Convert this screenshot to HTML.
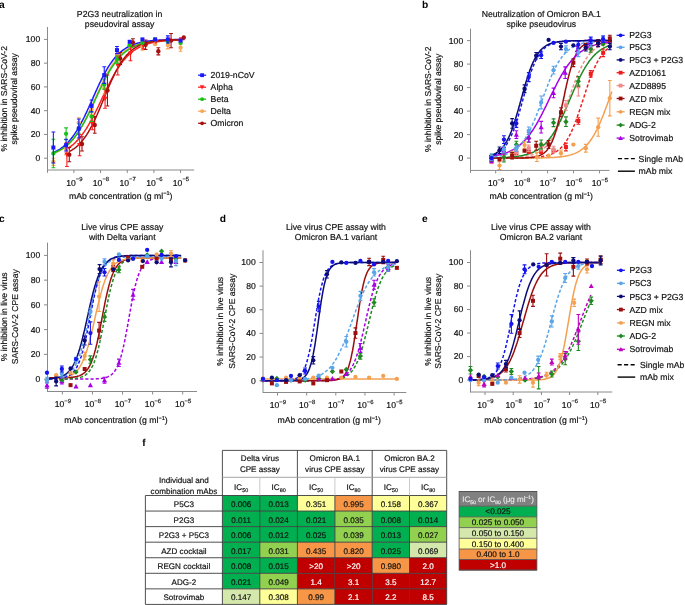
<!DOCTYPE html>
<html><head><meta charset="utf-8"><style>
html,body{margin:0;padding:0;background:#fff;width:685px;height:605px;overflow:hidden}
svg{display:block;font-family:"Liberation Sans", sans-serif;will-change:transform;text-rendering:geometricPrecision}
</style></head><body>
<svg width="685" height="605" viewBox="0 0 685 605" font-family='"Liberation Sans", sans-serif'>
<rect width="685" height="605" fill="#fff"/>
<text x="-0.90" y="7.90" font-size="10.2" text-anchor="start" font-weight="bold" fill="#000">a</text>
<text x="119.60" y="16.70" font-size="8.7" text-anchor="middle" font-weight="normal" fill="#111" stroke="#111" stroke-width="0.18">P2G3 neutralization in</text>
<text x="119.60" y="26.70" font-size="8.7" text-anchor="middle" font-weight="normal" fill="#111" stroke="#111" stroke-width="0.18">pseudoviral assay</text>
<text x="6.70" y="98.80" font-size="8.6" text-anchor="middle" font-weight="normal" fill="#111" transform="rotate(-90 6.70 98.80)" stroke="#111" stroke-width="0.18">% inhibition in SARS-CoV-2</text>
<text x="16.90" y="98.80" font-size="8.6" text-anchor="middle" font-weight="normal" fill="#111" transform="rotate(-90 16.90 98.80)" stroke="#111" stroke-width="0.18">spike pseudoviral assay</text>
<line x1="47.5" y1="27" x2="47.5" y2="172.8" stroke="#8a8a8a" stroke-width="1"/>
<line x1="47.5" y1="170" x2="194.2" y2="170" stroke="#8a8a8a" stroke-width="1"/>
<line x1="44.0" y1="158.20" x2="47.5" y2="158.20" stroke="#8a8a8a" stroke-width="1"/>
<text x="40.20" y="161.10" font-size="8.6" text-anchor="end" font-weight="normal" fill="#111" stroke="#111" stroke-width="0.18">0</text>
<line x1="44.0" y1="134.44" x2="47.5" y2="134.44" stroke="#8a8a8a" stroke-width="1"/>
<text x="40.20" y="137.34" font-size="8.6" text-anchor="end" font-weight="normal" fill="#111" stroke="#111" stroke-width="0.18">20</text>
<line x1="44.0" y1="110.68" x2="47.5" y2="110.68" stroke="#8a8a8a" stroke-width="1"/>
<text x="40.20" y="113.58" font-size="8.6" text-anchor="end" font-weight="normal" fill="#111" stroke="#111" stroke-width="0.18">40</text>
<line x1="44.0" y1="86.92" x2="47.5" y2="86.92" stroke="#8a8a8a" stroke-width="1"/>
<text x="40.20" y="89.82" font-size="8.6" text-anchor="end" font-weight="normal" fill="#111" stroke="#111" stroke-width="0.18">60</text>
<line x1="44.0" y1="63.16" x2="47.5" y2="63.16" stroke="#8a8a8a" stroke-width="1"/>
<text x="40.20" y="66.06" font-size="8.6" text-anchor="end" font-weight="normal" fill="#111" stroke="#111" stroke-width="0.18">80</text>
<line x1="44.0" y1="39.40" x2="47.5" y2="39.40" stroke="#8a8a8a" stroke-width="1"/>
<text x="40.20" y="42.30" font-size="8.6" text-anchor="end" font-weight="normal" fill="#111" stroke="#111" stroke-width="0.18">100</text>
<line x1="73.90" y1="170" x2="73.90" y2="173" stroke="#8a8a8a" stroke-width="1"/>
<text x="74.30" y="185.50" font-size="8.6" text-anchor="middle" font-weight="normal" fill="#111" stroke="#111" stroke-width="0.18">10<tspan dy="-4.4" font-size="5.9">−9</tspan></text>
<line x1="100.57" y1="170" x2="100.57" y2="173" stroke="#8a8a8a" stroke-width="1"/>
<text x="100.97" y="185.50" font-size="8.6" text-anchor="middle" font-weight="normal" fill="#111" stroke="#111" stroke-width="0.18">10<tspan dy="-4.4" font-size="5.9">−8</tspan></text>
<line x1="127.24" y1="170" x2="127.24" y2="173" stroke="#8a8a8a" stroke-width="1"/>
<text x="127.64" y="185.50" font-size="8.6" text-anchor="middle" font-weight="normal" fill="#111" stroke="#111" stroke-width="0.18">10<tspan dy="-4.4" font-size="5.9">−7</tspan></text>
<line x1="153.91" y1="170" x2="153.91" y2="173" stroke="#8a8a8a" stroke-width="1"/>
<text x="154.31" y="185.50" font-size="8.6" text-anchor="middle" font-weight="normal" fill="#111" stroke="#111" stroke-width="0.18">10<tspan dy="-4.4" font-size="5.9">−6</tspan></text>
<line x1="180.58" y1="170" x2="180.58" y2="173" stroke="#8a8a8a" stroke-width="1"/>
<text x="180.98" y="185.50" font-size="8.6" text-anchor="middle" font-weight="normal" fill="#111" stroke="#111" stroke-width="0.18">10<tspan dy="-4.4" font-size="5.9">−5</tspan></text>
<text x="120.80" y="198.80" font-size="8.7" text-anchor="middle" font-weight="normal" fill="#111" stroke="#111" stroke-width="0.18">mAb concentration (g ml<tspan dy="-3.4" font-size="5.6">−1</tspan><tspan dy="3.4">)</tspan></text>
<polyline points="53.4,153.4 54.0,153.2 54.7,152.9 55.4,152.6 56.0,152.4 56.7,152.1 57.4,151.8 58.0,151.5 58.7,151.1 59.4,150.8 60.0,150.4 60.7,150.1 61.4,149.7 62.0,149.3 62.7,148.8 63.4,148.4 64.0,147.9 64.7,147.4 65.4,146.9 66.0,146.4 66.7,145.9 67.4,145.3 68.0,144.7 68.7,144.1 69.3,143.4 70.0,142.8 70.7,142.1 71.3,141.4 72.0,140.6 72.7,139.8 73.3,139.0 74.0,138.2 74.7,137.4 75.3,136.5 76.0,135.6 76.7,134.6 77.3,133.7 78.0,132.7 78.7,131.6 79.3,130.6 80.0,129.5 80.7,128.4 81.3,127.2 82.0,126.1 82.7,124.9 83.3,123.6 84.0,122.4 84.7,121.1 85.3,119.8 86.0,118.5 86.7,117.1 87.3,115.8 88.0,114.4 88.7,113.0 89.3,111.6 90.0,110.1 90.7,108.7 91.3,107.2 92.0,105.7 92.7,104.3 93.3,102.8 94.0,101.3 94.7,99.8 95.3,98.3 96.0,96.8 96.7,95.3 97.3,93.8 98.0,92.3 98.7,90.9 99.3,89.4 100.0,88.0 100.7,86.5 101.3,85.1 102.0,83.7 102.7,82.3 103.3,81.0 104.0,79.6 104.7,78.3 105.3,77.0 106.0,75.7 106.6,74.5 107.3,73.2 108.0,72.1 108.6,70.9 109.3,69.7 110.0,68.6 110.6,67.5 111.3,66.5 112.0,65.5 112.6,64.5 113.3,63.5 114.0,62.6 114.6,61.7 115.3,60.8 116.0,59.9 116.6,59.1 117.3,58.3 118.0,57.5 118.6,56.8 119.3,56.1 120.0,55.4 120.6,54.7 121.3,54.1 122.0,53.5 122.6,52.9 123.3,52.3 124.0,51.8 124.6,51.2 125.3,50.7 126.0,50.2 126.6,49.8 127.3,49.3 128.0,48.9 128.6,48.5 129.3,48.1 130.0,47.7 130.6,47.4 131.3,47.0 132.0,46.7 132.6,46.4 133.3,46.1 134.0,45.8 134.6,45.5 135.3,45.3 136.0,45.0 136.6,44.8 137.3,44.6 138.0,44.3 138.6,44.1 139.3,43.9 140.0,43.7 140.6,43.6 141.3,43.4 141.9,43.2 142.6,43.1 143.3,42.9 143.9,42.8 144.6,42.7 145.3,42.5 145.9,42.4 146.6,42.3 147.3,42.2 147.9,42.1 148.6,42.0 149.3,41.9 149.9,41.8 150.6,41.7 151.3,41.6 151.9,41.5 152.6,41.5 153.3,41.4 153.9,41.3 154.6,41.3 155.3,41.2 155.9,41.1 156.6,41.1 157.3,41.0 157.9,41.0 158.6,40.9 159.3,40.9 159.9,40.8 160.6,40.8 161.3,40.8 161.9,40.7 162.6,40.7 163.3,40.6 163.9,40.6 164.6,40.6 165.3,40.6 165.9,40.5 166.6,40.5 167.3,40.5 167.9,40.5 168.6,40.4 169.3,40.4 169.9,40.4 170.6,40.4 171.3,40.4 171.9,40.3 172.6,40.3 173.3,40.3 173.9,40.3 174.6,40.3 175.3,40.3 175.9,40.2 176.6,40.2 177.3,40.2 177.9,40.2 178.6,40.2 179.2,40.2 179.9,40.2 180.6,40.2 181.2,40.2 181.9,40.2" fill="none" stroke="#f7a65a" stroke-width="1.5" stroke-linejoin="round"/>
<polyline points="53.4,152.4 54.0,152.2 54.7,151.9 55.4,151.6 56.0,151.2 56.7,150.9 57.4,150.5 58.0,150.2 58.7,149.8 59.4,149.4 60.0,149.0 60.7,148.5 61.4,148.1 62.0,147.6 62.7,147.1 63.4,146.6 64.0,146.0 64.7,145.4 65.4,144.9 66.0,144.3 66.7,143.6 67.4,143.0 68.0,142.3 68.7,141.6 69.3,140.8 70.0,140.1 70.7,139.3 71.3,138.4 72.0,137.6 72.7,136.7 73.3,135.8 74.0,134.9 74.7,133.9 75.3,132.9 76.0,131.9 76.7,130.9 77.3,129.8 78.0,128.7 78.7,127.5 79.3,126.4 80.0,125.2 80.7,124.0 81.3,122.7 82.0,121.4 82.7,120.1 83.3,118.8 84.0,117.5 84.7,116.1 85.3,114.7 86.0,113.3 86.7,111.9 87.3,110.5 88.0,109.0 88.7,107.5 89.3,106.1 90.0,104.6 90.7,103.1 91.3,101.6 92.0,100.1 92.7,98.6 93.3,97.1 94.0,95.6 94.7,94.1 95.3,92.6 96.0,91.1 96.7,89.6 97.3,88.2 98.0,86.7 98.7,85.3 99.3,83.9 100.0,82.5 100.7,81.1 101.3,79.7 102.0,78.4 102.7,77.1 103.3,75.8 104.0,74.5 104.7,73.3 105.3,72.1 106.0,70.9 106.6,69.7 107.3,68.6 108.0,67.5 108.6,66.4 109.3,65.4 110.0,64.4 110.6,63.4 111.3,62.5 112.0,61.5 112.6,60.6 113.3,59.8 114.0,58.9 114.6,58.1 115.3,57.3 116.0,56.6 116.6,55.8 117.3,55.1 118.0,54.5 118.6,53.8 119.3,53.2 120.0,52.6 120.6,52.0 121.3,51.4 122.0,50.9 122.6,50.4 123.3,49.9 124.0,49.4 124.6,49.0 125.3,48.5 126.0,48.1 126.6,47.7 127.3,47.3 128.0,47.0 128.6,46.6 129.3,46.3 130.0,46.0 130.6,45.6 131.3,45.4 132.0,45.1 132.6,44.8 133.3,44.6 134.0,44.3 134.6,44.1 135.3,43.9 136.0,43.6 136.6,43.4 137.3,43.2 138.0,43.1 138.6,42.9 139.3,42.7 140.0,42.6 140.6,42.4 141.3,42.3 141.9,42.1 142.6,42.0 143.3,41.9 143.9,41.7 144.6,41.6 145.3,41.5 145.9,41.4 146.6,41.3 147.3,41.2 147.9,41.1 148.6,41.1 149.3,41.0 149.9,40.9 150.6,40.8 151.3,40.8 151.9,40.7 152.6,40.6 153.3,40.6 153.9,40.5 154.6,40.5 155.3,40.4 155.9,40.4 156.6,40.3 157.3,40.3 157.9,40.2 158.6,40.2 159.3,40.1 159.9,40.1 160.6,40.1 161.3,40.0 161.9,40.0 162.6,40.0 163.3,39.9 163.9,39.9 164.6,39.9 165.3,39.9 165.9,39.8 166.6,39.8 167.3,39.8 167.9,39.8 168.6,39.8 169.3,39.7 169.9,39.7 170.6,39.7 171.3,39.7 171.9,39.7 172.6,39.7 173.3,39.7 173.9,39.6 174.6,39.6 175.3,39.6 175.9,39.6 176.6,39.6 177.3,39.6 177.9,39.6 178.6,39.6 179.2,39.6 179.9,39.6 180.6,39.5 181.2,39.5 181.9,39.5" fill="none" stroke="#1a1aff" stroke-width="1.5" stroke-linejoin="round"/>
<polyline points="53.4,153.1 54.0,152.8 54.7,152.6 55.4,152.3 56.0,152.0 56.7,151.7 57.4,151.4 58.0,151.1 58.7,150.8 59.4,150.4 60.0,150.1 60.7,149.7 61.4,149.3 62.0,148.9 62.7,148.4 63.4,148.0 64.0,147.5 64.7,147.0 65.4,146.5 66.0,146.0 66.7,145.5 67.4,144.9 68.0,144.3 68.7,143.7 69.3,143.1 70.0,142.4 70.7,141.7 71.3,141.0 72.0,140.3 72.7,139.5 73.3,138.8 74.0,138.0 74.7,137.1 75.3,136.3 76.0,135.4 76.7,134.5 77.3,133.5 78.0,132.6 78.7,131.6 79.3,130.5 80.0,129.5 80.7,128.4 81.3,127.3 82.0,126.2 82.7,125.0 83.3,123.9 84.0,122.7 84.7,121.4 85.3,120.2 86.0,118.9 86.7,117.6 87.3,116.3 88.0,115.0 88.7,113.6 89.3,112.3 90.0,110.9 90.7,109.5 91.3,108.1 92.0,106.7 92.7,105.2 93.3,103.8 94.0,102.4 94.7,100.9 95.3,99.5 96.0,98.0 96.7,96.6 97.3,95.2 98.0,93.7 98.7,92.3 99.3,90.9 100.0,89.5 100.7,88.1 101.3,86.7 102.0,85.3 102.7,83.9 103.3,82.6 104.0,81.3 104.7,80.0 105.3,78.7 106.0,77.4 106.6,76.2 107.3,75.0 108.0,73.8 108.6,72.6 109.3,71.5 110.0,70.4 110.6,69.3 111.3,68.2 112.0,67.2 112.6,66.2 113.3,65.2 114.0,64.2 114.6,63.3 115.3,62.4 116.0,61.5 116.6,60.7 117.3,59.8 118.0,59.1 118.6,58.3 119.3,57.5 120.0,56.8 120.6,56.1 121.3,55.5 122.0,54.8 122.6,54.2 123.3,53.6 124.0,53.0 124.6,52.5 125.3,51.9 126.0,51.4 126.6,50.9 127.3,50.4 128.0,50.0 128.6,49.5 129.3,49.1 130.0,48.7 130.6,48.3 131.3,48.0 132.0,47.6 132.6,47.3 133.3,46.9 134.0,46.6 134.6,46.3 135.3,46.0 136.0,45.8 136.6,45.5 137.3,45.3 138.0,45.0 138.6,44.8 139.3,44.6 140.0,44.4 140.6,44.2 141.3,44.0 141.9,43.8 142.6,43.6 143.3,43.4 143.9,43.3 144.6,43.1 145.3,43.0 145.9,42.8 146.6,42.7 147.3,42.6 147.9,42.5 148.6,42.3 149.3,42.2 149.9,42.1 150.6,42.0 151.3,41.9 151.9,41.8 152.6,41.8 153.3,41.7 153.9,41.6 154.6,41.5 155.3,41.4 155.9,41.4 156.6,41.3 157.3,41.3 157.9,41.2 158.6,41.1 159.3,41.1 159.9,41.0 160.6,41.0 161.3,40.9 161.9,40.9 162.6,40.8 163.3,40.8 163.9,40.8 164.6,40.7 165.3,40.7 165.9,40.7 166.6,40.6 167.3,40.6 167.9,40.6 168.6,40.5 169.3,40.5 169.9,40.5 170.6,40.5 171.3,40.4 171.9,40.4 172.6,40.4 173.3,40.4 173.9,40.4 174.6,40.3 175.3,40.3 175.9,40.3 176.6,40.3 177.3,40.3 177.9,40.3 178.6,40.3 179.2,40.2 179.9,40.2 180.6,40.2 181.2,40.2 181.9,40.2" fill="none" stroke="#17c217" stroke-width="1.5" stroke-linejoin="round"/>
<polyline points="68.0,148.3 68.7,147.9 69.4,147.4 70.0,146.9 70.7,146.4 71.4,145.9 72.0,145.4 72.7,144.9 73.4,144.3 74.0,143.7 74.7,143.1 75.4,142.5 76.0,141.8 76.7,141.1 77.4,140.4 78.0,139.7 78.7,139.0 79.4,138.2 80.0,137.4 80.7,136.6 81.4,135.7 82.0,134.8 82.7,133.9 83.3,133.0 84.0,132.1 84.7,131.1 85.3,130.1 86.0,129.1 86.7,128.0 87.3,127.0 88.0,125.9 88.7,124.7 89.3,123.6 90.0,122.4 90.7,121.2 91.3,120.0 92.0,118.8 92.7,117.5 93.3,116.3 94.0,115.0 94.7,113.7 95.3,112.4 96.0,111.0 96.7,109.7 97.3,108.3 98.0,107.0 98.7,105.6 99.3,104.2 100.0,102.8 100.7,101.4 101.3,100.0 102.0,98.6 102.7,97.2 103.3,95.8 104.0,94.4 104.7,93.0 105.3,91.6 106.0,90.3 106.7,88.9 107.3,87.5 108.0,86.2 108.7,84.9 109.3,83.5 110.0,82.2 110.7,81.0 111.3,79.7 112.0,78.5 112.7,77.2 113.3,76.0 114.0,74.8 114.7,73.7 115.3,72.5 116.0,71.4 116.6,70.3 117.3,69.3 118.0,68.2 118.6,67.2 119.3,66.2 120.0,65.3 120.6,64.3 121.3,63.4 122.0,62.5 122.6,61.6 123.3,60.8 124.0,60.0 124.6,59.2 125.3,58.4 126.0,57.7 126.6,57.0 127.3,56.3 128.0,55.6 128.6,55.0 129.3,54.3 130.0,53.7 130.6,53.1 131.3,52.6 132.0,52.0 132.6,51.5 133.3,51.0 134.0,50.5 134.6,50.1 135.3,49.6 136.0,49.2 136.6,48.8 137.3,48.4 138.0,48.0 138.6,47.6 139.3,47.3 140.0,46.9 140.6,46.6 141.3,46.3 142.0,46.0 142.6,45.7 143.3,45.4 144.0,45.2 144.6,44.9 145.3,44.7 146.0,44.4 146.6,44.2 147.3,44.0 147.9,43.8 148.6,43.6 149.3,43.4 149.9,43.2 150.6,43.1 151.3,42.9 151.9,42.7 152.6,42.6 153.3,42.4 153.9,42.3 154.6,42.2 155.3,42.1 155.9,41.9 156.6,41.8 157.3,41.7 157.9,41.6 158.6,41.5 159.3,41.4 159.9,41.3 160.6,41.2 161.3,41.2 161.9,41.1 162.6,41.0 163.3,40.9 163.9,40.9 164.6,40.8 165.3,40.7 165.9,40.7 166.6,40.6 167.3,40.6 167.9,40.5 168.6,40.4 169.3,40.4 169.9,40.4 170.6,40.3 171.3,40.3 171.9,40.2 172.6,40.2 173.3,40.2 173.9,40.1 174.6,40.1 175.3,40.1 175.9,40.0 176.6,40.0 177.3,40.0 177.9,39.9 178.6,39.9 179.2,39.9 179.9,39.9 180.6,39.9 181.2,39.8 181.9,39.8" fill="none" stroke="#ff1f1f" stroke-width="1.5" stroke-linejoin="round"/>
<polyline points="69.9,151.2 70.6,150.9 71.2,150.5 71.9,150.1 72.6,149.7 73.2,149.2 73.9,148.8 74.5,148.3 75.2,147.8 75.9,147.3 76.5,146.7 77.2,146.1 77.9,145.5 78.5,144.9 79.2,144.2 79.8,143.6 80.5,142.9 81.2,142.1 81.8,141.3 82.5,140.5 83.2,139.7 83.8,138.8 84.5,137.9 85.1,137.0 85.8,136.0 86.5,135.1 87.1,134.0 87.8,133.0 88.5,131.9 89.1,130.7 89.8,129.6 90.4,128.4 91.1,127.1 91.8,125.9 92.4,124.6 93.1,123.2 93.8,121.9 94.4,120.5 95.1,119.1 95.8,117.7 96.4,116.2 97.1,114.7 97.7,113.2 98.4,111.7 99.1,110.1 99.7,108.6 100.4,107.0 101.1,105.4 101.7,103.8 102.4,102.2 103.0,100.6 103.7,99.0 104.4,97.3 105.0,95.7 105.7,94.1 106.4,92.5 107.0,90.9 107.7,89.3 108.3,87.8 109.0,86.2 109.7,84.7 110.3,83.2 111.0,81.7 111.7,80.2 112.3,78.8 113.0,77.4 113.7,76.0 114.3,74.6 115.0,73.3 115.6,72.0 116.3,70.7 117.0,69.5 117.6,68.3 118.3,67.1 119.0,66.0 119.6,64.8 120.3,63.8 120.9,62.7 121.6,61.7 122.3,60.8 122.9,59.8 123.6,58.9 124.3,58.1 124.9,57.2 125.6,56.4 126.2,55.6 126.9,54.9 127.6,54.2 128.2,53.5 128.9,52.8 129.6,52.2 130.2,51.6 130.9,51.0 131.5,50.4 132.2,49.9 132.9,49.4 133.5,48.9 134.2,48.4 134.9,48.0 135.5,47.6 136.2,47.2 136.9,46.8 137.5,46.4 138.2,46.1 138.8,45.7 139.5,45.4 140.2,45.1 140.8,44.8 141.5,44.6 142.2,44.3 142.8,44.0 143.5,43.8 144.1,43.6 144.8,43.4 145.5,43.2 146.1,43.0 146.8,42.8 147.5,42.6 148.1,42.4 148.8,42.3 149.4,42.1 150.1,42.0 150.8,41.9 151.4,41.7 152.1,41.6 152.8,41.5 153.4,41.4 154.1,41.3 154.8,41.2 155.4,41.1 156.1,41.0 156.7,40.9 157.4,40.8 158.1,40.8 158.7,40.7 159.4,40.6 160.1,40.6 160.7,40.5 161.4,40.4 162.0,40.4 162.7,40.3 163.4,40.3 164.0,40.2 164.7,40.2 165.4,40.2 166.0,40.1 166.7,40.1 167.3,40.0 168.0,40.0 168.7,40.0 169.3,39.9 170.0,39.9 170.7,39.9 171.3,39.9 172.0,39.8 172.6,39.8 173.3,39.8 174.0,39.8 174.6,39.8 175.3,39.7 176.0,39.7 176.6,39.7 177.3,39.7 178.0,39.7 178.6,39.7 179.3,39.6 179.9,39.6 180.6,39.6 181.3,39.6 181.9,39.6 182.6,39.6 183.3,39.6 183.9,39.6 184.6,39.6" fill="none" stroke="#a81010" stroke-width="1.5" stroke-linejoin="round"/>
<path d="M53.36,158.20V165.33M51.46,158.20h3.80M51.46,165.33h3.80" stroke="#f7a65a" stroke-width="1.1" fill="none"/>
<path d="M66.09,142.76V154.64M64.19,142.76h3.80M64.19,154.64h3.80" stroke="#f7a65a" stroke-width="1.1" fill="none"/>
<path d="M78.81,117.81V127.31M76.91,117.81h3.80M76.91,127.31h3.80" stroke="#f7a65a" stroke-width="1.1" fill="none"/>
<path d="M91.53,104.74V114.24M89.63,104.74h3.80M89.63,114.24h3.80" stroke="#f7a65a" stroke-width="1.1" fill="none"/>
<path d="M104.25,82.17V94.05M102.35,82.17h3.80M102.35,94.05h3.80" stroke="#f7a65a" stroke-width="1.1" fill="none"/>
<path d="M116.97,51.28V58.41M115.07,51.28h3.80M115.07,58.41h3.80" stroke="#f7a65a" stroke-width="1.1" fill="none"/>
<path d="M142.42,42.96V50.09M140.52,42.96h3.80M140.52,50.09h3.80" stroke="#f7a65a" stroke-width="1.1" fill="none"/>
<path d="M167.86,41.78V48.90M165.96,41.78h3.80M165.96,48.90h3.80" stroke="#f7a65a" stroke-width="1.1" fill="none"/>
<path d="M180.58,44.15V51.28M178.68,44.15h3.80M178.68,51.28h3.80" stroke="#f7a65a" stroke-width="1.1" fill="none"/>
<circle cx="53.36" cy="161.76" r="2.15" fill="#f7a65a"/>
<circle cx="66.09" cy="148.70" r="2.15" fill="#f7a65a"/>
<circle cx="78.81" cy="122.56" r="2.15" fill="#f7a65a"/>
<circle cx="91.53" cy="109.49" r="2.15" fill="#f7a65a"/>
<circle cx="104.25" cy="88.11" r="2.15" fill="#f7a65a"/>
<circle cx="116.97" cy="54.84" r="2.15" fill="#f7a65a"/>
<circle cx="129.69" cy="44.15" r="2.15" fill="#f7a65a"/>
<circle cx="142.42" cy="46.53" r="2.15" fill="#f7a65a"/>
<circle cx="155.14" cy="44.15" r="2.15" fill="#f7a65a"/>
<circle cx="167.86" cy="45.34" r="2.15" fill="#f7a65a"/>
<circle cx="180.58" cy="47.72" r="2.15" fill="#f7a65a"/>
<path d="M66.89,142.76V166.52M64.99,142.76h3.80M64.99,166.52h3.80" stroke="#ff1f1f" stroke-width="1.1" fill="none"/>
<path d="M79.61,134.44V155.82M77.71,134.44h3.80M77.71,155.82h3.80" stroke="#ff1f1f" stroke-width="1.1" fill="none"/>
<path d="M92.33,117.81V129.69M90.43,117.81h3.80M90.43,129.69h3.80" stroke="#ff1f1f" stroke-width="1.1" fill="none"/>
<path d="M105.05,89.30V108.30M103.15,89.30h3.80M103.15,108.30h3.80" stroke="#ff1f1f" stroke-width="1.1" fill="none"/>
<path d="M117.77,56.03V75.04M115.87,56.03h3.80M115.87,75.04h3.80" stroke="#ff1f1f" stroke-width="1.1" fill="none"/>
<path d="M130.49,46.53V60.78M128.59,46.53h3.80M128.59,60.78h3.80" stroke="#ff1f1f" stroke-width="1.1" fill="none"/>
<path d="M143.22,41.78V48.90M141.32,41.78h3.80M141.32,48.90h3.80" stroke="#ff1f1f" stroke-width="1.1" fill="none"/>
<path d="M66.89,157.19L69.44,152.60L64.34,152.60Z" fill="#ff1f1f"/>
<path d="M79.61,147.68L82.16,143.09L77.06,143.09Z" fill="#ff1f1f"/>
<path d="M92.33,126.30L94.88,121.71L89.78,121.71Z" fill="#ff1f1f"/>
<path d="M105.05,101.35L107.60,96.76L102.50,96.76Z" fill="#ff1f1f"/>
<path d="M117.77,68.09L120.32,63.50L115.22,63.50Z" fill="#ff1f1f"/>
<path d="M130.49,56.21L133.04,51.62L127.94,51.62Z" fill="#ff1f1f"/>
<path d="M143.22,47.89L145.77,43.30L140.67,43.30Z" fill="#ff1f1f"/>
<path d="M155.94,44.33L158.49,39.74L153.39,39.74Z" fill="#ff1f1f"/>
<path d="M168.66,43.14L171.21,38.55L166.11,38.55Z" fill="#ff1f1f"/>
<path d="M181.38,41.95L183.93,37.36L178.83,37.36Z" fill="#ff1f1f"/>
<path d="M69.29,147.51V161.76M67.39,147.51h3.80M67.39,161.76h3.80" stroke="#a81010" stroke-width="1.1" fill="none"/>
<path d="M82.01,136.82V151.07M80.11,136.82h3.80M80.11,151.07h3.80" stroke="#a81010" stroke-width="1.1" fill="none"/>
<path d="M94.73,116.62V133.25M92.83,116.62h3.80M92.83,133.25h3.80" stroke="#a81010" stroke-width="1.1" fill="none"/>
<path d="M107.45,75.04V105.93M105.55,75.04h3.80M105.55,105.93h3.80" stroke="#a81010" stroke-width="1.1" fill="none"/>
<path d="M120.17,52.47V64.35M118.27,52.47h3.80M118.27,64.35h3.80" stroke="#a81010" stroke-width="1.1" fill="none"/>
<path d="M132.89,38.81V45.93M130.99,38.81h3.80M130.99,45.93h3.80" stroke="#a81010" stroke-width="1.1" fill="none"/>
<path d="M145.62,39.99V49.50M143.72,39.99h3.80M143.72,49.50h3.80" stroke="#a81010" stroke-width="1.1" fill="none"/>
<path d="M158.34,47.72V54.84M156.44,47.72h3.80M156.44,54.84h3.80" stroke="#a81010" stroke-width="1.1" fill="none"/>
<path d="M171.06,33.46V47.72M169.16,33.46h3.80M169.16,47.72h3.80" stroke="#a81010" stroke-width="1.1" fill="none"/>
<circle cx="69.29" cy="154.64" r="2.20" fill="#a81010"/>
<circle cx="82.01" cy="143.94" r="2.20" fill="#a81010"/>
<circle cx="94.73" cy="124.94" r="2.20" fill="#a81010"/>
<circle cx="107.45" cy="90.48" r="2.20" fill="#a81010"/>
<circle cx="120.17" cy="58.41" r="2.20" fill="#a81010"/>
<circle cx="132.89" cy="42.37" r="2.20" fill="#a81010"/>
<circle cx="145.62" cy="44.75" r="2.20" fill="#a81010"/>
<circle cx="158.34" cy="51.28" r="2.20" fill="#a81010"/>
<circle cx="171.06" cy="40.59" r="2.20" fill="#a81010"/>
<circle cx="183.78" cy="37.38" r="2.20" fill="#a81010"/>
<path d="M53.36,139.19V167.70M51.46,139.19h3.80M51.46,167.70h3.80" stroke="#17c217" stroke-width="1.1" fill="none"/>
<path d="M66.09,127.91V139.79M64.19,127.91h3.80M64.19,139.79h3.80" stroke="#17c217" stroke-width="1.1" fill="none"/>
<path d="M78.81,123.75V133.25M76.91,123.75h3.80M76.91,133.25h3.80" stroke="#17c217" stroke-width="1.1" fill="none"/>
<path d="M91.53,111.87V121.37M89.63,111.87h3.80M89.63,121.37h3.80" stroke="#17c217" stroke-width="1.1" fill="none"/>
<path d="M104.25,79.79V89.30M102.35,79.79h3.80M102.35,89.30h3.80" stroke="#17c217" stroke-width="1.1" fill="none"/>
<path d="M116.97,56.03V63.16M115.07,56.03h3.80M115.07,63.16h3.80" stroke="#17c217" stroke-width="1.1" fill="none"/>
<circle cx="53.36" cy="153.45" r="2.15" fill="#17c217"/>
<circle cx="66.09" cy="133.85" r="2.15" fill="#17c217"/>
<circle cx="78.81" cy="128.50" r="2.15" fill="#17c217"/>
<circle cx="91.53" cy="116.62" r="2.15" fill="#17c217"/>
<circle cx="104.25" cy="84.54" r="2.15" fill="#17c217"/>
<circle cx="116.97" cy="59.60" r="2.15" fill="#17c217"/>
<circle cx="129.69" cy="45.34" r="2.15" fill="#17c217"/>
<circle cx="142.42" cy="42.96" r="2.15" fill="#17c217"/>
<circle cx="155.14" cy="39.40" r="2.15" fill="#17c217"/>
<circle cx="167.86" cy="41.78" r="2.15" fill="#17c217"/>
<circle cx="180.58" cy="42.96" r="2.15" fill="#17c217"/>
<path d="M53.36,132.06V162.95M51.46,132.06h3.80M51.46,162.95h3.80" stroke="#1a1aff" stroke-width="1.1" fill="none"/>
<path d="M66.09,139.19V151.07M64.19,139.19h3.80M64.19,151.07h3.80" stroke="#1a1aff" stroke-width="1.1" fill="none"/>
<path d="M78.81,119.00V138.00M76.91,119.00h3.80M76.91,138.00h3.80" stroke="#1a1aff" stroke-width="1.1" fill="none"/>
<path d="M91.53,99.99V111.87M89.63,99.99h3.80M89.63,111.87h3.80" stroke="#1a1aff" stroke-width="1.1" fill="none"/>
<path d="M104.25,66.72V83.36M102.35,66.72h3.80M102.35,83.36h3.80" stroke="#1a1aff" stroke-width="1.1" fill="none"/>
<path d="M116.97,46.53V53.66M115.07,46.53h3.80M115.07,53.66h3.80" stroke="#1a1aff" stroke-width="1.1" fill="none"/>
<path d="M167.86,35.84V42.96M165.96,35.84h3.80M165.96,42.96h3.80" stroke="#1a1aff" stroke-width="1.1" fill="none"/>
<rect x="51.36" y="145.51" width="4.00" height="4.00" fill="#1a1aff"/>
<rect x="64.09" y="143.13" width="4.00" height="4.00" fill="#1a1aff"/>
<rect x="76.81" y="126.50" width="4.00" height="4.00" fill="#1a1aff"/>
<rect x="89.53" y="103.93" width="4.00" height="4.00" fill="#1a1aff"/>
<rect x="102.25" y="73.04" width="4.00" height="4.00" fill="#1a1aff"/>
<rect x="114.97" y="48.09" width="4.00" height="4.00" fill="#1a1aff"/>
<rect x="127.69" y="39.78" width="4.00" height="4.00" fill="#1a1aff"/>
<rect x="140.42" y="37.40" width="4.00" height="4.00" fill="#1a1aff"/>
<rect x="153.14" y="37.40" width="4.00" height="4.00" fill="#1a1aff"/>
<rect x="165.86" y="37.40" width="4.00" height="4.00" fill="#1a1aff"/>
<rect x="178.58" y="38.59" width="4.00" height="4.00" fill="#1a1aff"/>
<line x1="198.10" y1="75.20" x2="206.10" y2="75.20" stroke="#1a1aff" stroke-width="1.3"/>
<rect x="200.20" y="73.30" width="3.80" height="3.80" fill="#1a1aff"/>
<text x="210.60" y="78.30" font-size="8.7" text-anchor="start" font-weight="normal" fill="#111" stroke="#111" stroke-width="0.18">2019-nCoV</text>
<line x1="198.10" y1="87.20" x2="206.10" y2="87.20" stroke="#ff1f1f" stroke-width="1.3"/>
<path d="M202.10,89.50L204.40,85.36L199.80,85.36Z" fill="#ff1f1f"/>
<text x="210.60" y="90.30" font-size="8.7" text-anchor="start" font-weight="normal" fill="#111" stroke="#111" stroke-width="0.18">Alpha</text>
<line x1="198.10" y1="99.20" x2="206.10" y2="99.20" stroke="#17c217" stroke-width="1.3"/>
<circle cx="202.10" cy="99.20" r="1.90" fill="#17c217"/>
<text x="210.60" y="102.30" font-size="8.7" text-anchor="start" font-weight="normal" fill="#111" stroke="#111" stroke-width="0.18">Beta</text>
<line x1="198.10" y1="111.20" x2="206.10" y2="111.20" stroke="#f7a65a" stroke-width="1.3"/>
<circle cx="202.10" cy="111.20" r="1.90" fill="#f7a65a"/>
<text x="210.60" y="114.30" font-size="8.7" text-anchor="start" font-weight="normal" fill="#111" stroke="#111" stroke-width="0.18">Delta</text>
<line x1="198.10" y1="123.30" x2="206.10" y2="123.30" stroke="#a81010" stroke-width="1.3"/>
<circle cx="202.10" cy="123.30" r="1.90" fill="#a81010"/>
<text x="210.60" y="126.40" font-size="8.7" text-anchor="start" font-weight="normal" fill="#111" stroke="#111" stroke-width="0.18">Omicron</text>
<text x="422.00" y="7.80" font-size="10.2" text-anchor="start" font-weight="bold" fill="#000">b</text>
<text x="541.30" y="17.00" font-size="8.7" text-anchor="middle" font-weight="normal" fill="#111" stroke="#111" stroke-width="0.18">Neutralization of Omicron BA.1</text>
<text x="541.30" y="26.90" font-size="8.7" text-anchor="middle" font-weight="normal" fill="#111" stroke="#111" stroke-width="0.18">spike pseudovirus</text>
<text x="430.60" y="99.20" font-size="8.6" text-anchor="middle" font-weight="normal" fill="#111" transform="rotate(-90 430.60 99.20)" stroke="#111" stroke-width="0.18">% inhibition in SARS-CoV-2</text>
<text x="441.10" y="99.20" font-size="8.6" text-anchor="middle" font-weight="normal" fill="#111" transform="rotate(-90 441.10 99.20)" stroke="#111" stroke-width="0.18">spike pseudoviral assay</text>
<line x1="470.5" y1="28.7" x2="470.5" y2="172.9" stroke="#8a8a8a" stroke-width="1"/>
<line x1="470.5" y1="170.4" x2="609.5" y2="170.4" stroke="#8a8a8a" stroke-width="1"/>
<line x1="467.0" y1="158.10" x2="470.5" y2="158.10" stroke="#8a8a8a" stroke-width="1"/>
<text x="463.20" y="161.00" font-size="8.6" text-anchor="end" font-weight="normal" fill="#111" stroke="#111" stroke-width="0.18">0</text>
<line x1="467.0" y1="134.60" x2="470.5" y2="134.60" stroke="#8a8a8a" stroke-width="1"/>
<text x="463.20" y="137.50" font-size="8.6" text-anchor="end" font-weight="normal" fill="#111" stroke="#111" stroke-width="0.18">20</text>
<line x1="467.0" y1="111.10" x2="470.5" y2="111.10" stroke="#8a8a8a" stroke-width="1"/>
<text x="463.20" y="114.00" font-size="8.6" text-anchor="end" font-weight="normal" fill="#111" stroke="#111" stroke-width="0.18">40</text>
<line x1="467.0" y1="87.60" x2="470.5" y2="87.60" stroke="#8a8a8a" stroke-width="1"/>
<text x="463.20" y="90.50" font-size="8.6" text-anchor="end" font-weight="normal" fill="#111" stroke="#111" stroke-width="0.18">60</text>
<line x1="467.0" y1="64.10" x2="470.5" y2="64.10" stroke="#8a8a8a" stroke-width="1"/>
<text x="463.20" y="67.00" font-size="8.6" text-anchor="end" font-weight="normal" fill="#111" stroke="#111" stroke-width="0.18">80</text>
<line x1="467.0" y1="40.60" x2="470.5" y2="40.60" stroke="#8a8a8a" stroke-width="1"/>
<text x="463.20" y="43.50" font-size="8.6" text-anchor="end" font-weight="normal" fill="#111" stroke="#111" stroke-width="0.18">100</text>
<line x1="495.70" y1="170.4" x2="495.70" y2="173.4" stroke="#8a8a8a" stroke-width="1"/>
<text x="496.10" y="185.90" font-size="8.6" text-anchor="middle" font-weight="normal" fill="#111" stroke="#111" stroke-width="0.18">10<tspan dy="-4.4" font-size="5.9">−9</tspan></text>
<line x1="521.65" y1="170.4" x2="521.65" y2="173.4" stroke="#8a8a8a" stroke-width="1"/>
<text x="522.05" y="185.90" font-size="8.6" text-anchor="middle" font-weight="normal" fill="#111" stroke="#111" stroke-width="0.18">10<tspan dy="-4.4" font-size="5.9">−8</tspan></text>
<line x1="547.60" y1="170.4" x2="547.60" y2="173.4" stroke="#8a8a8a" stroke-width="1"/>
<text x="548.00" y="185.90" font-size="8.6" text-anchor="middle" font-weight="normal" fill="#111" stroke="#111" stroke-width="0.18">10<tspan dy="-4.4" font-size="5.9">−7</tspan></text>
<line x1="573.55" y1="170.4" x2="573.55" y2="173.4" stroke="#8a8a8a" stroke-width="1"/>
<text x="573.95" y="185.90" font-size="8.6" text-anchor="middle" font-weight="normal" fill="#111" stroke="#111" stroke-width="0.18">10<tspan dy="-4.4" font-size="5.9">−6</tspan></text>
<line x1="599.50" y1="170.4" x2="599.50" y2="173.4" stroke="#8a8a8a" stroke-width="1"/>
<text x="599.90" y="185.90" font-size="8.6" text-anchor="middle" font-weight="normal" fill="#111" stroke="#111" stroke-width="0.18">10<tspan dy="-4.4" font-size="5.9">−5</tspan></text>
<text x="541.20" y="199.00" font-size="8.7" text-anchor="middle" font-weight="normal" fill="#111" stroke="#111" stroke-width="0.18">mAb concentration (g ml<tspan dy="-3.4" font-size="5.6">−1</tspan><tspan dy="3.4">)</tspan></text>
<polyline points="489.2,158.1 489.9,158.1 490.5,158.1 491.2,158.1 491.8,158.1 492.4,158.1 493.1,158.1 493.7,158.1 494.4,158.1 495.0,158.1 495.7,158.1 496.3,158.1 497.0,158.1 497.6,158.1 498.3,158.1 498.9,158.1 499.5,158.1 500.2,158.1 500.8,158.1 501.5,158.1 502.1,158.1 502.8,158.1 503.4,158.1 504.1,158.1 504.7,158.1 505.4,158.1 506.0,158.1 506.7,158.1 507.3,158.1 507.9,158.1 508.6,158.1 509.2,158.1 509.9,158.1 510.5,158.1 511.2,158.1 511.8,158.1 512.5,158.1 513.1,158.1 513.8,158.1 514.4,158.1 515.1,158.1 515.7,158.1 516.3,158.1 517.0,158.1 517.6,158.1 518.3,158.1 518.9,158.1 519.6,158.1 520.2,158.1 520.9,158.1 521.5,158.1 522.2,158.1 522.8,158.1 523.5,158.1 524.1,158.1 524.7,158.1 525.4,158.1 526.0,158.0 526.7,158.0 527.3,158.0 528.0,158.0 528.6,158.0 529.3,158.0 529.9,158.0 530.6,158.0 531.2,158.0 531.8,158.0 532.5,158.0 533.1,158.0 533.8,158.0 534.4,158.0 535.1,158.0 535.7,158.0 536.4,158.0 537.0,158.0 537.7,157.9 538.3,157.9 539.0,157.9 539.6,157.9 540.2,157.9 540.9,157.9 541.5,157.9 542.2,157.9 542.8,157.9 543.5,157.8 544.1,157.8 544.8,157.8 545.4,157.8 546.1,157.8 546.7,157.7 547.4,157.7 548.0,157.7 548.6,157.7 549.3,157.7 549.9,157.6 550.6,157.6 551.2,157.6 551.9,157.5 552.5,157.5 553.2,157.5 553.8,157.4 554.5,157.4 555.1,157.3 555.8,157.3 556.4,157.2 557.0,157.2 557.7,157.1 558.3,157.1 559.0,157.0 559.6,156.9 560.3,156.9 560.9,156.8 561.6,156.7 562.2,156.6 562.9,156.5 563.5,156.4 564.2,156.3 564.8,156.2 565.4,156.1 566.1,156.0 566.7,155.9 567.4,155.7 568.0,155.6 568.7,155.4 569.3,155.3 570.0,155.1 570.6,154.9 571.3,154.7 571.9,154.5 572.5,154.3 573.2,154.1 573.8,153.9 574.5,153.6 575.1,153.3 575.8,153.1 576.4,152.8 577.1,152.4 577.7,152.1 578.4,151.8 579.0,151.4 579.7,151.0 580.3,150.6 580.9,150.1 581.6,149.7 582.2,149.2 582.9,148.7 583.5,148.2 584.2,147.6 584.8,147.0 585.5,146.4 586.1,145.7 586.8,145.1 587.4,144.4 588.1,143.6 588.7,142.8 589.3,142.0 590.0,141.2 590.6,140.3 591.3,139.3 591.9,138.4 592.6,137.4 593.2,136.3 593.9,135.2 594.5,134.1 595.2,132.9 595.8,131.7 596.5,130.5 597.1,129.2 597.7,127.8 598.4,126.5 599.0,125.0 599.7,123.6 600.3,122.1 601.0,120.6 601.6,119.0 602.3,117.5 602.9,115.8 603.6,114.2 604.2,112.5 604.8,110.8 605.5,109.1 606.1,107.4 606.8,105.7 607.4,103.9 608.1,102.1 608.7,100.4 609.4,98.6 610.0,96.8 610.7,95.1 611.3,93.3 612.0,91.6" fill="none" stroke="#f5a050" stroke-width="1.5" stroke-linejoin="round"/>
<polyline points="489.2,158.1 489.9,158.1 490.5,158.1 491.2,158.1 491.8,158.1 492.4,158.1 493.1,158.1 493.7,158.1 494.4,158.1 495.0,158.1 495.7,158.1 496.3,158.1 497.0,158.1 497.6,158.1 498.3,158.1 498.9,158.1 499.5,158.1 500.2,158.1 500.8,158.1 501.5,158.1 502.1,158.1 502.8,158.1 503.4,158.1 504.1,158.1 504.7,158.1 505.4,158.1 506.0,158.1 506.7,158.1 507.3,158.1 507.9,158.1 508.6,158.1 509.2,158.1 509.9,158.0 510.5,158.0 511.2,158.0 511.8,158.0 512.5,158.0 513.1,158.0 513.8,158.0 514.4,158.0 515.1,158.0 515.7,158.0 516.3,158.0 517.0,158.0 517.6,158.0 518.3,158.0 518.9,158.0 519.6,158.0 520.2,157.9 520.9,157.9 521.5,157.9 522.2,157.9 522.8,157.9 523.5,157.9 524.1,157.9 524.7,157.9 525.4,157.8 526.0,157.8 526.7,157.8 527.3,157.8 528.0,157.8 528.6,157.7 529.3,157.7 529.9,157.7 530.6,157.6 531.2,157.6 531.8,157.6 532.5,157.5 533.1,157.5 533.8,157.5 534.4,157.4 535.1,157.4 535.7,157.3 536.4,157.3 537.0,157.2 537.7,157.1 538.3,157.1 539.0,157.0 539.6,156.9 540.2,156.8 540.9,156.8 541.5,156.7 542.2,156.6 542.8,156.5 543.5,156.3 544.1,156.2 544.8,156.1 545.4,156.0 546.1,155.8 546.7,155.6 547.4,155.5 548.0,155.3 548.6,155.1 549.3,154.9 549.9,154.7 550.6,154.4 551.2,154.2 551.9,153.9 552.5,153.6 553.2,153.3 553.8,153.0 554.5,152.7 555.1,152.3 555.8,151.9 556.4,151.5 557.0,151.1 557.7,150.6 558.3,150.1 559.0,149.6 559.6,149.1 560.3,148.5 560.9,147.8 561.6,147.2 562.2,146.5 562.9,145.8 563.5,145.0 564.2,144.2 564.8,143.3 565.4,142.4 566.1,141.5 566.7,140.5 567.4,139.4 568.0,138.3 568.7,137.2 569.3,136.0 570.0,134.7 570.6,133.4 571.3,132.1 571.9,130.6 572.5,129.2 573.2,127.7 573.8,126.1 574.5,124.5 575.1,122.8 575.8,121.1 576.4,119.4 577.1,117.6 577.7,115.8 578.4,113.9 579.0,112.0 579.7,110.1 580.3,108.1 580.9,106.2 581.6,104.2 582.2,102.2 582.9,100.2 583.5,98.2 584.2,96.2 584.8,94.2 585.5,92.2 586.1,90.2 586.8,88.3 587.4,86.4 588.1,84.5 588.7,82.6 589.3,80.8 590.0,79.0 590.6,77.3 591.3,75.6 591.9,73.9 592.6,72.3 593.2,70.8 593.9,69.3 594.5,67.8 595.2,66.4 595.8,65.1 596.5,63.8 597.1,62.5 597.7,61.3 598.4,60.2 599.0,59.1 599.7,58.1 600.3,57.1 601.0,56.1 601.6,55.2 602.3,54.4 602.9,53.6 603.6,52.8 604.2,52.1 604.8,51.4 605.5,50.7 606.1,50.1 606.8,49.5 607.4,49.0 608.1,48.5 608.7,48.0 609.4,47.5 610.0,47.1 610.7,46.7 611.3,46.3 612.0,46.0" fill="none" stroke="#ee1d1d" stroke-width="1.5" stroke-dasharray="3.2,2" stroke-linejoin="round"/>
<polyline points="489.2,158.0 489.9,158.0 490.5,158.0 491.2,158.0 491.8,158.0 492.4,158.0 493.1,158.0 493.7,158.0 494.4,158.0 495.0,158.0 495.7,158.0 496.3,158.0 497.0,158.0 497.6,158.0 498.3,158.0 498.9,158.0 499.5,158.0 500.2,158.0 500.8,157.9 501.5,157.9 502.1,157.9 502.8,157.9 503.4,157.9 504.1,157.9 504.7,157.9 505.4,157.9 506.0,157.8 506.7,157.8 507.3,157.8 507.9,157.8 508.6,157.8 509.2,157.7 509.9,157.7 510.5,157.7 511.2,157.7 511.8,157.6 512.5,157.6 513.1,157.6 513.8,157.5 514.4,157.5 515.1,157.5 515.7,157.4 516.3,157.4 517.0,157.3 517.6,157.3 518.3,157.2 518.9,157.2 519.6,157.1 520.2,157.1 520.9,157.0 521.5,156.9 522.2,156.9 522.8,156.8 523.5,156.7 524.1,156.6 524.7,156.5 525.4,156.4 526.0,156.3 526.7,156.2 527.3,156.0 528.0,155.9 528.6,155.8 529.3,155.6 529.9,155.5 530.6,155.3 531.2,155.1 531.8,154.9 532.5,154.7 533.1,154.5 533.8,154.3 534.4,154.1 535.1,153.8 535.7,153.5 536.4,153.3 537.0,153.0 537.7,152.6 538.3,152.3 539.0,151.9 539.6,151.6 540.2,151.2 540.9,150.7 541.5,150.3 542.2,149.8 542.8,149.3 543.5,148.8 544.1,148.2 544.8,147.7 545.4,147.0 546.1,146.4 546.7,145.7 547.4,145.0 548.0,144.2 548.6,143.5 549.3,142.6 549.9,141.8 550.6,140.9 551.2,139.9 551.9,138.9 552.5,137.9 553.2,136.8 553.8,135.7 554.5,134.5 555.1,133.3 555.8,132.1 556.4,130.8 557.0,129.4 557.7,128.0 558.3,126.6 559.0,125.1 559.6,123.6 560.3,122.0 560.9,120.4 561.6,118.8 562.2,117.1 562.9,115.4 563.5,113.7 564.2,112.0 564.8,110.2 565.4,108.4 566.1,106.6 566.7,104.7 567.4,102.9 568.0,101.0 568.7,99.2 569.3,97.3 570.0,95.5 570.6,93.7 571.3,91.8 571.9,90.0 572.5,88.2 573.2,86.4 573.8,84.7 574.5,83.0 575.1,81.3 575.8,79.6 576.4,78.0 577.1,76.4 577.7,74.9 578.4,73.3 579.0,71.9 579.7,70.5 580.3,69.1 580.9,67.7 581.6,66.4 582.2,65.2 582.9,64.0 583.5,62.8 584.2,61.7 584.8,60.6 585.5,59.6 586.1,58.6 586.8,57.7 587.4,56.8 588.1,55.9 588.7,55.1 589.3,54.3 590.0,53.6 590.6,52.9 591.3,52.2 591.9,51.6 592.6,50.9 593.2,50.4 593.9,49.8 594.5,49.3 595.2,48.8 595.8,48.3 596.5,47.9 597.1,47.5 597.7,47.1 598.4,46.7 599.0,46.3 599.7,46.0 600.3,45.7 601.0,45.4 601.6,45.1 602.3,44.8 602.9,44.6 603.6,44.4 604.2,44.1 604.8,43.9 605.5,43.7 606.1,43.5 606.8,43.4 607.4,43.2 608.1,43.0 608.7,42.9 609.4,42.8 610.0,42.6 610.7,42.5 611.3,42.4 612.0,42.3" fill="none" stroke="#f08a8a" stroke-width="1.5" stroke-dasharray="3.2,2" stroke-linejoin="round"/>
<polyline points="489.2,157.9 489.9,157.9 490.5,157.9 491.2,157.9 491.8,157.9 492.4,157.9 493.1,157.8 493.7,157.8 494.4,157.8 495.0,157.8 495.7,157.8 496.3,157.8 497.0,157.8 497.6,157.7 498.3,157.7 498.9,157.7 499.5,157.7 500.2,157.7 500.8,157.6 501.5,157.6 502.1,157.6 502.8,157.6 503.4,157.5 504.1,157.5 504.7,157.5 505.4,157.4 506.0,157.4 506.7,157.4 507.3,157.3 507.9,157.3 508.6,157.2 509.2,157.2 509.9,157.1 510.5,157.1 511.2,157.0 511.8,157.0 512.5,156.9 513.1,156.9 513.8,156.8 514.4,156.7 515.1,156.6 515.7,156.6 516.3,156.5 517.0,156.4 517.6,156.3 518.3,156.2 518.9,156.1 519.6,156.0 520.2,155.9 520.9,155.8 521.5,155.7 522.2,155.6 522.8,155.4 523.5,155.3 524.1,155.1 524.7,155.0 525.4,154.8 526.0,154.7 526.7,154.5 527.3,154.3 528.0,154.1 528.6,153.9 529.3,153.7 529.9,153.5 530.6,153.2 531.2,153.0 531.8,152.7 532.5,152.5 533.1,152.2 533.8,151.9 534.4,151.6 535.1,151.2 535.7,150.9 536.4,150.6 537.0,150.2 537.7,149.8 538.3,149.4 539.0,149.0 539.6,148.5 540.2,148.0 540.9,147.6 541.5,147.1 542.2,146.5 542.8,146.0 543.5,145.4 544.1,144.8 544.8,144.2 545.4,143.5 546.1,142.9 546.7,142.2 547.4,141.5 548.0,140.7 548.6,139.9 549.3,139.1 549.9,138.3 550.6,137.4 551.2,136.5 551.9,135.6 552.5,134.7 553.2,133.7 553.8,132.7 554.5,131.6 555.1,130.5 555.8,129.4 556.4,128.3 557.0,127.1 557.7,126.0 558.3,124.7 559.0,123.5 559.6,122.2 560.3,120.9 560.9,119.6 561.6,118.2 562.2,116.9 562.9,115.5 563.5,114.1 564.2,112.6 564.8,111.2 565.4,109.7 566.1,108.3 566.7,106.8 567.4,105.3 568.0,103.8 568.7,102.3 569.3,100.8 570.0,99.2 570.6,97.7 571.3,96.2 571.9,94.7 572.5,93.2 573.2,91.7 573.8,90.2 574.5,88.7 575.1,87.3 575.8,85.8 576.4,84.4 577.1,83.0 577.7,81.6 578.4,80.3 579.0,78.9 579.7,77.6 580.3,76.3 580.9,75.0 581.6,73.8 582.2,72.6 582.9,71.4 583.5,70.2 584.2,69.1 584.8,68.0 585.5,66.9 586.1,65.9 586.8,64.9 587.4,63.9 588.1,63.0 588.7,62.0 589.3,61.1 590.0,60.3 590.6,59.5 591.3,58.7 591.9,57.9 592.6,57.1 593.2,56.4 593.9,55.7 594.5,55.1 595.2,54.4 595.8,53.8 596.5,53.2 597.1,52.6 597.7,52.1 598.4,51.6 599.0,51.1 599.7,50.6 600.3,50.1 601.0,49.7 601.6,49.3 602.3,48.9 602.9,48.5 603.6,48.1 604.2,47.7 604.8,47.4 605.5,47.1 606.1,46.8 606.8,46.5 607.4,46.2 608.1,45.9 608.7,45.7 609.4,45.4 610.0,45.2 610.7,45.0 611.3,44.8 612.0,44.6" fill="none" stroke="#1f8a22" stroke-width="1.5" stroke-linejoin="round"/>
<polyline points="489.2,158.1 489.9,158.1 490.5,158.1 491.2,158.1 491.8,158.1 492.4,158.1 493.1,158.1 493.7,158.1 494.4,158.1 495.0,158.1 495.7,158.1 496.3,158.1 497.0,158.1 497.6,158.1 498.3,158.1 498.9,158.1 499.5,158.1 500.2,158.1 500.8,158.1 501.5,158.1 502.1,158.1 502.8,158.1 503.4,158.1 504.1,158.1 504.7,158.1 505.4,158.1 506.0,158.1 506.7,158.1 507.3,158.1 507.9,158.1 508.6,158.1 509.2,158.1 509.9,158.1 510.5,158.1 511.2,158.1 511.8,158.1 512.5,158.1 513.1,158.1 513.8,158.1 514.4,158.1 515.1,158.0 515.7,158.0 516.3,158.0 517.0,158.0 517.6,158.0 518.3,158.0 518.9,158.0 519.6,158.0 520.2,158.0 520.9,158.0 521.5,158.0 522.2,157.9 522.8,157.9 523.5,157.9 524.1,157.9 524.7,157.9 525.4,157.8 526.0,157.8 526.7,157.8 527.3,157.7 528.0,157.7 528.6,157.6 529.3,157.6 529.9,157.5 530.6,157.5 531.2,157.4 531.8,157.3 532.5,157.3 533.1,157.2 533.8,157.1 534.4,157.0 535.1,156.8 535.7,156.7 536.4,156.6 537.0,156.4 537.7,156.2 538.3,156.0 539.0,155.8 539.6,155.5 540.2,155.3 540.9,155.0 541.5,154.6 542.2,154.3 542.8,153.9 543.5,153.4 544.1,153.0 544.8,152.4 545.4,151.8 546.1,151.2 546.7,150.5 547.4,149.7 548.0,148.9 548.6,148.0 549.3,147.0 549.9,145.9 550.6,144.7 551.2,143.4 551.9,142.1 552.5,140.6 553.2,139.0 553.8,137.3 554.5,135.5 555.1,133.5 555.8,131.4 556.4,129.3 557.0,127.0 557.7,124.5 558.3,122.0 559.0,119.4 559.6,116.7 560.3,113.8 560.9,111.0 561.6,108.0 562.2,105.0 562.9,102.0 563.5,99.0 564.2,96.0 564.8,93.0 565.4,90.0 566.1,87.1 566.7,84.2 567.4,81.4 568.0,78.7 568.7,76.1 569.3,73.6 570.0,71.2 570.6,68.9 571.3,66.8 571.9,64.7 572.5,62.8 573.2,61.0 573.8,59.3 574.5,57.8 575.1,56.3 575.8,55.0 576.4,53.7 577.1,52.5 577.7,51.5 578.4,50.5 579.0,49.6 579.7,48.8 580.3,48.0 580.9,47.3 581.6,46.7 582.2,46.2 582.9,45.6 583.5,45.2 584.2,44.7 584.8,44.3 585.5,44.0 586.1,43.7 586.8,43.4 587.4,43.1 588.1,42.9 588.7,42.6 589.3,42.4 590.0,42.3 590.6,42.1 591.3,42.0 591.9,41.8 592.6,41.7 593.2,41.6 593.9,41.5 594.5,41.4 595.2,41.3 595.8,41.3 596.5,41.2 597.1,41.1 597.7,41.1 598.4,41.0 599.0,41.0 599.7,41.0 600.3,40.9 601.0,40.9 601.6,40.9 602.3,40.8 602.9,40.8 603.6,40.8 604.2,40.8 604.8,40.8 605.5,40.7 606.1,40.7 606.8,40.7 607.4,40.7 608.1,40.7 608.7,40.7 609.4,40.7 610.0,40.7 610.7,40.7 611.3,40.7 612.0,40.7" fill="none" stroke="#9a0e0e" stroke-width="1.5" stroke-linejoin="round"/>
<polyline points="489.2,156.5 489.9,156.4 490.5,156.3 491.2,156.2 491.8,156.1 492.4,156.0 493.1,155.9 493.7,155.8 494.4,155.7 495.0,155.6 495.7,155.5 496.3,155.4 497.0,155.3 497.6,155.1 498.3,155.0 498.9,154.9 499.5,154.7 500.2,154.6 500.8,154.4 501.5,154.2 502.1,154.1 502.8,153.9 503.4,153.7 504.1,153.5 504.7,153.3 505.4,153.1 506.0,152.9 506.7,152.6 507.3,152.4 507.9,152.1 508.6,151.9 509.2,151.6 509.9,151.3 510.5,151.0 511.2,150.7 511.8,150.3 512.5,150.0 513.1,149.7 513.8,149.3 514.4,148.9 515.1,148.5 515.7,148.1 516.3,147.7 517.0,147.2 517.6,146.8 518.3,146.3 518.9,145.8 519.6,145.3 520.2,144.7 520.9,144.2 521.5,143.6 522.2,143.0 522.8,142.4 523.5,141.8 524.1,141.1 524.7,140.5 525.4,139.8 526.0,139.0 526.7,138.3 527.3,137.5 528.0,136.7 528.6,135.9 529.3,135.1 529.9,134.2 530.6,133.3 531.2,132.4 531.8,131.5 532.5,130.5 533.1,129.6 533.8,128.6 534.4,127.5 535.1,126.5 535.7,125.4 536.4,124.3 537.0,123.2 537.7,122.1 538.3,120.9 539.0,119.7 539.6,118.5 540.2,117.3 540.9,116.1 541.5,114.9 542.2,113.6 542.8,112.3 543.5,111.0 544.1,109.7 544.8,108.4 545.4,107.1 546.1,105.8 546.7,104.4 547.4,103.1 548.0,101.8 548.6,100.4 549.3,99.1 549.9,97.7 550.6,96.4 551.2,95.0 551.9,93.7 552.5,92.4 553.2,91.0 553.8,89.7 554.5,88.4 555.1,87.1 555.8,85.8 556.4,84.6 557.0,83.3 557.7,82.1 558.3,80.9 559.0,79.7 559.6,78.5 560.3,77.3 560.9,76.2 561.6,75.0 562.2,73.9 562.9,72.8 563.5,71.8 564.2,70.7 564.8,69.7 565.4,68.7 566.1,67.8 566.7,66.8 567.4,65.9 568.0,65.0 568.7,64.1 569.3,63.3 570.0,62.4 570.6,61.6 571.3,60.9 571.9,60.1 572.5,59.4 573.2,58.7 573.8,58.0 574.5,57.3 575.1,56.6 575.8,56.0 576.4,55.4 577.1,54.8 577.7,54.3 578.4,53.7 579.0,53.2 579.7,52.7 580.3,52.2 580.9,51.7 581.6,51.3 582.2,50.8 582.9,50.4 583.5,50.0 584.2,49.6 584.8,49.3 585.5,48.9 586.1,48.5 586.8,48.2 587.4,47.9 588.1,47.6 588.7,47.3 589.3,47.0 590.0,46.7 590.6,46.5 591.3,46.2 591.9,46.0 592.6,45.8 593.2,45.5 593.9,45.3 594.5,45.1 595.2,44.9 595.8,44.7 596.5,44.6 597.1,44.4 597.7,44.2 598.4,44.1 599.0,43.9 599.7,43.8 600.3,43.6 601.0,43.5 601.6,43.4 602.3,43.2 602.9,43.1 603.6,43.0 604.2,42.9 604.8,42.8 605.5,42.7 606.1,42.6 606.8,42.5 607.4,42.4 608.1,42.4 608.7,42.3 609.4,42.2 610.0,42.1 610.7,42.1 611.3,42.0 612.0,41.9" fill="none" stroke="#a800e6" stroke-width="1.5" stroke-linejoin="round"/>
<polyline points="489.2,157.3 489.9,157.2 490.5,157.2 491.2,157.1 491.8,157.1 492.4,157.0 493.1,156.9 493.7,156.9 494.4,156.8 495.0,156.7 495.7,156.6 496.3,156.5 497.0,156.4 497.6,156.3 498.3,156.2 498.9,156.1 499.5,156.0 500.2,155.8 500.8,155.7 501.5,155.6 502.1,155.4 502.8,155.2 503.4,155.1 504.1,154.9 504.7,154.7 505.4,154.5 506.0,154.3 506.7,154.0 507.3,153.8 507.9,153.5 508.6,153.3 509.2,153.0 509.9,152.7 510.5,152.4 511.2,152.0 511.8,151.7 512.5,151.3 513.1,150.9 513.8,150.5 514.4,150.0 515.1,149.6 515.7,149.1 516.3,148.6 517.0,148.0 517.6,147.5 518.3,146.9 518.9,146.2 519.6,145.6 520.2,144.9 520.9,144.2 521.5,143.4 522.2,142.6 522.8,141.8 523.5,140.9 524.1,140.0 524.7,139.1 525.4,138.1 526.0,137.1 526.7,136.1 527.3,135.0 528.0,133.8 528.6,132.6 529.3,131.4 529.9,130.2 530.6,128.8 531.2,127.5 531.8,126.1 532.5,124.7 533.1,123.2 533.8,121.8 534.4,120.2 535.1,118.7 535.7,117.1 536.4,115.5 537.0,113.8 537.7,112.1 538.3,110.4 539.0,108.7 539.6,107.0 540.2,105.2 540.9,103.5 541.5,101.7 542.2,100.0 542.8,98.2 543.5,96.4 544.1,94.7 544.8,92.9 545.4,91.2 546.1,89.5 546.7,87.7 547.4,86.1 548.0,84.4 548.6,82.7 549.3,81.1 549.9,79.6 550.6,78.0 551.2,76.5 551.9,75.0 552.5,73.6 553.2,72.1 553.8,70.8 554.5,69.4 555.1,68.2 555.8,66.9 556.4,65.7 557.0,64.5 557.7,63.4 558.3,62.3 559.0,61.3 559.6,60.3 560.3,59.3 560.9,58.4 561.6,57.5 562.2,56.6 562.9,55.8 563.5,55.0 564.2,54.3 564.8,53.6 565.4,52.9 566.1,52.3 566.7,51.6 567.4,51.1 568.0,50.5 568.7,50.0 569.3,49.5 570.0,49.0 570.6,48.5 571.3,48.1 571.9,47.7 572.5,47.3 573.2,46.9 573.8,46.6 574.5,46.2 575.1,45.9 575.8,45.6 576.4,45.3 577.1,45.1 577.7,44.8 578.4,44.6 579.0,44.4 579.7,44.1 580.3,43.9 580.9,43.8 581.6,43.6 582.2,43.4 582.9,43.2 583.5,43.1 584.2,43.0 584.8,42.8 585.5,42.7 586.1,42.6 586.8,42.5 587.4,42.3 588.1,42.2 588.7,42.2 589.3,42.1 590.0,42.0 590.6,41.9 591.3,41.8 591.9,41.8 592.6,41.7 593.2,41.6 593.9,41.6 594.5,41.5 595.2,41.5 595.8,41.4 596.5,41.4 597.1,41.3 597.7,41.3 598.4,41.2 599.0,41.2 599.7,41.2 600.3,41.1 601.0,41.1 601.6,41.1 602.3,41.0 602.9,41.0 603.6,41.0 604.2,41.0 604.8,40.9 605.5,40.9 606.1,40.9 606.8,40.9 607.4,40.9 608.1,40.9 608.7,40.8 609.4,40.8 610.0,40.8 610.7,40.8 611.3,40.8 612.0,40.8" fill="none" stroke="#5aa5ea" stroke-width="1.5" stroke-dasharray="3.2,2" stroke-linejoin="round"/>
<polyline points="489.2,156.3 489.9,156.2 490.5,156.0 491.2,155.9 491.8,155.7 492.4,155.5 493.1,155.3 493.7,155.1 494.4,154.8 495.0,154.5 495.7,154.3 496.3,154.0 497.0,153.6 497.6,153.3 498.3,152.9 498.9,152.5 499.5,152.0 500.2,151.5 500.8,151.0 501.5,150.5 502.1,149.9 502.8,149.2 503.4,148.6 504.1,147.8 504.7,147.0 505.4,146.2 506.0,145.3 506.7,144.4 507.3,143.4 507.9,142.3 508.6,141.2 509.2,140.0 509.9,138.7 510.5,137.4 511.2,136.0 511.8,134.5 512.5,133.0 513.1,131.3 513.8,129.7 514.4,127.9 515.1,126.1 515.7,124.1 516.3,122.2 517.0,120.1 517.6,118.1 518.3,115.9 518.9,113.7 519.6,111.5 520.2,109.2 520.9,106.9 521.5,104.6 522.2,102.2 522.8,99.9 523.5,97.5 524.1,95.2 524.7,92.8 525.4,90.5 526.0,88.2 526.7,86.0 527.3,83.7 528.0,81.6 528.6,79.5 529.3,77.4 529.9,75.4 530.6,73.5 531.2,71.6 531.8,69.8 532.5,68.1 533.1,66.4 533.8,64.9 534.4,63.3 535.1,61.9 535.7,60.5 536.4,59.3 537.0,58.0 537.7,56.9 538.3,55.8 539.0,54.7 539.6,53.8 540.2,52.9 540.9,52.0 541.5,51.2 542.2,50.5 542.8,49.8 543.5,49.1 544.1,48.5 544.8,47.9 545.4,47.4 546.1,46.9 546.7,46.4 547.4,46.0 548.0,45.6 548.6,45.2 549.3,44.9 549.9,44.6 550.6,44.3 551.2,44.0 551.9,43.7 552.5,43.5 553.2,43.3 553.8,43.1 554.5,42.9 555.1,42.7 555.8,42.6 556.4,42.4 557.0,42.3 557.7,42.1 558.3,42.0 559.0,41.9 559.6,41.8 560.3,41.7 560.9,41.6 561.6,41.6 562.2,41.5 562.9,41.4 563.5,41.4 564.2,41.3 564.8,41.2 565.4,41.2 566.1,41.2 566.7,41.1 567.4,41.1 568.0,41.0 568.7,41.0 569.3,41.0 570.0,40.9 570.6,40.9 571.3,40.9 571.9,40.9 572.5,40.8 573.2,40.8 573.8,40.8 574.5,40.8 575.1,40.8 575.8,40.8 576.4,40.8 577.1,40.7 577.7,40.7 578.4,40.7 579.0,40.7 579.7,40.7 580.3,40.7 580.9,40.7 581.6,40.7 582.2,40.7 582.9,40.7 583.5,40.7 584.2,40.7 584.8,40.7 585.5,40.6 586.1,40.6 586.8,40.6 587.4,40.6 588.1,40.6 588.7,40.6 589.3,40.6 590.0,40.6 590.6,40.6 591.3,40.6 591.9,40.6 592.6,40.6 593.2,40.6 593.9,40.6 594.5,40.6 595.2,40.6 595.8,40.6 596.5,40.6 597.1,40.6 597.7,40.6 598.4,40.6 599.0,40.6 599.7,40.6 600.3,40.6 601.0,40.6 601.6,40.6 602.3,40.6 602.9,40.6 603.6,40.6 604.2,40.6 604.8,40.6 605.5,40.6 606.1,40.6 606.8,40.6 607.4,40.6 608.1,40.6 608.7,40.6 609.4,40.6 610.0,40.6 610.7,40.6 611.3,40.6 612.0,40.6" fill="none" stroke="#1414f0" stroke-width="1.5" stroke-dasharray="3.2,2" stroke-linejoin="round"/>
<polyline points="489.2,155.9 489.9,155.7 490.5,155.5 491.2,155.3 491.8,155.1 492.4,154.9 493.1,154.6 493.7,154.3 494.4,154.0 495.0,153.7 495.7,153.3 496.3,152.9 497.0,152.5 497.6,152.1 498.3,151.6 498.9,151.1 499.5,150.6 500.2,150.0 500.8,149.4 501.5,148.7 502.1,148.0 502.8,147.2 503.4,146.4 504.1,145.5 504.7,144.6 505.4,143.6 506.0,142.5 506.7,141.4 507.3,140.2 507.9,139.0 508.6,137.7 509.2,136.3 509.9,134.8 510.5,133.3 511.2,131.7 511.8,130.0 512.5,128.2 513.1,126.4 513.8,124.5 514.4,122.6 515.1,120.5 515.7,118.5 516.3,116.3 517.0,114.1 517.6,111.9 518.3,109.6 518.9,107.3 519.6,105.0 520.2,102.7 520.9,100.3 521.5,98.0 522.2,95.6 522.8,93.3 523.5,90.9 524.1,88.6 524.7,86.4 525.4,84.2 526.0,82.0 526.7,79.9 527.3,77.8 528.0,75.8 528.6,73.8 529.3,72.0 529.9,70.1 530.6,68.4 531.2,66.7 531.8,65.1 532.5,63.6 533.1,62.2 533.8,60.8 534.4,59.5 535.1,58.3 535.7,57.1 536.4,56.0 537.0,54.9 537.7,54.0 538.3,53.0 539.0,52.2 539.6,51.4 540.2,50.6 540.9,49.9 541.5,49.2 542.2,48.6 542.8,48.0 543.5,47.5 544.1,47.0 544.8,46.5 545.4,46.1 546.1,45.7 546.7,45.3 547.4,45.0 548.0,44.6 548.6,44.3 549.3,44.0 549.9,43.8 550.6,43.6 551.2,43.3 551.9,43.1 552.5,42.9 553.2,42.8 553.8,42.6 554.5,42.4 555.1,42.3 555.8,42.2 556.4,42.1 557.0,41.9 557.7,41.8 558.3,41.7 559.0,41.7 559.6,41.6 560.3,41.5 560.9,41.4 561.6,41.4 562.2,41.3 562.9,41.3 563.5,41.2 564.2,41.2 564.8,41.1 565.4,41.1 566.1,41.0 566.7,41.0 567.4,41.0 568.0,40.9 568.7,40.9 569.3,40.9 570.0,40.9 570.6,40.9 571.3,40.8 571.9,40.8 572.5,40.8 573.2,40.8 573.8,40.8 574.5,40.8 575.1,40.7 575.8,40.7 576.4,40.7 577.1,40.7 577.7,40.7 578.4,40.7 579.0,40.7 579.7,40.7 580.3,40.7 580.9,40.7 581.6,40.7 582.2,40.7 582.9,40.7 583.5,40.7 584.2,40.6 584.8,40.6 585.5,40.6 586.1,40.6 586.8,40.6 587.4,40.6 588.1,40.6 588.7,40.6 589.3,40.6 590.0,40.6 590.6,40.6 591.3,40.6 591.9,40.6 592.6,40.6 593.2,40.6 593.9,40.6 594.5,40.6 595.2,40.6 595.8,40.6 596.5,40.6 597.1,40.6 597.7,40.6 598.4,40.6 599.0,40.6 599.7,40.6 600.3,40.6 601.0,40.6 601.6,40.6 602.3,40.6 602.9,40.6 603.6,40.6 604.2,40.6 604.8,40.6 605.5,40.6 606.1,40.6 606.8,40.6 607.4,40.6 608.1,40.6 608.7,40.6 609.4,40.6 610.0,40.6 610.7,40.6 611.3,40.6 612.0,40.6" fill="none" stroke="#0b0b7a" stroke-width="1.5" stroke-linejoin="round"/>
<path d="M499.49,161.75V169.48M497.59,161.75h3.80M497.59,169.48h3.80" stroke="#f5a050" stroke-width="1.1" fill="none"/>
<path d="M512.14,151.23V157.68M510.24,151.23h3.80M510.24,157.68h3.80" stroke="#f5a050" stroke-width="1.1" fill="none"/>
<path d="M524.53,141.81V148.26M522.63,141.81h3.80M522.63,148.26h3.80" stroke="#f5a050" stroke-width="1.1" fill="none"/>
<path d="M536.93,152.42V161.45M535.03,152.42h3.80M535.03,161.45h3.80" stroke="#f5a050" stroke-width="1.1" fill="none"/>
<path d="M560.98,149.99V156.44M559.08,149.99h3.80M559.08,156.44h3.80" stroke="#f5a050" stroke-width="1.1" fill="none"/>
<path d="M585.78,144.39V152.13M583.88,144.39h3.80M583.88,152.13h3.80" stroke="#f5a050" stroke-width="1.1" fill="none"/>
<path d="M598.18,118.16V136.21M596.28,118.16h3.80M596.28,136.21h3.80" stroke="#f5a050" stroke-width="1.1" fill="none"/>
<path d="M609.83,80.44V115.90M607.93,80.44h3.80M607.93,115.90h3.80" stroke="#f5a050" stroke-width="1.1" fill="none"/>
<circle cx="499.49" cy="165.61" r="2.15" fill="#f5a050"/>
<circle cx="512.14" cy="154.46" r="2.15" fill="#f5a050"/>
<circle cx="524.53" cy="145.03" r="2.15" fill="#f5a050"/>
<circle cx="536.93" cy="156.94" r="2.15" fill="#f5a050"/>
<circle cx="548.59" cy="155.70" r="2.15" fill="#f5a050"/>
<circle cx="560.98" cy="153.22" r="2.15" fill="#f5a050"/>
<circle cx="573.38" cy="144.54" r="2.15" fill="#f5a050"/>
<circle cx="585.78" cy="148.26" r="2.15" fill="#f5a050"/>
<circle cx="598.18" cy="127.18" r="2.15" fill="#f5a050"/>
<circle cx="609.83" cy="98.17" r="2.15" fill="#f5a050"/>
<path d="M491.56,156.19V162.64M489.66,156.19h3.80M489.66,162.64h3.80" stroke="#ee1d1d" stroke-width="1.1" fill="none"/>
<path d="M565.94,143.15V150.89M564.04,143.15h3.80M564.04,150.89h3.80" stroke="#ee1d1d" stroke-width="1.1" fill="none"/>
<path d="M578.34,117.76V124.21M576.44,117.76h3.80M576.44,124.21h3.80" stroke="#ee1d1d" stroke-width="1.1" fill="none"/>
<path d="M590.74,70.65V77.09M588.84,70.65h3.80M588.84,77.09h3.80" stroke="#ee1d1d" stroke-width="1.1" fill="none"/>
<path d="M603.14,48.93V56.66M601.24,48.93h3.80M601.24,56.66h3.80" stroke="#ee1d1d" stroke-width="1.1" fill="none"/>
<rect x="489.56" y="157.42" width="4.00" height="4.00" fill="#ee1d1d"/>
<rect x="501.95" y="154.94" width="4.00" height="4.00" fill="#ee1d1d"/>
<rect x="514.35" y="151.22" width="4.00" height="4.00" fill="#ee1d1d"/>
<rect x="526.75" y="149.98" width="4.00" height="4.00" fill="#ee1d1d"/>
<rect x="539.15" y="149.98" width="4.00" height="4.00" fill="#ee1d1d"/>
<rect x="551.54" y="148.74" width="4.00" height="4.00" fill="#ee1d1d"/>
<rect x="563.94" y="145.02" width="4.00" height="4.00" fill="#ee1d1d"/>
<rect x="576.34" y="118.98" width="4.00" height="4.00" fill="#ee1d1d"/>
<rect x="588.74" y="71.87" width="4.00" height="4.00" fill="#ee1d1d"/>
<rect x="601.14" y="50.80" width="4.00" height="4.00" fill="#ee1d1d"/>
<path d="M503.95,153.71V160.16M502.05,153.71h3.80M502.05,160.16h3.80" stroke="#f08a8a" stroke-width="1.1" fill="none"/>
<path d="M516.35,148.75V155.20M514.45,148.75h3.80M514.45,155.20h3.80" stroke="#f08a8a" stroke-width="1.1" fill="none"/>
<path d="M528.75,145.03V151.48M526.85,145.03h3.80M526.85,151.48h3.80" stroke="#f08a8a" stroke-width="1.1" fill="none"/>
<path d="M541.15,143.15V150.89M539.25,143.15h3.80M539.25,150.89h3.80" stroke="#f08a8a" stroke-width="1.1" fill="none"/>
<path d="M553.54,146.27V152.72M551.64,146.27h3.80M551.64,152.72h3.80" stroke="#f08a8a" stroke-width="1.1" fill="none"/>
<path d="M565.94,100.53V110.20M564.04,100.53h3.80M564.04,110.20h3.80" stroke="#f08a8a" stroke-width="1.1" fill="none"/>
<path d="M578.34,76.60V95.94M576.44,76.60h3.80M576.44,95.94h3.80" stroke="#f08a8a" stroke-width="1.1" fill="none"/>
<path d="M590.74,43.97V51.70M588.84,43.97h3.80M588.84,51.70h3.80" stroke="#f08a8a" stroke-width="1.1" fill="none"/>
<path d="M603.14,38.41V44.86M601.24,38.41h3.80M601.24,44.86h3.80" stroke="#f08a8a" stroke-width="1.1" fill="none"/>
<rect x="489.56" y="159.90" width="4.00" height="4.00" fill="#f08a8a"/>
<rect x="501.95" y="154.94" width="4.00" height="4.00" fill="#f08a8a"/>
<rect x="514.35" y="149.98" width="4.00" height="4.00" fill="#f08a8a"/>
<rect x="526.75" y="146.26" width="4.00" height="4.00" fill="#f08a8a"/>
<rect x="539.15" y="145.02" width="4.00" height="4.00" fill="#f08a8a"/>
<rect x="551.54" y="147.50" width="4.00" height="4.00" fill="#f08a8a"/>
<rect x="563.94" y="103.36" width="4.00" height="4.00" fill="#f08a8a"/>
<rect x="576.34" y="84.27" width="4.00" height="4.00" fill="#f08a8a"/>
<rect x="588.74" y="45.84" width="4.00" height="4.00" fill="#f08a8a"/>
<rect x="601.14" y="39.64" width="4.00" height="4.00" fill="#f08a8a"/>
<path d="M491.56,154.95V161.40M489.66,154.95h3.80M489.66,161.40h3.80" stroke="#1f8a22" stroke-width="1.1" fill="none"/>
<path d="M503.95,152.92V161.94M502.05,152.92h3.80M502.05,161.94h3.80" stroke="#1f8a22" stroke-width="1.1" fill="none"/>
<path d="M516.35,141.32V147.76M514.45,141.32h3.80M514.45,147.76h3.80" stroke="#1f8a22" stroke-width="1.1" fill="none"/>
<path d="M528.75,134.47V142.21M526.85,134.47h3.80M526.85,142.21h3.80" stroke="#1f8a22" stroke-width="1.1" fill="none"/>
<path d="M541.15,140.03V149.05M539.25,140.03h3.80M539.25,149.05h3.80" stroke="#1f8a22" stroke-width="1.1" fill="none"/>
<path d="M553.54,118.85V126.59M551.64,118.85h3.80M551.64,126.59h3.80" stroke="#1f8a22" stroke-width="1.1" fill="none"/>
<path d="M565.94,116.89V126.56M564.04,116.89h3.80M564.04,126.56h3.80" stroke="#1f8a22" stroke-width="1.1" fill="none"/>
<path d="M578.34,76.48V86.15M576.44,76.48h3.80M576.44,86.15h3.80" stroke="#1f8a22" stroke-width="1.1" fill="none"/>
<path d="M590.74,45.85V52.30M588.84,45.85h3.80M588.84,52.30h3.80" stroke="#1f8a22" stroke-width="1.1" fill="none"/>
<path d="M491.56,155.53L494.21,158.18L491.56,160.83L488.91,158.18Z" fill="#1f8a22"/>
<path d="M503.95,154.78L506.60,157.43L503.95,160.08L501.30,157.43Z" fill="#1f8a22"/>
<path d="M516.35,141.89L519.00,144.54L516.35,147.19L513.70,144.54Z" fill="#1f8a22"/>
<path d="M528.75,135.69L531.40,138.34L528.75,140.99L526.10,138.34Z" fill="#1f8a22"/>
<path d="M541.15,141.89L543.80,144.54L541.15,147.19L538.50,144.54Z" fill="#1f8a22"/>
<path d="M553.54,120.07L556.19,122.72L553.54,125.37L550.89,122.72Z" fill="#1f8a22"/>
<path d="M565.94,119.08L568.59,121.73L565.94,124.38L563.29,121.73Z" fill="#1f8a22"/>
<path d="M578.34,78.66L580.99,81.31L578.34,83.96L575.69,81.31Z" fill="#1f8a22"/>
<path d="M590.74,46.43L593.39,49.08L590.74,51.73L588.09,49.08Z" fill="#1f8a22"/>
<path d="M603.14,41.47L605.79,44.12L603.14,46.77L600.49,44.12Z" fill="#1f8a22"/>
<path d="M512.14,152.47V158.92M510.24,152.47h3.80M510.24,158.92h3.80" stroke="#9a0e0e" stroke-width="1.1" fill="none"/>
<path d="M536.19,141.27V150.29M534.29,141.27h3.80M534.29,150.29h3.80" stroke="#9a0e0e" stroke-width="1.1" fill="none"/>
<path d="M548.59,140.67V148.41M546.69,140.67h3.80M546.69,148.41h3.80" stroke="#9a0e0e" stroke-width="1.1" fill="none"/>
<path d="M560.98,107.79V116.82M559.08,107.79h3.80M559.08,116.82h3.80" stroke="#9a0e0e" stroke-width="1.1" fill="none"/>
<path d="M573.38,58.85V66.58M571.48,58.85h3.80M571.48,66.58h3.80" stroke="#9a0e0e" stroke-width="1.1" fill="none"/>
<path d="M585.78,43.37V49.82M583.88,43.37h3.80M583.88,49.82h3.80" stroke="#9a0e0e" stroke-width="1.1" fill="none"/>
<path d="M598.18,39.65V46.10M596.28,39.65h3.80M596.28,46.10h3.80" stroke="#9a0e0e" stroke-width="1.1" fill="none"/>
<path d="M609.83,35.19V41.64M607.93,35.19h3.80M607.93,41.64h3.80" stroke="#9a0e0e" stroke-width="1.1" fill="none"/>
<rect x="497.49" y="157.42" width="4.00" height="4.00" fill="#9a0e0e"/>
<rect x="510.14" y="153.70" width="4.00" height="4.00" fill="#9a0e0e"/>
<rect x="522.53" y="148.74" width="4.00" height="4.00" fill="#9a0e0e"/>
<rect x="534.19" y="143.78" width="4.00" height="4.00" fill="#9a0e0e"/>
<rect x="546.59" y="142.54" width="4.00" height="4.00" fill="#9a0e0e"/>
<rect x="558.98" y="110.30" width="4.00" height="4.00" fill="#9a0e0e"/>
<rect x="571.38" y="60.71" width="4.00" height="4.00" fill="#9a0e0e"/>
<rect x="583.78" y="44.60" width="4.00" height="4.00" fill="#9a0e0e"/>
<rect x="596.18" y="40.88" width="4.00" height="4.00" fill="#9a0e0e"/>
<rect x="607.83" y="36.41" width="4.00" height="4.00" fill="#9a0e0e"/>
<path d="M491.56,156.19V162.64M489.66,156.19h3.80M489.66,162.64h3.80" stroke="#a800e6" stroke-width="1.1" fill="none"/>
<path d="M503.95,147.51V153.96M502.05,147.51h3.80M502.05,153.96h3.80" stroke="#a800e6" stroke-width="1.1" fill="none"/>
<path d="M516.35,130.75V138.49M514.45,130.75h3.80M514.45,138.49h3.80" stroke="#a800e6" stroke-width="1.1" fill="none"/>
<path d="M528.75,132.26V141.94M526.85,132.26h3.80M526.85,141.94h3.80" stroke="#a800e6" stroke-width="1.1" fill="none"/>
<path d="M541.15,121.38V132.98M539.25,121.38h3.80M539.25,132.98h3.80" stroke="#a800e6" stroke-width="1.1" fill="none"/>
<path d="M553.54,88.13V97.80M551.64,88.13h3.80M551.64,97.80h3.80" stroke="#a800e6" stroke-width="1.1" fill="none"/>
<path d="M565.20,66.83V78.43M563.30,66.83h3.80M563.30,78.43h3.80" stroke="#a800e6" stroke-width="1.1" fill="none"/>
<path d="M577.10,46.45V54.18M575.20,46.45h3.80M575.20,54.18h3.80" stroke="#a800e6" stroke-width="1.1" fill="none"/>
<path d="M589.50,39.65V46.10M587.60,39.65h3.80M587.60,46.10h3.80" stroke="#a800e6" stroke-width="1.1" fill="none"/>
<path d="M491.56,156.87L494.11,161.46L489.01,161.46Z" fill="#a800e6"/>
<path d="M503.95,148.19L506.50,152.78L501.40,152.78Z" fill="#a800e6"/>
<path d="M516.35,132.07L518.90,136.66L513.80,136.66Z" fill="#a800e6"/>
<path d="M528.75,134.55L531.30,139.14L526.20,139.14Z" fill="#a800e6"/>
<path d="M541.15,124.63L543.70,129.22L538.60,129.22Z" fill="#a800e6"/>
<path d="M553.54,90.41L556.09,95.00L550.99,95.00Z" fill="#a800e6"/>
<path d="M565.20,70.08L567.75,74.67L562.65,74.67Z" fill="#a800e6"/>
<path d="M577.10,47.77L579.65,52.36L574.55,52.36Z" fill="#a800e6"/>
<path d="M589.50,40.33L592.05,44.92L586.95,44.92Z" fill="#a800e6"/>
<path d="M603.14,37.35L605.69,41.94L600.59,41.94Z" fill="#a800e6"/>
<path d="M491.56,153.71V160.16M489.66,153.71h3.80M489.66,160.16h3.80" stroke="#5aa5ea" stroke-width="1.1" fill="none"/>
<path d="M503.95,146.27V152.72M502.05,146.27h3.80M502.05,152.72h3.80" stroke="#5aa5ea" stroke-width="1.1" fill="none"/>
<path d="M516.35,145.03V151.48M514.45,145.03h3.80M514.45,151.48h3.80" stroke="#5aa5ea" stroke-width="1.1" fill="none"/>
<path d="M528.75,127.03V134.77M526.85,127.03h3.80M526.85,134.77h3.80" stroke="#5aa5ea" stroke-width="1.1" fill="none"/>
<path d="M541.15,95.94V108.83M539.25,95.94h3.80M539.25,108.83h3.80" stroke="#5aa5ea" stroke-width="1.1" fill="none"/>
<path d="M553.54,66.28V74.02M551.64,66.28h3.80M551.64,74.02h3.80" stroke="#5aa5ea" stroke-width="1.1" fill="none"/>
<path d="M565.94,45.85V52.30M564.04,45.85h3.80M564.04,52.30h3.80" stroke="#5aa5ea" stroke-width="1.1" fill="none"/>
<path d="M578.34,48.93V56.66M576.44,48.93h3.80M576.44,56.66h3.80" stroke="#5aa5ea" stroke-width="1.1" fill="none"/>
<path d="M590.74,39.01V46.75M588.84,39.01h3.80M588.84,46.75h3.80" stroke="#5aa5ea" stroke-width="1.1" fill="none"/>
<path d="M603.14,35.93V42.38M601.24,35.93h3.80M601.24,42.38h3.80" stroke="#5aa5ea" stroke-width="1.1" fill="none"/>
<circle cx="491.56" cy="156.94" r="2.15" fill="#5aa5ea"/>
<circle cx="503.95" cy="149.50" r="2.15" fill="#5aa5ea"/>
<circle cx="516.35" cy="148.26" r="2.15" fill="#5aa5ea"/>
<circle cx="528.75" cy="130.90" r="2.15" fill="#5aa5ea"/>
<circle cx="541.15" cy="102.39" r="2.15" fill="#5aa5ea"/>
<circle cx="553.54" cy="70.15" r="2.15" fill="#5aa5ea"/>
<circle cx="565.94" cy="49.08" r="2.15" fill="#5aa5ea"/>
<circle cx="578.34" cy="52.80" r="2.15" fill="#5aa5ea"/>
<circle cx="590.74" cy="42.88" r="2.15" fill="#5aa5ea"/>
<circle cx="603.14" cy="39.16" r="2.15" fill="#5aa5ea"/>
<path d="M503.95,135.71V143.45M502.05,135.71h3.80M502.05,143.45h3.80" stroke="#1414f0" stroke-width="1.1" fill="none"/>
<path d="M516.35,119.59V127.33M514.45,119.59h3.80M514.45,127.33h3.80" stroke="#1414f0" stroke-width="1.1" fill="none"/>
<path d="M528.75,72.58V81.61M526.85,72.58h3.80M526.85,81.61h3.80" stroke="#1414f0" stroke-width="1.1" fill="none"/>
<path d="M541.15,52.05V58.50M539.25,52.05h3.80M539.25,58.50h3.80" stroke="#1414f0" stroke-width="1.1" fill="none"/>
<path d="M578.34,41.64V48.08M576.44,41.64h3.80M576.44,48.08h3.80" stroke="#1414f0" stroke-width="1.1" fill="none"/>
<path d="M590.74,37.17V43.62M588.84,37.17h3.80M588.84,43.62h3.80" stroke="#1414f0" stroke-width="1.1" fill="none"/>
<path d="M603.14,35.93V42.38M601.24,35.93h3.80M601.24,42.38h3.80" stroke="#1414f0" stroke-width="1.1" fill="none"/>
<circle cx="491.56" cy="158.18" r="2.15" fill="#1414f0"/>
<circle cx="503.95" cy="139.58" r="2.15" fill="#1414f0"/>
<circle cx="516.35" cy="123.46" r="2.15" fill="#1414f0"/>
<circle cx="528.75" cy="77.09" r="2.15" fill="#1414f0"/>
<circle cx="541.15" cy="55.27" r="2.15" fill="#1414f0"/>
<circle cx="553.54" cy="42.88" r="2.15" fill="#1414f0"/>
<circle cx="565.94" cy="41.64" r="2.15" fill="#1414f0"/>
<circle cx="578.34" cy="44.86" r="2.15" fill="#1414f0"/>
<circle cx="590.74" cy="40.40" r="2.15" fill="#1414f0"/>
<circle cx="603.14" cy="39.16" r="2.15" fill="#1414f0"/>
<path d="M499.49,147.02V153.46M497.59,147.02h3.80M497.59,153.46h3.80" stroke="#0b0b7a" stroke-width="1.1" fill="none"/>
<path d="M512.14,118.63V128.30M510.24,118.63h3.80M510.24,128.30h3.80" stroke="#0b0b7a" stroke-width="1.1" fill="none"/>
<path d="M524.53,84.88V92.62M522.63,84.88h3.80M522.63,92.62h3.80" stroke="#0b0b7a" stroke-width="1.1" fill="none"/>
<path d="M536.19,52.55V58.99M534.29,52.55h3.80M534.29,58.99h3.80" stroke="#0b0b7a" stroke-width="1.1" fill="none"/>
<path d="M560.98,43.37V49.82M559.08,43.37h3.80M559.08,49.82h3.80" stroke="#0b0b7a" stroke-width="1.1" fill="none"/>
<path d="M585.78,44.61V51.06M583.88,44.61h3.80M583.88,51.06h3.80" stroke="#0b0b7a" stroke-width="1.1" fill="none"/>
<path d="M598.18,40.15V46.60M596.28,40.15h3.80M596.28,46.60h3.80" stroke="#0b0b7a" stroke-width="1.1" fill="none"/>
<path d="M609.83,43.37V49.82M607.93,43.37h3.80M607.93,49.82h3.80" stroke="#0b0b7a" stroke-width="1.1" fill="none"/>
<circle cx="499.49" cy="150.24" r="2.15" fill="#0b0b7a"/>
<circle cx="512.14" cy="123.46" r="2.15" fill="#0b0b7a"/>
<circle cx="524.53" cy="88.75" r="2.15" fill="#0b0b7a"/>
<circle cx="536.19" cy="55.77" r="2.15" fill="#0b0b7a"/>
<circle cx="548.59" cy="39.90" r="2.15" fill="#0b0b7a"/>
<circle cx="560.98" cy="46.60" r="2.15" fill="#0b0b7a"/>
<circle cx="573.38" cy="45.36" r="2.15" fill="#0b0b7a"/>
<circle cx="585.78" cy="47.84" r="2.15" fill="#0b0b7a"/>
<circle cx="598.18" cy="43.37" r="2.15" fill="#0b0b7a"/>
<circle cx="609.83" cy="46.60" r="2.15" fill="#0b0b7a"/>
<line x1="616.60" y1="35.30" x2="624.60" y2="35.30" stroke="#1414f0" stroke-width="1.3"/>
<circle cx="620.60" cy="35.30" r="1.90" fill="#1414f0"/>
<text x="629.30" y="38.40" font-size="8.7" text-anchor="start" font-weight="normal" fill="#111" stroke="#111" stroke-width="0.18">P2G3</text>
<line x1="616.60" y1="47.30" x2="624.60" y2="47.30" stroke="#5aa5ea" stroke-width="1.3"/>
<circle cx="620.60" cy="47.30" r="1.90" fill="#5aa5ea"/>
<text x="629.30" y="50.40" font-size="8.7" text-anchor="start" font-weight="normal" fill="#111" stroke="#111" stroke-width="0.18">P5C3</text>
<line x1="616.60" y1="59.90" x2="624.60" y2="59.90" stroke="#0b0b7a" stroke-width="1.3"/>
<circle cx="620.60" cy="59.90" r="1.90" fill="#0b0b7a"/>
<text x="629.30" y="63.00" font-size="8.7" text-anchor="start" font-weight="normal" fill="#111" stroke="#111" stroke-width="0.18">P5C3 + P2G3</text>
<line x1="616.60" y1="72.70" x2="624.60" y2="72.70" stroke="#ee1d1d" stroke-width="1.3"/>
<rect x="618.70" y="70.80" width="3.80" height="3.80" fill="#ee1d1d"/>
<text x="629.30" y="75.80" font-size="8.7" text-anchor="start" font-weight="normal" fill="#111" stroke="#111" stroke-width="0.18">AZD1061</text>
<line x1="616.60" y1="85.60" x2="624.60" y2="85.60" stroke="#f08a8a" stroke-width="1.3"/>
<rect x="618.70" y="83.70" width="3.80" height="3.80" fill="#f08a8a"/>
<text x="629.30" y="88.70" font-size="8.7" text-anchor="start" font-weight="normal" fill="#111" stroke="#111" stroke-width="0.18">AZD8895</text>
<line x1="616.60" y1="98.50" x2="624.60" y2="98.50" stroke="#9a0e0e" stroke-width="1.3"/>
<rect x="618.70" y="96.60" width="3.80" height="3.80" fill="#9a0e0e"/>
<text x="629.30" y="101.60" font-size="8.7" text-anchor="start" font-weight="normal" fill="#111" stroke="#111" stroke-width="0.18">AZD mix</text>
<line x1="616.60" y1="111.80" x2="624.60" y2="111.80" stroke="#f5a050" stroke-width="1.3"/>
<circle cx="620.60" cy="111.80" r="1.90" fill="#f5a050"/>
<text x="629.30" y="114.90" font-size="8.7" text-anchor="start" font-weight="normal" fill="#111" stroke="#111" stroke-width="0.18">REGN mix</text>
<line x1="616.60" y1="125.10" x2="624.60" y2="125.10" stroke="#1f8a22" stroke-width="1.3"/>
<path d="M620.60,122.70L623.00,125.10L620.60,127.50L618.20,125.10Z" fill="#1f8a22"/>
<text x="629.30" y="128.20" font-size="8.7" text-anchor="start" font-weight="normal" fill="#111" stroke="#111" stroke-width="0.18">ADG-2</text>
<line x1="616.60" y1="138.10" x2="624.60" y2="138.10" stroke="#a800e6" stroke-width="1.3"/>
<path d="M620.60,135.80L622.90,139.94L618.30,139.94Z" fill="#a800e6"/>
<text x="629.30" y="141.20" font-size="8.7" text-anchor="start" font-weight="normal" fill="#111" stroke="#111" stroke-width="0.18">Sotrovimab</text>
<line x1="617.9" y1="158.60" x2="634.9" y2="158.60" stroke="#000" stroke-width="1.4" stroke-dasharray="4.1,2.4"/>
<line x1="617.9" y1="171.20" x2="634.9" y2="171.20" stroke="#000" stroke-width="1.4"/>
<text x="638.60" y="161.70" font-size="8.7" text-anchor="start" font-weight="normal" fill="#111" stroke="#111" stroke-width="0.18">Single mAb</text>
<text x="638.60" y="174.30" font-size="8.7" text-anchor="start" font-weight="normal" fill="#111" stroke="#111" stroke-width="0.18">mAb mix</text>
<text x="-1.00" y="222.00" font-size="10.2" text-anchor="start" font-weight="bold" fill="#000">c</text>
<text x="122.30" y="230.30" font-size="8.7" text-anchor="middle" font-weight="normal" fill="#111" stroke="#111" stroke-width="0.18">Live virus CPE assay</text>
<text x="122.30" y="240.40" font-size="8.7" text-anchor="middle" font-weight="normal" fill="#111" stroke="#111" stroke-width="0.18">with Delta variant</text>
<text x="7.20" y="316.80" font-size="8.6" text-anchor="middle" font-weight="normal" fill="#111" transform="rotate(-90 7.20 316.80)" stroke="#111" stroke-width="0.18">% inhibition in live virus</text>
<text x="17.60" y="316.80" font-size="8.6" text-anchor="middle" font-weight="normal" fill="#111" transform="rotate(-90 17.60 316.80)" stroke="#111" stroke-width="0.18">SARS-CoV-2 CPE assay</text>
<line x1="47.5" y1="242.6" x2="47.5" y2="392.0" stroke="#8a8a8a" stroke-width="1"/>
<line x1="47.5" y1="391.5" x2="197" y2="391.5" stroke="#8a8a8a" stroke-width="1"/>
<line x1="44.0" y1="379.10" x2="47.5" y2="379.10" stroke="#8a8a8a" stroke-width="1"/>
<text x="40.20" y="382.00" font-size="8.6" text-anchor="end" font-weight="normal" fill="#111" stroke="#111" stroke-width="0.18">0</text>
<line x1="44.0" y1="354.36" x2="47.5" y2="354.36" stroke="#8a8a8a" stroke-width="1"/>
<text x="40.20" y="357.26" font-size="8.6" text-anchor="end" font-weight="normal" fill="#111" stroke="#111" stroke-width="0.18">20</text>
<line x1="44.0" y1="329.62" x2="47.5" y2="329.62" stroke="#8a8a8a" stroke-width="1"/>
<text x="40.20" y="332.52" font-size="8.6" text-anchor="end" font-weight="normal" fill="#111" stroke="#111" stroke-width="0.18">40</text>
<line x1="44.0" y1="304.88" x2="47.5" y2="304.88" stroke="#8a8a8a" stroke-width="1"/>
<text x="40.20" y="307.78" font-size="8.6" text-anchor="end" font-weight="normal" fill="#111" stroke="#111" stroke-width="0.18">60</text>
<line x1="44.0" y1="280.14" x2="47.5" y2="280.14" stroke="#8a8a8a" stroke-width="1"/>
<text x="40.20" y="283.04" font-size="8.6" text-anchor="end" font-weight="normal" fill="#111" stroke="#111" stroke-width="0.18">80</text>
<line x1="44.0" y1="255.40" x2="47.5" y2="255.40" stroke="#8a8a8a" stroke-width="1"/>
<text x="40.20" y="258.30" font-size="8.6" text-anchor="end" font-weight="normal" fill="#111" stroke="#111" stroke-width="0.18">100</text>
<line x1="62.40" y1="391.5" x2="62.40" y2="394.5" stroke="#8a8a8a" stroke-width="1"/>
<text x="62.80" y="407.00" font-size="8.6" text-anchor="middle" font-weight="normal" fill="#111" stroke="#111" stroke-width="0.18">10<tspan dy="-4.4" font-size="5.9">−9</tspan></text>
<line x1="92.47" y1="391.5" x2="92.47" y2="394.5" stroke="#8a8a8a" stroke-width="1"/>
<text x="92.87" y="407.00" font-size="8.6" text-anchor="middle" font-weight="normal" fill="#111" stroke="#111" stroke-width="0.18">10<tspan dy="-4.4" font-size="5.9">−8</tspan></text>
<line x1="122.54" y1="391.5" x2="122.54" y2="394.5" stroke="#8a8a8a" stroke-width="1"/>
<text x="122.94" y="407.00" font-size="8.6" text-anchor="middle" font-weight="normal" fill="#111" stroke="#111" stroke-width="0.18">10<tspan dy="-4.4" font-size="5.9">−7</tspan></text>
<line x1="152.61" y1="391.5" x2="152.61" y2="394.5" stroke="#8a8a8a" stroke-width="1"/>
<text x="153.01" y="407.00" font-size="8.6" text-anchor="middle" font-weight="normal" fill="#111" stroke="#111" stroke-width="0.18">10<tspan dy="-4.4" font-size="5.9">−6</tspan></text>
<line x1="182.68" y1="391.5" x2="182.68" y2="394.5" stroke="#8a8a8a" stroke-width="1"/>
<text x="183.08" y="407.00" font-size="8.6" text-anchor="middle" font-weight="normal" fill="#111" stroke="#111" stroke-width="0.18">10<tspan dy="-4.4" font-size="5.9">−5</tspan></text>
<text x="116.00" y="423.00" font-size="8.7" text-anchor="middle" font-weight="normal" fill="#111" stroke="#111" stroke-width="0.18">mAb concentration (g ml<tspan dy="-3.4" font-size="5.6">−1</tspan><tspan dy="3.4">)</tspan></text>
<polyline points="48.9,379.1 49.6,379.1 50.4,379.1 51.1,379.1 51.9,379.1 52.6,379.1 53.4,379.1 54.1,379.1 54.9,379.1 55.6,379.1 56.4,379.1 57.1,379.1 57.9,379.1 58.6,379.1 59.4,379.1 60.1,379.1 60.9,379.1 61.6,379.1 62.4,379.1 63.2,379.1 63.9,379.1 64.7,379.1 65.4,379.1 66.2,379.1 66.9,379.1 67.7,379.1 68.4,379.1 69.2,379.1 69.9,379.1 70.7,379.1 71.4,379.1 72.2,379.1 72.9,379.1 73.7,379.1 74.4,379.1 75.2,379.1 75.9,379.1 76.7,379.1 77.4,379.1 78.2,379.1 78.9,379.1 79.7,379.1 80.4,379.1 81.2,379.1 81.9,379.1 82.7,379.1 83.4,379.1 84.2,379.1 85.0,379.1 85.7,379.1 86.5,379.1 87.2,379.1 88.0,379.0 88.7,379.0 89.5,379.0 90.2,379.0 91.0,379.0 91.7,379.0 92.5,379.0 93.2,378.9 94.0,378.9 94.7,378.9 95.5,378.9 96.2,378.8 97.0,378.8 97.7,378.7 98.5,378.7 99.2,378.6 100.0,378.6 100.7,378.5 101.5,378.4 102.2,378.3 103.0,378.2 103.7,378.0 104.5,377.9 105.2,377.7 106.0,377.5 106.8,377.2 107.5,376.9 108.3,376.6 109.0,376.2 109.8,375.8 110.5,375.3 111.3,374.8 112.0,374.2 112.8,373.4 113.5,372.6 114.3,371.7 115.0,370.7 115.8,369.5 116.5,368.2 117.3,366.7 118.0,365.0 118.8,363.2 119.5,361.1 120.3,358.9 121.0,356.4 121.8,353.7 122.5,350.7 123.3,347.5 124.0,344.1 124.8,340.5 125.5,336.7 126.3,332.7 127.1,328.6 127.8,324.5 128.6,320.2 129.3,315.9 130.1,311.7 130.8,307.5 131.6,303.4 132.3,299.5 133.1,295.7 133.8,292.2 134.6,288.8 135.3,285.7 136.1,282.8 136.8,280.1 137.6,277.6 138.3,275.4 139.1,273.4 139.8,271.6 140.6,270.0 141.3,268.5 142.1,267.2 142.8,266.1 143.6,265.1 144.3,264.2 145.1,263.4 145.8,262.7 146.6,262.1 147.3,261.5 148.1,261.1 148.9,260.7 149.6,260.3 150.4,260.0 151.1,259.7 151.9,259.5 152.6,259.3 153.4,259.1 154.1,258.9 154.9,258.8 155.6,258.7 156.4,258.6 157.1,258.5 157.9,258.4 158.6,258.3 159.4,258.3 160.1,258.2 160.9,258.2 161.6,258.1 162.4,258.1 163.1,258.1 163.9,258.0 164.6,258.0 165.4,258.0 166.1,258.0 166.9,258.0 167.6,258.0 168.4,257.9 169.1,257.9 169.9,257.9 170.7,257.9 171.4,257.9 172.2,257.9 172.9,257.9 173.7,257.9 174.4,257.9 175.2,257.9 175.9,257.9 176.7,257.9 177.4,257.9 178.2,257.9 178.9,257.9 179.7,257.9 180.4,257.9 181.2,257.9" fill="none" stroke="#a800e6" stroke-width="1.5" stroke-dasharray="3.2,2" stroke-linejoin="round"/>
<polyline points="48.9,379.1 49.6,379.1 50.4,379.1 51.1,379.1 51.9,379.1 52.6,379.1 53.4,379.1 54.1,379.1 54.9,379.1 55.6,379.1 56.4,379.1 57.1,379.1 57.9,379.1 58.6,379.1 59.4,379.1 60.1,379.1 60.9,379.0 61.6,379.0 62.4,379.0 63.2,379.0 63.9,379.0 64.7,379.0 65.4,379.0 66.2,379.0 66.9,378.9 67.7,378.9 68.4,378.9 69.2,378.9 69.9,378.8 70.7,378.8 71.4,378.7 72.2,378.7 72.9,378.6 73.7,378.6 74.4,378.5 75.2,378.4 75.9,378.3 76.7,378.2 77.4,378.1 78.2,377.9 78.9,377.8 79.7,377.6 80.4,377.4 81.2,377.1 81.9,376.9 82.7,376.5 83.4,376.2 84.2,375.8 85.0,375.3 85.7,374.8 86.5,374.2 87.2,373.6 88.0,372.9 88.7,372.0 89.5,371.1 90.2,370.0 91.0,368.9 91.7,367.5 92.5,366.1 93.2,364.5 94.0,362.7 94.7,360.7 95.5,358.5 96.2,356.2 97.0,353.6 97.7,350.9 98.5,347.9 99.2,344.7 100.0,341.4 100.7,337.8 101.5,334.2 102.2,330.4 103.0,326.5 103.7,322.5 104.5,318.5 105.2,314.5 106.0,310.5 106.8,306.6 107.5,302.8 108.3,299.1 109.0,295.6 109.8,292.3 110.5,289.1 111.3,286.1 112.0,283.4 112.8,280.8 113.5,278.4 114.3,276.3 115.0,274.3 115.8,272.5 116.5,270.9 117.3,269.4 118.0,268.1 118.8,266.9 119.5,265.9 120.3,265.0 121.0,264.1 121.8,263.4 122.5,262.7 123.3,262.1 124.0,261.6 124.8,261.2 125.5,260.8 126.3,260.4 127.1,260.1 127.8,259.8 128.6,259.6 129.3,259.4 130.1,259.2 130.8,259.0 131.6,258.9 132.3,258.8 133.1,258.7 133.8,258.6 134.6,258.5 135.3,258.4 136.1,258.3 136.8,258.3 137.6,258.2 138.3,258.2 139.1,258.1 139.8,258.1 140.6,258.1 141.3,258.1 142.1,258.0 142.8,258.0 143.6,258.0 144.3,258.0 145.1,258.0 145.8,258.0 146.6,257.9 147.3,257.9 148.1,257.9 148.9,257.9 149.6,257.9 150.4,257.9 151.1,257.9 151.9,257.9 152.6,257.9 153.4,257.9 154.1,257.9 154.9,257.9 155.6,257.9 156.4,257.9 157.1,257.9 157.9,257.9 158.6,257.9 159.4,257.9 160.1,257.9 160.9,257.9 161.6,257.9 162.4,257.9 163.1,257.9 163.9,257.9 164.6,257.9 165.4,257.9 166.1,257.9 166.9,257.9 167.6,257.9 168.4,257.9 169.1,257.9 169.9,257.9 170.7,257.9 171.4,257.9 172.2,257.9 172.9,257.9 173.7,257.9 174.4,257.9 175.2,257.9 175.9,257.9 176.7,257.9 177.4,257.9 178.2,257.9 178.9,257.9 179.7,257.9 180.4,257.9 181.2,257.9" fill="none" stroke="#1f8a22" stroke-width="1.5" stroke-dasharray="3.2,2" stroke-linejoin="round"/>
<polyline points="48.9,377.9 49.6,377.9 50.4,377.8 51.1,377.8 51.9,377.8 52.6,377.8 53.4,377.8 54.1,377.8 54.9,377.8 55.6,377.8 56.4,377.8 57.1,377.8 57.9,377.8 58.6,377.8 59.4,377.8 60.1,377.8 60.9,377.8 61.6,377.8 62.4,377.8 63.2,377.7 63.9,377.7 64.7,377.7 65.4,377.7 66.2,377.6 66.9,377.6 67.7,377.6 68.4,377.5 69.2,377.5 69.9,377.4 70.7,377.4 71.4,377.3 72.2,377.2 72.9,377.2 73.7,377.1 74.4,377.0 75.2,376.8 75.9,376.7 76.7,376.5 77.4,376.3 78.2,376.1 78.9,375.9 79.7,375.6 80.4,375.3 81.2,374.9 81.9,374.5 82.7,374.0 83.4,373.5 84.2,372.9 85.0,372.3 85.7,371.5 86.5,370.7 87.2,369.7 88.0,368.7 88.7,367.5 89.5,366.2 90.2,364.7 91.0,363.0 91.7,361.2 92.5,359.2 93.2,357.1 94.0,354.7 94.7,352.1 95.5,349.3 96.2,346.4 97.0,343.2 97.7,339.8 98.5,336.3 99.2,332.7 100.0,328.9 100.7,325.0 101.5,321.0 102.2,317.1 103.0,313.1 103.7,309.2 104.5,305.3 105.2,301.6 106.0,298.0 106.8,294.5 107.5,291.3 108.3,288.2 109.0,285.3 109.8,282.6 110.5,280.1 111.3,277.8 112.0,275.7 112.8,273.8 113.5,272.0 114.3,270.5 115.0,269.0 115.8,267.8 116.5,266.6 117.3,265.6 118.0,264.7 118.8,263.9 119.5,263.2 120.3,262.6 121.0,262.0 121.8,261.5 122.5,261.1 123.3,260.7 124.0,260.3 124.8,260.0 125.5,259.8 126.3,259.5 127.1,259.3 127.8,259.2 128.6,259.0 129.3,258.9 130.1,258.7 130.8,258.6 131.6,258.5 132.3,258.5 133.1,258.4 133.8,258.3 134.6,258.3 135.3,258.2 136.1,258.2 136.8,258.1 137.6,258.1 138.3,258.1 139.1,258.1 139.8,258.0 140.6,258.0 141.3,258.0 142.1,258.0 142.8,258.0 143.6,258.0 144.3,257.9 145.1,257.9 145.8,257.9 146.6,257.9 147.3,257.9 148.1,257.9 148.9,257.9 149.6,257.9 150.4,257.9 151.1,257.9 151.9,257.9 152.6,257.9 153.4,257.9 154.1,257.9 154.9,257.9 155.6,257.9 156.4,257.9 157.1,257.9 157.9,257.9 158.6,257.9 159.4,257.9 160.1,257.9 160.9,257.9 161.6,257.9 162.4,257.9 163.1,257.9 163.9,257.9 164.6,257.9 165.4,257.9 166.1,257.9 166.9,257.9 167.6,257.9 168.4,257.9 169.1,257.9 169.9,257.9 170.7,257.9 171.4,257.9 172.2,257.9 172.9,257.9 173.7,257.9 174.4,257.9 175.2,257.9 175.9,257.9 176.7,257.9 177.4,257.9 178.2,257.9 178.9,257.9 179.7,257.9 180.4,257.9 181.2,257.9" fill="none" stroke="#9a0e0e" stroke-width="1.5" stroke-linejoin="round"/>
<polyline points="48.9,379.0 49.6,378.9 50.4,378.9 51.1,378.9 51.9,378.9 52.6,378.8 53.4,378.8 54.1,378.8 54.9,378.7 55.6,378.7 56.4,378.7 57.1,378.6 57.9,378.5 58.6,378.5 59.4,378.4 60.1,378.3 60.9,378.2 61.6,378.1 62.4,378.0 63.2,377.9 63.9,377.8 64.7,377.6 65.4,377.5 66.2,377.3 66.9,377.1 67.7,376.8 68.4,376.6 69.2,376.3 69.9,376.0 70.7,375.6 71.4,375.2 72.2,374.8 72.9,374.3 73.7,373.8 74.4,373.2 75.2,372.6 75.9,371.9 76.7,371.1 77.4,370.2 78.2,369.3 78.9,368.2 79.7,367.1 80.4,365.9 81.2,364.5 81.9,363.1 82.7,361.5 83.4,359.8 84.2,357.9 85.0,355.9 85.7,353.8 86.5,351.6 87.2,349.2 88.0,346.6 88.7,344.0 89.5,341.2 90.2,338.3 91.0,335.3 91.7,332.2 92.5,329.0 93.2,325.7 94.0,322.5 94.7,319.1 95.5,315.8 96.2,312.5 97.0,309.3 97.7,306.1 98.5,302.9 99.2,299.9 100.0,296.9 100.7,294.1 101.5,291.4 102.2,288.8 103.0,286.3 103.7,284.0 104.5,281.9 105.2,279.8 106.0,277.9 106.8,276.2 107.5,274.5 108.3,273.0 109.0,271.6 109.8,270.3 110.5,269.2 111.3,268.1 112.0,267.1 112.8,266.2 113.5,265.4 114.3,264.7 115.0,264.0 115.8,263.4 116.5,262.9 117.3,262.4 118.0,261.9 118.8,261.5 119.5,261.1 120.3,260.8 121.0,260.5 121.8,260.2 122.5,260.0 123.3,259.8 124.0,259.6 124.8,259.4 125.5,259.3 126.3,259.1 127.1,259.0 127.8,258.9 128.6,258.8 129.3,258.7 130.1,258.6 130.8,258.5 131.6,258.5 132.3,258.4 133.1,258.3 133.8,258.3 134.6,258.2 135.3,258.2 136.1,258.2 136.8,258.1 137.6,258.1 138.3,258.1 139.1,258.1 139.8,258.0 140.6,258.0 141.3,258.0 142.1,258.0 142.8,258.0 143.6,258.0 144.3,258.0 145.1,258.0 145.8,257.9 146.6,257.9 147.3,257.9 148.1,257.9 148.9,257.9 149.6,257.9 150.4,257.9 151.1,257.9 151.9,257.9 152.6,257.9 153.4,257.9 154.1,257.9 154.9,257.9 155.6,257.9 156.4,257.9 157.1,257.9 157.9,257.9 158.6,257.9 159.4,257.9 160.1,257.9 160.9,257.9 161.6,257.9 162.4,257.9 163.1,257.9 163.9,257.9 164.6,257.9 165.4,257.9 166.1,257.9 166.9,257.9 167.6,257.9 168.4,257.9 169.1,257.9 169.9,257.9 170.7,257.9 171.4,257.9 172.2,257.9 172.9,257.9 173.7,257.9 174.4,257.9 175.2,257.9 175.9,257.9 176.7,257.9 177.4,257.9 178.2,257.9 178.9,257.9 179.7,257.9 180.4,257.9 181.2,257.9" fill="none" stroke="#f5a050" stroke-width="1.5" stroke-linejoin="round"/>
<polyline points="48.9,378.8 49.6,378.8 50.4,378.8 51.1,378.7 51.9,378.7 52.6,378.6 53.4,378.6 54.1,378.5 54.9,378.4 55.6,378.3 56.4,378.3 57.1,378.2 57.9,378.0 58.6,377.9 59.4,377.8 60.1,377.6 60.9,377.4 61.6,377.2 62.4,377.0 63.2,376.8 63.9,376.5 64.7,376.2 65.4,375.8 66.2,375.4 66.9,375.0 67.7,374.5 68.4,374.0 69.2,373.4 69.9,372.7 70.7,372.0 71.4,371.2 72.2,370.3 72.9,369.3 73.7,368.2 74.4,367.0 75.2,365.7 75.9,364.2 76.7,362.7 77.4,361.0 78.2,359.1 78.9,357.1 79.7,355.0 80.4,352.7 81.2,350.2 81.9,347.6 82.7,344.8 83.4,341.9 84.2,338.8 85.0,335.7 85.7,332.4 86.5,329.0 87.2,325.6 88.0,322.1 88.7,318.6 89.5,315.1 90.2,311.5 91.0,308.1 91.7,304.7 92.5,301.4 93.2,298.2 94.0,295.1 94.7,292.1 95.5,289.3 96.2,286.6 97.0,284.0 97.7,281.7 98.5,279.5 99.2,277.4 100.0,275.5 100.7,273.7 101.5,272.1 102.2,270.6 103.0,269.2 103.7,268.0 104.5,266.9 105.2,265.8 106.0,264.9 106.8,264.1 107.5,263.3 108.3,262.6 109.0,262.0 109.8,261.4 110.5,260.9 111.3,260.5 112.0,260.1 112.8,259.7 113.5,259.4 114.3,259.1 115.0,258.8 115.8,258.6 116.5,258.4 117.3,258.2 118.0,258.0 118.8,257.9 119.5,257.7 120.3,257.6 121.0,257.5 121.8,257.4 122.5,257.3 123.3,257.3 124.0,257.2 124.8,257.1 125.5,257.1 126.3,257.0 127.1,257.0 127.8,257.0 128.6,256.9 129.3,256.9 130.1,256.9 130.8,256.8 131.6,256.8 132.3,256.8 133.1,256.8 133.8,256.8 134.6,256.7 135.3,256.7 136.1,256.7 136.8,256.7 137.6,256.7 138.3,256.7 139.1,256.7 139.8,256.7 140.6,256.7 141.3,256.7 142.1,256.7 142.8,256.7 143.6,256.7 144.3,256.7 145.1,256.7 145.8,256.7 146.6,256.7 147.3,256.7 148.1,256.7 148.9,256.6 149.6,256.6 150.4,256.6 151.1,256.6 151.9,256.6 152.6,256.6 153.4,256.6 154.1,256.6 154.9,256.6 155.6,256.6 156.4,256.6 157.1,256.6 157.9,256.6 158.6,256.6 159.4,256.6 160.1,256.6 160.9,256.6 161.6,256.6 162.4,256.6 163.1,256.6 163.9,256.6 164.6,256.6 165.4,256.6 166.1,256.6 166.9,256.6 167.6,256.6 168.4,256.6 169.1,256.6 169.9,256.6 170.7,256.6 171.4,256.6 172.2,256.6 172.9,256.6 173.7,256.6 174.4,256.6 175.2,256.6 175.9,256.6 176.7,256.6 177.4,256.6 178.2,256.6 178.9,256.6 179.7,256.6 180.4,256.6 181.2,256.6" fill="none" stroke="#5aa5ea" stroke-width="1.5" stroke-dasharray="3.2,2" stroke-linejoin="round"/>
<polyline points="48.9,379.0 49.6,379.0 50.4,378.9 51.1,378.9 51.9,378.9 52.6,378.9 53.4,378.8 54.1,378.8 54.9,378.8 55.6,378.7 56.4,378.7 57.1,378.6 57.9,378.6 58.6,378.5 59.4,378.4 60.1,378.3 60.9,378.2 61.6,378.1 62.4,377.9 63.2,377.8 63.9,377.6 64.7,377.4 65.4,377.2 66.2,376.9 66.9,376.6 67.7,376.3 68.4,376.0 69.2,375.5 69.9,375.1 70.7,374.6 71.4,374.0 72.2,373.3 72.9,372.6 73.7,371.7 74.4,370.8 75.2,369.8 75.9,368.6 76.7,367.4 77.4,365.9 78.2,364.4 78.9,362.6 79.7,360.8 80.4,358.7 81.2,356.4 81.9,354.0 82.7,351.4 83.4,348.5 84.2,345.5 85.0,342.3 85.7,339.0 86.5,335.5 87.2,331.9 88.0,328.1 88.7,324.3 89.5,320.4 90.2,316.5 91.0,312.6 91.7,308.7 92.5,304.9 93.2,301.2 94.0,297.6 94.7,294.1 95.5,290.9 96.2,287.7 97.0,284.8 97.7,282.1 98.5,279.5 99.2,277.1 100.0,275.0 100.7,273.0 101.5,271.1 102.2,269.5 103.0,268.0 103.7,266.6 104.5,265.4 105.2,264.3 106.0,263.3 106.8,262.4 107.5,261.6 108.3,260.9 109.0,260.3 109.8,259.7 110.5,259.2 111.3,258.8 112.0,258.4 112.8,258.0 113.5,257.7 114.3,257.5 115.0,257.2 115.8,257.0 116.5,256.8 117.3,256.7 118.0,256.5 118.8,256.4 119.5,256.3 120.3,256.2 121.0,256.1 121.8,256.0 122.5,255.9 123.3,255.9 124.0,255.8 124.8,255.8 125.5,255.7 126.3,255.7 127.1,255.6 127.8,255.6 128.6,255.6 129.3,255.6 130.1,255.5 130.8,255.5 131.6,255.5 132.3,255.5 133.1,255.5 133.8,255.5 134.6,255.5 135.3,255.5 136.1,255.5 136.8,255.4 137.6,255.4 138.3,255.4 139.1,255.4 139.8,255.4 140.6,255.4 141.3,255.4 142.1,255.4 142.8,255.4 143.6,255.4 144.3,255.4 145.1,255.4 145.8,255.4 146.6,255.4 147.3,255.4 148.1,255.4 148.9,255.4 149.6,255.4 150.4,255.4 151.1,255.4 151.9,255.4 152.6,255.4 153.4,255.4 154.1,255.4 154.9,255.4 155.6,255.4 156.4,255.4 157.1,255.4 157.9,255.4 158.6,255.4 159.4,255.4 160.1,255.4 160.9,255.4 161.6,255.4 162.4,255.4 163.1,255.4 163.9,255.4 164.6,255.4 165.4,255.4 166.1,255.4 166.9,255.4 167.6,255.4 168.4,255.4 169.1,255.4 169.9,255.4 170.7,255.4 171.4,255.4 172.2,255.4 172.9,255.4 173.7,255.4 174.4,255.4 175.2,255.4 175.9,255.4 176.7,255.4 177.4,255.4 178.2,255.4 178.9,255.4 179.7,255.4 180.4,255.4 181.2,255.4" fill="none" stroke="#1414f0" stroke-width="1.5" stroke-dasharray="3.2,2" stroke-linejoin="round"/>
<polyline points="48.9,378.7 49.6,378.6 50.4,378.6 51.1,378.5 51.9,378.4 52.6,378.4 53.4,378.3 54.1,378.2 54.9,378.1 55.6,377.9 56.4,377.8 57.1,377.7 57.9,377.5 58.6,377.3 59.4,377.1 60.1,376.9 60.9,376.6 61.6,376.3 62.4,376.0 63.2,375.7 63.9,375.3 64.7,374.9 65.4,374.4 66.2,373.9 66.9,373.3 67.7,372.6 68.4,371.9 69.2,371.1 69.9,370.3 70.7,369.3 71.4,368.3 72.2,367.1 72.9,365.9 73.7,364.5 74.4,363.0 75.2,361.4 75.9,359.7 76.7,357.8 77.4,355.8 78.2,353.6 78.9,351.3 79.7,348.8 80.4,346.2 81.2,343.5 81.9,340.6 82.7,337.6 83.4,334.5 84.2,331.4 85.0,328.1 85.7,324.7 86.5,321.3 87.2,317.9 88.0,314.5 88.7,311.1 89.5,307.8 90.2,304.4 91.0,301.2 91.7,298.1 92.5,295.0 93.2,292.1 94.0,289.3 94.7,286.7 95.5,284.2 96.2,281.8 97.0,279.6 97.7,277.5 98.5,275.6 99.2,273.8 100.0,272.1 100.7,270.6 101.5,269.2 102.2,267.9 103.0,266.7 103.7,265.6 104.5,264.6 105.2,263.7 106.0,262.9 106.8,262.2 107.5,261.5 108.3,260.9 109.0,260.3 109.8,259.8 110.5,259.4 111.3,259.0 112.0,258.6 112.8,258.3 113.5,258.0 114.3,257.7 115.0,257.5 115.8,257.3 116.5,257.1 117.3,256.9 118.0,256.7 118.8,256.6 119.5,256.5 120.3,256.4 121.0,256.3 121.8,256.2 122.5,256.1 123.3,256.0 124.0,256.0 124.8,255.9 125.5,255.8 126.3,255.8 127.1,255.8 127.8,255.7 128.6,255.7 129.3,255.7 130.1,255.6 130.8,255.6 131.6,255.6 132.3,255.6 133.1,255.5 133.8,255.5 134.6,255.5 135.3,255.5 136.1,255.5 136.8,255.5 137.6,255.5 138.3,255.5 139.1,255.5 139.8,255.5 140.6,255.4 141.3,255.4 142.1,255.4 142.8,255.4 143.6,255.4 144.3,255.4 145.1,255.4 145.8,255.4 146.6,255.4 147.3,255.4 148.1,255.4 148.9,255.4 149.6,255.4 150.4,255.4 151.1,255.4 151.9,255.4 152.6,255.4 153.4,255.4 154.1,255.4 154.9,255.4 155.6,255.4 156.4,255.4 157.1,255.4 157.9,255.4 158.6,255.4 159.4,255.4 160.1,255.4 160.9,255.4 161.6,255.4 162.4,255.4 163.1,255.4 163.9,255.4 164.6,255.4 165.4,255.4 166.1,255.4 166.9,255.4 167.6,255.4 168.4,255.4 169.1,255.4 169.9,255.4 170.7,255.4 171.4,255.4 172.2,255.4 172.9,255.4 173.7,255.4 174.4,255.4 175.2,255.4 175.9,255.4 176.7,255.4 177.4,255.4 178.2,255.4 178.9,255.4 179.7,255.4 180.4,255.4 181.2,255.4" fill="none" stroke="#0b0b7a" stroke-width="1.5" stroke-linejoin="round"/>
<path d="M46.98,382.15V388.11M45.08,382.15h3.80M45.08,388.11h3.80" stroke="#a800e6" stroke-width="1.1" fill="none"/>
<path d="M61.87,377.94V383.89M59.97,377.94h3.80M59.97,383.89h3.80" stroke="#a800e6" stroke-width="1.1" fill="none"/>
<path d="M104.52,377.19V383.14M102.62,377.19h3.80M102.62,383.14h3.80" stroke="#a800e6" stroke-width="1.1" fill="none"/>
<path d="M118.91,359.09V366.53M117.01,359.09h3.80M117.01,366.53h3.80" stroke="#a800e6" stroke-width="1.1" fill="none"/>
<path d="M133.05,289.39V299.81M131.15,289.39h3.80M131.15,299.81h3.80" stroke="#a800e6" stroke-width="1.1" fill="none"/>
<path d="M46.98,382.58L49.53,387.17L44.43,387.17Z" fill="#a800e6"/>
<path d="M61.87,378.36L64.42,382.95L59.32,382.95Z" fill="#a800e6"/>
<path d="M76.00,383.82L78.55,388.41L73.45,388.41Z" fill="#a800e6"/>
<path d="M90.39,382.58L92.94,387.17L87.84,387.17Z" fill="#a800e6"/>
<path d="M104.52,377.62L107.07,382.21L101.97,382.21Z" fill="#a800e6"/>
<path d="M118.91,360.26L121.46,364.85L116.36,364.85Z" fill="#a800e6"/>
<path d="M133.05,292.05L135.60,296.64L130.50,296.64Z" fill="#a800e6"/>
<path d="M147.18,259.32L149.73,263.91L144.63,263.91Z" fill="#a800e6"/>
<path d="M161.57,259.32L164.12,263.91L159.02,263.91Z" fill="#a800e6"/>
<path d="M175.95,259.32L178.50,263.91L173.40,263.91Z" fill="#a800e6"/>
<path d="M90.39,355.86V363.30M88.49,355.86h3.80M88.49,363.30h3.80" stroke="#1f8a22" stroke-width="1.1" fill="none"/>
<path d="M104.52,312.46V321.39M102.62,312.46h3.80M102.62,321.39h3.80" stroke="#1f8a22" stroke-width="1.1" fill="none"/>
<path d="M118.91,266.83V272.78M117.01,266.83h3.80M117.01,272.78h3.80" stroke="#1f8a22" stroke-width="1.1" fill="none"/>
<path d="M61.87,377.52L64.52,380.17L61.87,382.82L59.22,380.17Z" fill="#1f8a22"/>
<path d="M76.00,369.33L78.65,371.98L76.00,374.63L73.35,371.98Z" fill="#1f8a22"/>
<path d="M90.39,356.93L93.04,359.58L90.39,362.23L87.74,359.58Z" fill="#1f8a22"/>
<path d="M104.52,314.27L107.17,316.92L104.52,319.57L101.87,316.92Z" fill="#1f8a22"/>
<path d="M118.91,267.15L121.56,269.80L118.91,272.45L116.26,269.80Z" fill="#1f8a22"/>
<path d="M133.05,255.99L135.70,258.64L133.05,261.29L130.40,258.64Z" fill="#1f8a22"/>
<path d="M147.18,252.27L149.83,254.92L147.18,257.57L144.53,254.92Z" fill="#1f8a22"/>
<path d="M161.57,248.55L164.22,251.20L161.57,253.85L158.92,251.20Z" fill="#1f8a22"/>
<path d="M175.95,255.99L178.60,258.64L175.95,261.29L173.30,258.64Z" fill="#1f8a22"/>
<path d="M99.07,322.38V338.75M97.17,322.38h3.80M97.17,338.75h3.80" stroke="#9a0e0e" stroke-width="1.1" fill="none"/>
<path d="M113.20,265.59V271.54M111.30,265.59h3.80M111.30,271.54h3.80" stroke="#9a0e0e" stroke-width="1.1" fill="none"/>
<rect x="68.55" y="383.13" width="4.00" height="4.00" fill="#9a0e0e"/>
<rect x="82.68" y="367.01" width="4.00" height="4.00" fill="#9a0e0e"/>
<rect x="97.07" y="328.57" width="4.00" height="4.00" fill="#9a0e0e"/>
<rect x="111.20" y="266.56" width="4.00" height="4.00" fill="#9a0e0e"/>
<rect x="126.09" y="255.40" width="4.00" height="4.00" fill="#9a0e0e"/>
<rect x="140.22" y="264.83" width="4.00" height="4.00" fill="#9a0e0e"/>
<rect x="154.61" y="256.64" width="4.00" height="4.00" fill="#9a0e0e"/>
<rect x="168.99" y="257.88" width="4.00" height="4.00" fill="#9a0e0e"/>
<rect x="183.13" y="258.38" width="4.00" height="4.00" fill="#9a0e0e"/>
<path d="M84.68,352.39V359.83M82.78,352.39h3.80M82.78,359.83h3.80" stroke="#f5a050" stroke-width="1.1" fill="none"/>
<path d="M99.07,281.71V311.47M97.17,281.71h3.80M97.17,311.47h3.80" stroke="#f5a050" stroke-width="1.1" fill="none"/>
<path d="M113.20,259.88V267.32M111.30,259.88h3.80M111.30,267.32h3.80" stroke="#f5a050" stroke-width="1.1" fill="none"/>
<path d="M170.99,250.70V256.66M169.09,250.70h3.80M169.09,256.66h3.80" stroke="#f5a050" stroke-width="1.1" fill="none"/>
<circle cx="56.16" cy="375.21" r="2.15" fill="#f5a050"/>
<circle cx="70.55" cy="372.73" r="2.15" fill="#f5a050"/>
<circle cx="84.68" cy="356.11" r="2.15" fill="#f5a050"/>
<circle cx="99.07" cy="296.59" r="2.15" fill="#f5a050"/>
<circle cx="113.20" cy="263.60" r="2.15" fill="#f5a050"/>
<circle cx="128.09" cy="259.88" r="2.15" fill="#f5a050"/>
<circle cx="142.22" cy="261.12" r="2.15" fill="#f5a050"/>
<circle cx="156.61" cy="254.42" r="2.15" fill="#f5a050"/>
<circle cx="170.99" cy="253.68" r="2.15" fill="#f5a050"/>
<circle cx="185.13" cy="261.12" r="2.15" fill="#f5a050"/>
<path d="M46.98,377.19V383.14M45.08,377.19h3.80M45.08,383.14h3.80" stroke="#5aa5ea" stroke-width="1.1" fill="none"/>
<path d="M61.87,370.99V376.94M59.97,370.99h3.80M59.97,376.94h3.80" stroke="#5aa5ea" stroke-width="1.1" fill="none"/>
<path d="M76.00,357.35V363.30M74.10,357.35h3.80M74.10,363.30h3.80" stroke="#5aa5ea" stroke-width="1.1" fill="none"/>
<path d="M90.39,308.24V315.68M88.49,308.24h3.80M88.49,315.68h3.80" stroke="#5aa5ea" stroke-width="1.1" fill="none"/>
<path d="M104.52,258.89V264.84M102.62,258.89h3.80M102.62,264.84h3.80" stroke="#5aa5ea" stroke-width="1.1" fill="none"/>
<path d="M175.95,256.66V265.59M174.05,256.66h3.80M174.05,265.59h3.80" stroke="#5aa5ea" stroke-width="1.1" fill="none"/>
<circle cx="46.98" cy="380.17" r="2.15" fill="#5aa5ea"/>
<circle cx="61.87" cy="373.97" r="2.15" fill="#5aa5ea"/>
<circle cx="76.00" cy="360.33" r="2.15" fill="#5aa5ea"/>
<circle cx="90.39" cy="311.96" r="2.15" fill="#5aa5ea"/>
<circle cx="104.52" cy="261.87" r="2.15" fill="#5aa5ea"/>
<circle cx="118.91" cy="254.42" r="2.15" fill="#5aa5ea"/>
<circle cx="133.05" cy="258.64" r="2.15" fill="#5aa5ea"/>
<circle cx="147.18" cy="256.16" r="2.15" fill="#5aa5ea"/>
<circle cx="161.57" cy="258.64" r="2.15" fill="#5aa5ea"/>
<circle cx="175.95" cy="261.12" r="2.15" fill="#5aa5ea"/>
<path d="M61.87,366.03V371.98M59.97,366.03h3.80M59.97,371.98h3.80" stroke="#1414f0" stroke-width="1.1" fill="none"/>
<path d="M90.39,321.88V344.21M88.49,321.88h3.80M88.49,344.21h3.80" stroke="#1414f0" stroke-width="1.1" fill="none"/>
<path d="M104.52,268.56V276.00M102.62,268.56h3.80M102.62,276.00h3.80" stroke="#1414f0" stroke-width="1.1" fill="none"/>
<circle cx="46.98" cy="372.73" r="2.15" fill="#1414f0"/>
<circle cx="61.87" cy="369.01" r="2.15" fill="#1414f0"/>
<circle cx="76.00" cy="359.09" r="2.15" fill="#1414f0"/>
<circle cx="90.39" cy="333.05" r="2.15" fill="#1414f0"/>
<circle cx="104.52" cy="272.28" r="2.15" fill="#1414f0"/>
<circle cx="118.91" cy="259.88" r="2.15" fill="#1414f0"/>
<circle cx="133.05" cy="258.64" r="2.15" fill="#1414f0"/>
<circle cx="147.18" cy="249.96" r="2.15" fill="#1414f0"/>
<circle cx="161.57" cy="254.92" r="2.15" fill="#1414f0"/>
<circle cx="175.95" cy="256.16" r="2.15" fill="#1414f0"/>
<path d="M56.16,376.94V385.87M54.26,376.94h3.80M54.26,385.87h3.80" stroke="#0b0b7a" stroke-width="1.1" fill="none"/>
<path d="M84.68,336.02V344.95M82.78,336.02h3.80M82.78,344.95h3.80" stroke="#0b0b7a" stroke-width="1.1" fill="none"/>
<path d="M99.56,264.59V273.52M97.66,264.59h3.80M97.66,273.52h3.80" stroke="#0b0b7a" stroke-width="1.1" fill="none"/>
<path d="M170.99,257.90V266.83M169.09,257.90h3.80M169.09,266.83h3.80" stroke="#0b0b7a" stroke-width="1.1" fill="none"/>
<circle cx="56.16" cy="381.41" r="2.15" fill="#0b0b7a"/>
<circle cx="70.55" cy="368.51" r="2.15" fill="#0b0b7a"/>
<circle cx="84.68" cy="340.49" r="2.15" fill="#0b0b7a"/>
<circle cx="99.56" cy="269.06" r="2.15" fill="#0b0b7a"/>
<circle cx="113.20" cy="269.31" r="2.15" fill="#0b0b7a"/>
<circle cx="128.09" cy="260.38" r="2.15" fill="#0b0b7a"/>
<circle cx="142.97" cy="261.12" r="2.15" fill="#0b0b7a"/>
<circle cx="156.61" cy="262.36" r="2.15" fill="#0b0b7a"/>
<circle cx="170.99" cy="262.36" r="2.15" fill="#0b0b7a"/>
<circle cx="185.13" cy="260.38" r="2.15" fill="#0b0b7a"/>
<text x="219.80" y="222.30" font-size="10.2" text-anchor="start" font-weight="bold" fill="#000">d</text>
<text x="336.00" y="230.30" font-size="8.7" text-anchor="middle" font-weight="normal" fill="#111" stroke="#111" stroke-width="0.18">Live virus CPE assay with</text>
<text x="336.00" y="240.40" font-size="8.7" text-anchor="middle" font-weight="normal" fill="#111" stroke="#111" stroke-width="0.18">Omicron BA.1 variant</text>
<text x="223.10" y="321.30" font-size="8.6" text-anchor="middle" font-weight="normal" fill="#111" transform="rotate(-90 223.10 321.30)" stroke="#111" stroke-width="0.18">% inhibition in live virus</text>
<text x="234.80" y="321.30" font-size="8.6" text-anchor="middle" font-weight="normal" fill="#111" transform="rotate(-90 234.80 321.30)" stroke="#111" stroke-width="0.18">SARS-CoV-2 CPE assay</text>
<line x1="263.0" y1="250.2" x2="263.0" y2="393.0" stroke="#8a8a8a" stroke-width="1"/>
<line x1="263.0" y1="392.5" x2="406.3" y2="392.5" stroke="#8a8a8a" stroke-width="1"/>
<line x1="259.5" y1="380.70" x2="263.0" y2="380.70" stroke="#8a8a8a" stroke-width="1"/>
<text x="255.70" y="383.60" font-size="8.6" text-anchor="end" font-weight="normal" fill="#111" stroke="#111" stroke-width="0.18">0</text>
<line x1="259.5" y1="357.06" x2="263.0" y2="357.06" stroke="#8a8a8a" stroke-width="1"/>
<text x="255.70" y="359.96" font-size="8.6" text-anchor="end" font-weight="normal" fill="#111" stroke="#111" stroke-width="0.18">20</text>
<line x1="259.5" y1="333.42" x2="263.0" y2="333.42" stroke="#8a8a8a" stroke-width="1"/>
<text x="255.70" y="336.32" font-size="8.6" text-anchor="end" font-weight="normal" fill="#111" stroke="#111" stroke-width="0.18">40</text>
<line x1="259.5" y1="309.78" x2="263.0" y2="309.78" stroke="#8a8a8a" stroke-width="1"/>
<text x="255.70" y="312.68" font-size="8.6" text-anchor="end" font-weight="normal" fill="#111" stroke="#111" stroke-width="0.18">60</text>
<line x1="259.5" y1="286.14" x2="263.0" y2="286.14" stroke="#8a8a8a" stroke-width="1"/>
<text x="255.70" y="289.04" font-size="8.6" text-anchor="end" font-weight="normal" fill="#111" stroke="#111" stroke-width="0.18">80</text>
<line x1="259.5" y1="262.50" x2="263.0" y2="262.50" stroke="#8a8a8a" stroke-width="1"/>
<text x="255.70" y="265.40" font-size="8.6" text-anchor="end" font-weight="normal" fill="#111" stroke="#111" stroke-width="0.18">100</text>
<line x1="277.50" y1="392.5" x2="277.50" y2="395.5" stroke="#8a8a8a" stroke-width="1"/>
<text x="277.90" y="408.00" font-size="8.6" text-anchor="middle" font-weight="normal" fill="#111" stroke="#111" stroke-width="0.18">10<tspan dy="-4.4" font-size="5.9">−9</tspan></text>
<line x1="306.65" y1="392.5" x2="306.65" y2="395.5" stroke="#8a8a8a" stroke-width="1"/>
<text x="307.05" y="408.00" font-size="8.6" text-anchor="middle" font-weight="normal" fill="#111" stroke="#111" stroke-width="0.18">10<tspan dy="-4.4" font-size="5.9">−8</tspan></text>
<line x1="335.80" y1="392.5" x2="335.80" y2="395.5" stroke="#8a8a8a" stroke-width="1"/>
<text x="336.20" y="408.00" font-size="8.6" text-anchor="middle" font-weight="normal" fill="#111" stroke="#111" stroke-width="0.18">10<tspan dy="-4.4" font-size="5.9">−7</tspan></text>
<line x1="364.95" y1="392.5" x2="364.95" y2="395.5" stroke="#8a8a8a" stroke-width="1"/>
<text x="365.35" y="408.00" font-size="8.6" text-anchor="middle" font-weight="normal" fill="#111" stroke="#111" stroke-width="0.18">10<tspan dy="-4.4" font-size="5.9">−6</tspan></text>
<line x1="394.10" y1="392.5" x2="394.10" y2="395.5" stroke="#8a8a8a" stroke-width="1"/>
<text x="394.50" y="408.00" font-size="8.6" text-anchor="middle" font-weight="normal" fill="#111" stroke="#111" stroke-width="0.18">10<tspan dy="-4.4" font-size="5.9">−5</tspan></text>
<text x="329.30" y="423.00" font-size="8.7" text-anchor="middle" font-weight="normal" fill="#111" stroke="#111" stroke-width="0.18">mAb concentration (g ml<tspan dy="-3.4" font-size="5.6">−1</tspan><tspan dy="3.4">)</tspan></text>
<polyline points="264.4,378.9 265.1,378.9 265.8,378.9 266.6,378.9 267.3,378.9 268.0,378.9 268.8,378.9 269.5,378.9 270.2,378.9 270.9,378.9 271.7,378.9 272.4,378.9 273.1,378.9 273.9,378.9 274.6,378.9 275.3,378.9 276.0,378.9 276.8,378.9 277.5,378.9 278.2,378.9 279.0,378.9 279.7,378.9 280.4,378.9 281.1,378.9 281.9,378.9 282.6,378.9 283.3,378.9 284.1,378.9 284.8,378.9 285.5,378.9 286.2,378.9 287.0,378.9 287.7,378.9 288.4,378.9 289.2,378.9 289.9,378.9 290.6,378.9 291.3,378.9 292.1,378.9 292.8,378.9 293.5,378.9 294.3,378.9 295.0,378.9 295.7,378.9 296.4,378.9 297.2,378.9 297.9,378.9 298.6,378.9 299.4,378.9 300.1,378.9 300.8,378.9 301.5,378.9 302.3,378.9 303.0,378.9 303.7,378.9 304.5,378.9 305.2,378.9 305.9,378.9 306.6,378.9 307.4,378.9 308.1,378.9 308.8,378.9 309.6,378.9 310.3,378.9 311.0,378.9 311.8,378.9 312.5,378.9 313.2,378.9 313.9,378.9 314.7,378.9 315.4,378.9 316.1,378.9 316.9,378.9 317.6,378.9 318.3,378.9 319.0,378.9 319.8,378.9 320.5,378.9 321.2,378.9 322.0,378.9 322.7,378.9 323.4,378.9 324.1,378.9 324.9,378.9 325.6,378.9 326.3,378.9 327.1,378.9 327.8,378.9 328.5,378.9 329.2,378.9 330.0,378.9 330.7,378.9 331.4,378.9 332.2,378.9 332.9,378.9 333.6,378.9 334.3,378.9 335.1,378.9 335.8,378.9 336.5,378.9 337.3,378.9 338.0,378.9 338.7,378.9 339.4,378.9 340.2,378.9 340.9,378.9 341.6,378.9 342.4,378.9 343.1,378.9 343.8,378.9 344.5,378.9 345.3,378.9 346.0,378.9 346.7,378.9 347.5,378.9 348.2,378.9 348.9,378.9 349.6,378.9 350.4,378.9 351.1,378.9 351.8,378.9 352.6,378.9 353.3,378.9 354.0,378.9 354.7,378.9 355.5,378.9 356.2,378.9 356.9,378.9 357.7,378.9 358.4,378.9 359.1,378.9 359.8,378.9 360.6,378.9 361.3,378.9 362.0,378.9 362.8,378.9 363.5,378.9 364.2,378.9 364.9,378.9 365.7,378.9 366.4,378.9 367.1,378.9 367.9,378.9 368.6,378.9 369.3,378.9 370.1,378.9 370.8,378.9 371.5,378.9 372.2,378.9 373.0,378.9 373.7,378.9 374.4,378.9 375.2,378.9 375.9,378.9 376.6,378.9 377.3,378.9 378.1,378.9 378.8,378.9 379.5,378.9 380.3,378.9 381.0,378.9 381.7,378.9 382.4,378.9 383.2,378.9 383.9,378.9 384.6,378.9 385.4,378.9 386.1,378.9 386.8,378.9 387.5,378.9 388.3,378.9 389.0,378.9 389.7,378.9 390.5,378.9 391.2,378.9 391.9,378.9 392.6,378.9 393.4,378.9 394.1,378.9 394.8,378.9 395.6,378.9" fill="none" stroke="#f5a050" stroke-width="1.5" stroke-linejoin="round"/>
<polyline points="264.4,380.7 265.1,380.7 265.8,380.7 266.6,380.7 267.3,380.7 268.0,380.7 268.8,380.7 269.5,380.7 270.2,380.7 270.9,380.7 271.7,380.7 272.4,380.7 273.1,380.7 273.9,380.7 274.6,380.7 275.3,380.7 276.0,380.7 276.8,380.7 277.5,380.7 278.2,380.7 279.0,380.7 279.7,380.7 280.4,380.7 281.1,380.7 281.9,380.7 282.6,380.7 283.3,380.7 284.1,380.7 284.8,380.7 285.5,380.7 286.2,380.7 287.0,380.7 287.7,380.7 288.4,380.7 289.2,380.7 289.9,380.7 290.6,380.7 291.3,380.7 292.1,380.7 292.8,380.7 293.5,380.7 294.3,380.7 295.0,380.7 295.7,380.7 296.4,380.7 297.2,380.7 297.9,380.7 298.6,380.7 299.4,380.7 300.1,380.7 300.8,380.7 301.5,380.7 302.3,380.7 303.0,380.7 303.7,380.7 304.5,380.7 305.2,380.7 305.9,380.7 306.6,380.7 307.4,380.7 308.1,380.7 308.8,380.7 309.6,380.7 310.3,380.7 311.0,380.7 311.8,380.7 312.5,380.7 313.2,380.7 313.9,380.7 314.7,380.6 315.4,380.6 316.1,380.6 316.9,380.6 317.6,380.6 318.3,380.6 319.0,380.6 319.8,380.6 320.5,380.6 321.2,380.6 322.0,380.6 322.7,380.5 323.4,380.5 324.1,380.5 324.9,380.5 325.6,380.5 326.3,380.4 327.1,380.4 327.8,380.4 328.5,380.3 329.2,380.3 330.0,380.2 330.7,380.2 331.4,380.1 332.2,380.1 332.9,380.0 333.6,379.9 334.3,379.9 335.1,379.8 335.8,379.7 336.5,379.5 337.3,379.4 338.0,379.3 338.7,379.1 339.4,379.0 340.2,378.8 340.9,378.6 341.6,378.3 342.4,378.1 343.1,377.8 343.8,377.5 344.5,377.2 345.3,376.8 346.0,376.4 346.7,375.9 347.5,375.4 348.2,374.9 348.9,374.3 349.6,373.6 350.4,372.9 351.1,372.1 351.8,371.3 352.6,370.3 353.3,369.3 354.0,368.2 354.7,367.0 355.5,365.7 356.2,364.3 356.9,362.7 357.7,361.1 358.4,359.4 359.1,357.5 359.8,355.5 360.6,353.4 361.3,351.1 362.0,348.8 362.8,346.3 363.5,343.7 364.2,341.1 364.9,338.3 365.7,335.4 366.4,332.5 367.1,329.5 367.9,326.5 368.6,323.4 369.3,320.4 370.1,317.3 370.8,314.3 371.5,311.3 372.2,308.4 373.0,305.5 373.7,302.7 374.4,300.0 375.2,297.4 375.9,294.9 376.6,292.5 377.3,290.3 378.1,288.1 378.8,286.1 379.5,284.2 380.3,282.4 381.0,280.8 381.7,279.2 382.4,277.8 383.2,276.5 383.9,275.2 384.6,274.1 385.4,273.1 386.1,272.1 386.8,271.2 387.5,270.4 388.3,269.7 389.0,269.0 389.7,268.4 390.5,267.9 391.2,267.4 391.9,266.9 392.6,266.5 393.4,266.1 394.1,265.8 394.8,265.4 395.6,265.2" fill="none" stroke="#1f8a22" stroke-width="1.5" stroke-dasharray="3.2,2" stroke-linejoin="round"/>
<polyline points="264.4,380.7 265.1,380.7 265.8,380.7 266.6,380.7 267.3,380.7 268.0,380.7 268.8,380.7 269.5,380.7 270.2,380.7 270.9,380.7 271.7,380.7 272.4,380.7 273.1,380.7 273.9,380.7 274.6,380.7 275.3,380.7 276.0,380.7 276.8,380.7 277.5,380.7 278.2,380.7 279.0,380.7 279.7,380.7 280.4,380.7 281.1,380.7 281.9,380.7 282.6,380.7 283.3,380.7 284.1,380.7 284.8,380.7 285.5,380.7 286.2,380.7 287.0,380.7 287.7,380.7 288.4,380.7 289.2,380.7 289.9,380.7 290.6,380.7 291.3,380.7 292.1,380.7 292.8,380.7 293.5,380.7 294.3,380.7 295.0,380.7 295.7,380.7 296.4,380.7 297.2,380.7 297.9,380.7 298.6,380.7 299.4,380.7 300.1,380.7 300.8,380.7 301.5,380.7 302.3,380.7 303.0,380.7 303.7,380.7 304.5,380.7 305.2,380.7 305.9,380.7 306.6,380.7 307.4,380.7 308.1,380.7 308.8,380.7 309.6,380.7 310.3,380.7 311.0,380.7 311.8,380.7 312.5,380.7 313.2,380.7 313.9,380.6 314.7,380.6 315.4,380.6 316.1,380.6 316.9,380.6 317.6,380.6 318.3,380.6 319.0,380.6 319.8,380.6 320.5,380.6 321.2,380.5 322.0,380.5 322.7,380.5 323.4,380.5 324.1,380.5 324.9,380.4 325.6,380.4 326.3,380.4 327.1,380.3 327.8,380.3 328.5,380.2 329.2,380.2 330.0,380.1 330.7,380.1 331.4,380.0 332.2,379.9 332.9,379.8 333.6,379.7 334.3,379.6 335.1,379.5 335.8,379.4 336.5,379.2 337.3,379.0 338.0,378.8 338.7,378.6 339.4,378.4 340.2,378.1 340.9,377.8 341.6,377.5 342.4,377.2 343.1,376.8 343.8,376.3 344.5,375.8 345.3,375.3 346.0,374.7 346.7,374.1 347.5,373.3 348.2,372.6 348.9,371.7 349.6,370.7 350.4,369.7 351.1,368.5 351.8,367.3 352.6,365.9 353.3,364.5 354.0,362.9 354.7,361.2 355.5,359.3 356.2,357.3 356.9,355.2 357.7,352.9 358.4,350.6 359.1,348.0 359.8,345.4 360.6,342.6 361.3,339.7 362.0,336.8 362.8,333.7 363.5,330.6 364.2,327.4 364.9,324.2 365.7,321.0 366.4,317.7 367.1,314.5 367.9,311.4 368.6,308.3 369.3,305.2 370.1,302.3 370.8,299.5 371.5,296.7 372.2,294.1 373.0,291.7 373.7,289.3 374.4,287.1 375.2,285.1 375.9,283.1 376.6,281.3 377.3,279.7 378.1,278.1 378.8,276.7 379.5,275.4 380.3,274.2 381.0,273.1 381.7,272.1 382.4,271.2 383.2,270.3 383.9,269.6 384.6,268.9 385.4,268.2 386.1,267.7 386.8,267.2 387.5,266.7 388.3,266.3 389.0,265.9 389.7,265.5 390.5,265.2 391.2,265.0 391.9,264.7 392.6,264.5 393.4,264.3 394.1,264.1 394.8,263.9 395.6,263.8" fill="none" stroke="#a800e6" stroke-width="1.5" stroke-dasharray="3.2,2" stroke-linejoin="round"/>
<polyline points="264.4,380.7 265.1,380.7 265.8,380.7 266.6,380.7 267.3,380.7 268.0,380.7 268.8,380.7 269.5,380.7 270.2,380.7 270.9,380.7 271.7,380.7 272.4,380.7 273.1,380.7 273.9,380.7 274.6,380.7 275.3,380.7 276.0,380.7 276.8,380.7 277.5,380.7 278.2,380.7 279.0,380.7 279.7,380.7 280.4,380.7 281.1,380.7 281.9,380.7 282.6,380.7 283.3,380.7 284.1,380.7 284.8,380.7 285.5,380.7 286.2,380.7 287.0,380.7 287.7,380.7 288.4,380.7 289.2,380.7 289.9,380.7 290.6,380.7 291.3,380.7 292.1,380.7 292.8,380.7 293.5,380.7 294.3,380.7 295.0,380.7 295.7,380.7 296.4,380.7 297.2,380.7 297.9,380.7 298.6,380.7 299.4,380.7 300.1,380.7 300.8,380.7 301.5,380.7 302.3,380.7 303.0,380.7 303.7,380.7 304.5,380.7 305.2,380.7 305.9,380.7 306.6,380.7 307.4,380.7 308.1,380.7 308.8,380.7 309.6,380.7 310.3,380.7 311.0,380.7 311.8,380.7 312.5,380.7 313.2,380.7 313.9,380.7 314.7,380.7 315.4,380.7 316.1,380.7 316.9,380.7 317.6,380.7 318.3,380.7 319.0,380.7 319.8,380.7 320.5,380.7 321.2,380.7 322.0,380.7 322.7,380.7 323.4,380.7 324.1,380.7 324.9,380.6 325.6,380.6 326.3,380.6 327.1,380.6 327.8,380.6 328.5,380.6 329.2,380.5 330.0,380.5 330.7,380.5 331.4,380.4 332.2,380.4 332.9,380.3 333.6,380.2 334.3,380.2 335.1,380.1 335.8,379.9 336.5,379.8 337.3,379.6 338.0,379.4 338.7,379.2 339.4,378.9 340.2,378.6 340.9,378.2 341.6,377.7 342.4,377.2 343.1,376.6 343.8,375.8 344.5,374.9 345.3,373.9 346.0,372.7 346.7,371.3 347.5,369.7 348.2,367.9 348.9,365.8 349.6,363.4 350.4,360.7 351.1,357.6 351.8,354.2 352.6,350.5 353.3,346.5 354.0,342.1 354.7,337.5 355.5,332.7 356.2,327.7 356.9,322.6 357.7,317.5 358.4,312.5 359.1,307.6 359.8,302.9 360.6,298.4 361.3,294.3 362.0,290.4 362.8,286.9 363.5,283.7 364.2,280.9 364.9,278.4 365.7,276.1 366.4,274.2 367.1,272.5 367.9,271.0 368.6,269.7 369.3,268.7 370.1,267.7 370.8,266.9 371.5,266.2 372.2,265.7 373.0,265.2 373.7,264.8 374.4,264.4 375.2,264.1 375.9,263.9 376.6,263.6 377.3,263.5 378.1,263.3 378.8,263.2 379.5,263.1 380.3,263.0 381.0,262.9 381.7,262.8 382.4,262.8 383.2,262.7 383.9,262.7 384.6,262.7 385.4,262.6 386.1,262.6 386.8,262.6 387.5,262.6 388.3,262.6 389.0,262.6 389.7,262.6 390.5,262.5 391.2,262.5 391.9,262.5 392.6,262.5 393.4,262.5 394.1,262.5 394.8,262.5 395.6,262.5" fill="none" stroke="#9a0e0e" stroke-width="1.5" stroke-linejoin="round"/>
<polyline points="264.4,380.7 265.1,380.7 265.8,380.7 266.6,380.7 267.3,380.7 268.0,380.7 268.8,380.7 269.5,380.7 270.2,380.6 270.9,380.6 271.7,380.6 272.4,380.6 273.1,380.6 273.9,380.6 274.6,380.6 275.3,380.6 276.0,380.6 276.8,380.6 277.5,380.6 278.2,380.6 279.0,380.6 279.7,380.6 280.4,380.6 281.1,380.6 281.9,380.5 282.6,380.5 283.3,380.5 284.1,380.5 284.8,380.5 285.5,380.5 286.2,380.5 287.0,380.4 287.7,380.4 288.4,380.4 289.2,380.4 289.9,380.4 290.6,380.3 291.3,380.3 292.1,380.3 292.8,380.3 293.5,380.2 294.3,380.2 295.0,380.2 295.7,380.1 296.4,380.1 297.2,380.0 297.9,380.0 298.6,379.9 299.4,379.9 300.1,379.8 300.8,379.8 301.5,379.7 302.3,379.6 303.0,379.6 303.7,379.5 304.5,379.4 305.2,379.3 305.9,379.2 306.6,379.1 307.4,379.0 308.1,378.9 308.8,378.7 309.6,378.6 310.3,378.4 311.0,378.3 311.8,378.1 312.5,377.9 313.2,377.7 313.9,377.5 314.7,377.3 315.4,377.1 316.1,376.8 316.9,376.6 317.6,376.3 318.3,376.0 319.0,375.6 319.8,375.3 320.5,374.9 321.2,374.5 322.0,374.1 322.7,373.7 323.4,373.2 324.1,372.7 324.9,372.2 325.6,371.6 326.3,371.0 327.1,370.4 327.8,369.7 328.5,369.0 329.2,368.3 330.0,367.5 330.7,366.7 331.4,365.8 332.2,364.8 332.9,363.9 333.6,362.9 334.3,361.8 335.1,360.7 335.8,359.5 336.5,358.3 337.3,357.0 338.0,355.6 338.7,354.2 339.4,352.8 340.2,351.3 340.9,349.7 341.6,348.1 342.4,346.5 343.1,344.8 343.8,343.0 344.5,341.2 345.3,339.4 346.0,337.5 346.7,335.6 347.5,333.7 348.2,331.7 348.9,329.7 349.6,327.7 350.4,325.7 351.1,323.6 351.8,321.6 352.6,319.6 353.3,317.5 354.0,315.5 354.7,313.5 355.5,311.5 356.2,309.5 356.9,307.6 357.7,305.7 358.4,303.8 359.1,302.0 359.8,300.2 360.6,298.4 361.3,296.7 362.0,295.1 362.8,293.5 363.5,291.9 364.2,290.4 364.9,289.0 365.7,287.6 366.4,286.2 367.1,284.9 367.9,283.7 368.6,282.5 369.3,281.4 370.1,280.3 370.8,279.3 371.5,278.4 372.2,277.4 373.0,276.5 373.7,275.7 374.4,274.9 375.2,274.2 375.9,273.5 376.6,272.8 377.3,272.2 378.1,271.6 378.8,271.0 379.5,270.5 380.3,270.0 381.0,269.5 381.7,269.1 382.4,268.7 383.2,268.3 383.9,267.9 384.6,267.6 385.4,267.2 386.1,266.9 386.8,266.6 387.5,266.4 388.3,266.1 389.0,265.9 389.7,265.7 390.5,265.5 391.2,265.3 391.9,265.1 392.6,264.9 393.4,264.8 394.1,264.6 394.8,264.5 395.6,264.3" fill="none" stroke="#5aa5ea" stroke-width="1.5" stroke-dasharray="3.2,2" stroke-linejoin="round"/>
<polyline points="264.4,380.7 265.1,380.7 265.8,380.7 266.6,380.7 267.3,380.7 268.0,380.7 268.8,380.7 269.5,380.7 270.2,380.7 270.9,380.7 271.7,380.7 272.4,380.7 273.1,380.7 273.9,380.7 274.6,380.7 275.3,380.7 276.0,380.7 276.8,380.7 277.5,380.7 278.2,380.6 279.0,380.6 279.7,380.6 280.4,380.6 281.1,380.6 281.9,380.6 282.6,380.6 283.3,380.5 284.1,380.5 284.8,380.5 285.5,380.4 286.2,380.4 287.0,380.4 287.7,380.3 288.4,380.2 289.2,380.2 289.9,380.1 290.6,380.0 291.3,379.8 292.1,379.7 292.8,379.5 293.5,379.3 294.3,379.1 295.0,378.9 295.7,378.6 296.4,378.2 297.2,377.8 297.9,377.4 298.6,376.8 299.4,376.2 300.1,375.5 300.8,374.7 301.5,373.8 302.3,372.7 303.0,371.5 303.7,370.1 304.5,368.5 305.2,366.8 305.9,364.8 306.6,362.6 307.4,360.1 308.1,357.4 308.8,354.4 309.6,351.1 310.3,347.6 311.0,343.9 311.8,339.9 312.5,335.7 313.2,331.4 313.9,327.0 314.7,322.5 315.4,318.0 316.1,313.5 316.9,309.2 317.6,304.9 318.3,300.9 319.0,297.0 319.8,293.4 320.5,290.1 321.2,287.0 322.0,284.2 322.7,281.6 323.4,279.3 324.1,277.2 324.9,275.3 325.6,273.7 326.3,272.2 327.1,271.0 327.8,269.8 328.5,268.9 329.2,268.0 330.0,267.3 330.7,266.6 331.4,266.0 332.2,265.6 332.9,265.1 333.6,264.8 334.3,264.4 335.1,264.2 335.8,263.9 336.5,263.7 337.3,263.6 338.0,263.4 338.7,263.3 339.4,263.2 340.2,263.1 340.9,263.0 341.6,262.9 342.4,262.9 343.1,262.8 343.8,262.8 344.5,262.7 345.3,262.7 346.0,262.7 346.7,262.6 347.5,262.6 348.2,262.6 348.9,262.6 349.6,262.6 350.4,262.6 351.1,262.6 351.8,262.6 352.6,262.5 353.3,262.5 354.0,262.5 354.7,262.5 355.5,262.5 356.2,262.5 356.9,262.5 357.7,262.5 358.4,262.5 359.1,262.5 359.8,262.5 360.6,262.5 361.3,262.5 362.0,262.5 362.8,262.5 363.5,262.5 364.2,262.5 364.9,262.5 365.7,262.5 366.4,262.5 367.1,262.5 367.9,262.5 368.6,262.5 369.3,262.5 370.1,262.5 370.8,262.5 371.5,262.5 372.2,262.5 373.0,262.5 373.7,262.5 374.4,262.5 375.2,262.5 375.9,262.5 376.6,262.5 377.3,262.5 378.1,262.5 378.8,262.5 379.5,262.5 380.3,262.5 381.0,262.5 381.7,262.5 382.4,262.5 383.2,262.5 383.9,262.5 384.6,262.5 385.4,262.5 386.1,262.5 386.8,262.5 387.5,262.5 388.3,262.5 389.0,262.5 389.7,262.5 390.5,262.5 391.2,262.5 391.9,262.5 392.6,262.5 393.4,262.5 394.1,262.5 394.8,262.5 395.6,262.5" fill="none" stroke="#1414f0" stroke-width="1.5" stroke-dasharray="3.2,2" stroke-linejoin="round"/>
<polyline points="264.4,380.7 265.1,380.7 265.8,380.7 266.6,380.7 267.3,380.7 268.0,380.7 268.8,380.7 269.5,380.7 270.2,380.7 270.9,380.7 271.7,380.7 272.4,380.7 273.1,380.7 273.9,380.7 274.6,380.7 275.3,380.7 276.0,380.7 276.8,380.7 277.5,380.7 278.2,380.7 279.0,380.7 279.7,380.7 280.4,380.7 281.1,380.7 281.9,380.7 282.6,380.7 283.3,380.7 284.1,380.7 284.8,380.7 285.5,380.7 286.2,380.7 287.0,380.6 287.7,380.6 288.4,380.6 289.2,380.6 289.9,380.6 290.6,380.6 291.3,380.5 292.1,380.5 292.8,380.5 293.5,380.4 294.3,380.4 295.0,380.3 295.7,380.2 296.4,380.1 297.2,380.0 297.9,379.9 298.6,379.8 299.4,379.6 300.1,379.4 300.8,379.1 301.5,378.8 302.3,378.4 303.0,378.0 303.7,377.5 304.5,376.8 305.2,376.1 305.9,375.3 306.6,374.3 307.4,373.1 308.1,371.7 308.8,370.1 309.6,368.3 310.3,366.1 311.0,363.7 311.8,360.9 312.5,357.8 313.2,354.4 313.9,350.5 314.7,346.3 315.4,341.8 316.1,337.1 316.9,332.0 317.6,326.9 318.3,321.6 319.0,316.3 319.8,311.2 320.5,306.1 321.2,301.4 322.0,296.9 322.7,292.7 323.4,288.8 324.1,285.4 324.9,282.3 325.6,279.5 326.3,277.1 327.1,274.9 327.8,273.1 328.5,271.5 329.2,270.1 330.0,268.9 330.7,267.9 331.4,267.1 332.2,266.4 332.9,265.7 333.6,265.2 334.3,264.8 335.1,264.4 335.8,264.1 336.5,263.8 337.3,263.6 338.0,263.4 338.7,263.3 339.4,263.2 340.2,263.1 340.9,263.0 341.6,262.9 342.4,262.8 343.1,262.8 343.8,262.7 344.5,262.7 345.3,262.7 346.0,262.6 346.7,262.6 347.5,262.6 348.2,262.6 348.9,262.6 349.6,262.6 350.4,262.5 351.1,262.5 351.8,262.5 352.6,262.5 353.3,262.5 354.0,262.5 354.7,262.5 355.5,262.5 356.2,262.5 356.9,262.5 357.7,262.5 358.4,262.5 359.1,262.5 359.8,262.5 360.6,262.5 361.3,262.5 362.0,262.5 362.8,262.5 363.5,262.5 364.2,262.5 364.9,262.5 365.7,262.5 366.4,262.5 367.1,262.5 367.9,262.5 368.6,262.5 369.3,262.5 370.1,262.5 370.8,262.5 371.5,262.5 372.2,262.5 373.0,262.5 373.7,262.5 374.4,262.5 375.2,262.5 375.9,262.5 376.6,262.5 377.3,262.5 378.1,262.5 378.8,262.5 379.5,262.5 380.3,262.5 381.0,262.5 381.7,262.5 382.4,262.5 383.2,262.5 383.9,262.5 384.6,262.5 385.4,262.5 386.1,262.5 386.8,262.5 387.5,262.5 388.3,262.5 389.0,262.5 389.7,262.5 390.5,262.5 391.2,262.5 391.9,262.5 392.6,262.5 393.4,262.5 394.1,262.5 394.8,262.5 395.6,262.5" fill="none" stroke="#0b0b7a" stroke-width="1.5" stroke-linejoin="round"/>
<circle cx="262.98" cy="378.44" r="2.15" fill="#f5a050"/>
<circle cx="271.90" cy="378.44" r="2.15" fill="#f5a050"/>
<circle cx="286.04" cy="377.70" r="2.15" fill="#f5a050"/>
<circle cx="299.67" cy="378.44" r="2.15" fill="#f5a050"/>
<circle cx="313.31" cy="377.70" r="2.15" fill="#f5a050"/>
<circle cx="326.95" cy="377.70" r="2.15" fill="#f5a050"/>
<circle cx="341.33" cy="377.70" r="2.15" fill="#f5a050"/>
<circle cx="355.46" cy="376.95" r="2.15" fill="#f5a050"/>
<circle cx="369.10" cy="377.70" r="2.15" fill="#f5a050"/>
<circle cx="383.23" cy="375.96" r="2.15" fill="#f5a050"/>
<circle cx="396.87" cy="378.94" r="2.15" fill="#f5a050"/>
<path d="M360.42,353.15V359.10M358.52,353.15h3.80M358.52,359.10h3.80" stroke="#1f8a22" stroke-width="1.1" fill="none"/>
<path d="M374.06,298.85V306.29M372.16,298.85h3.80M372.16,306.29h3.80" stroke="#1f8a22" stroke-width="1.1" fill="none"/>
<path d="M388.19,263.14V270.58M386.29,263.14h3.80M386.29,270.58h3.80" stroke="#1f8a22" stroke-width="1.1" fill="none"/>
<path d="M262.98,377.53L265.63,380.18L262.98,382.83L260.33,380.18Z" fill="#1f8a22"/>
<path d="M276.86,375.79L279.51,378.44L276.86,381.09L274.21,378.44Z" fill="#1f8a22"/>
<path d="M290.99,377.53L293.64,380.18L290.99,382.83L288.34,380.18Z" fill="#1f8a22"/>
<path d="M305.13,377.53L307.78,380.18L305.13,382.83L302.48,380.18Z" fill="#1f8a22"/>
<path d="M318.77,375.79L321.42,378.44L318.77,381.09L316.12,378.44Z" fill="#1f8a22"/>
<path d="M332.40,368.85L335.05,371.50L332.40,374.15L329.75,371.50Z" fill="#1f8a22"/>
<path d="M346.29,366.86L348.94,369.51L346.29,372.16L343.64,369.51Z" fill="#1f8a22"/>
<path d="M360.42,353.47L363.07,356.12L360.42,358.77L357.77,356.12Z" fill="#1f8a22"/>
<path d="M374.06,299.92L376.71,302.57L374.06,305.22L371.41,302.57Z" fill="#1f8a22"/>
<path d="M388.19,264.21L390.84,266.86L388.19,269.51L385.54,266.86Z" fill="#1f8a22"/>
<path d="M360.42,343.48V352.41M358.52,343.48h3.80M358.52,352.41h3.80" stroke="#a800e6" stroke-width="1.1" fill="none"/>
<path d="M374.06,280.25V289.18M372.16,280.25h3.80M372.16,289.18h3.80" stroke="#a800e6" stroke-width="1.1" fill="none"/>
<path d="M388.19,264.13V271.57M386.29,264.13h3.80M386.29,271.57h3.80" stroke="#a800e6" stroke-width="1.1" fill="none"/>
<path d="M262.98,376.88L265.53,381.47L260.43,381.47Z" fill="#a800e6"/>
<path d="M290.99,376.39L293.54,380.98L288.44,380.98Z" fill="#a800e6"/>
<path d="M318.77,375.89L321.32,380.48L316.22,380.48Z" fill="#a800e6"/>
<path d="M332.40,375.89L334.95,380.48L329.85,380.48Z" fill="#a800e6"/>
<path d="M346.29,371.43L348.84,376.02L343.74,376.02Z" fill="#a800e6"/>
<path d="M360.42,345.39L362.97,349.98L357.87,349.98Z" fill="#a800e6"/>
<path d="M374.06,282.16L376.61,286.75L371.51,286.75Z" fill="#a800e6"/>
<path d="M388.19,265.30L390.74,269.89L385.64,269.89Z" fill="#a800e6"/>
<path d="M355.46,327.86V338.27M353.56,327.86h3.80M353.56,338.27h3.80" stroke="#9a0e0e" stroke-width="1.1" fill="none"/>
<path d="M369.10,258.18V265.62M367.20,258.18h3.80M367.20,265.62h3.80" stroke="#9a0e0e" stroke-width="1.1" fill="none"/>
<path d="M383.23,256.20V263.64M381.33,256.20h3.80M381.33,263.64h3.80" stroke="#9a0e0e" stroke-width="1.1" fill="none"/>
<rect x="269.90" y="381.40" width="4.00" height="4.00" fill="#9a0e0e"/>
<rect x="284.04" y="379.91" width="4.00" height="4.00" fill="#9a0e0e"/>
<rect x="297.67" y="379.42" width="4.00" height="4.00" fill="#9a0e0e"/>
<rect x="311.31" y="381.40" width="4.00" height="4.00" fill="#9a0e0e"/>
<rect x="324.95" y="378.18" width="4.00" height="4.00" fill="#9a0e0e"/>
<rect x="339.33" y="369.50" width="4.00" height="4.00" fill="#9a0e0e"/>
<rect x="353.46" y="331.06" width="4.00" height="4.00" fill="#9a0e0e"/>
<rect x="367.10" y="259.90" width="4.00" height="4.00" fill="#9a0e0e"/>
<rect x="381.23" y="257.92" width="4.00" height="4.00" fill="#9a0e0e"/>
<rect x="394.87" y="265.85" width="4.00" height="4.00" fill="#9a0e0e"/>
<path d="M346.29,336.54V346.95M344.39,336.54h3.80M344.39,346.95h3.80" stroke="#5aa5ea" stroke-width="1.1" fill="none"/>
<path d="M360.42,291.41V300.33M358.52,291.41h3.80M358.52,300.33h3.80" stroke="#5aa5ea" stroke-width="1.1" fill="none"/>
<path d="M374.06,268.60V276.04M372.16,268.60h3.80M372.16,276.04h3.80" stroke="#5aa5ea" stroke-width="1.1" fill="none"/>
<path d="M388.19,263.64V271.08M386.29,263.64h3.80M386.29,271.08h3.80" stroke="#5aa5ea" stroke-width="1.1" fill="none"/>
<circle cx="262.98" cy="378.94" r="2.15" fill="#5aa5ea"/>
<circle cx="276.86" cy="385.14" r="2.15" fill="#5aa5ea"/>
<circle cx="290.99" cy="380.18" r="2.15" fill="#5aa5ea"/>
<circle cx="305.13" cy="378.94" r="2.15" fill="#5aa5ea"/>
<circle cx="318.77" cy="375.71" r="2.15" fill="#5aa5ea"/>
<circle cx="332.40" cy="367.78" r="2.15" fill="#5aa5ea"/>
<circle cx="346.29" cy="341.74" r="2.15" fill="#5aa5ea"/>
<circle cx="360.42" cy="295.87" r="2.15" fill="#5aa5ea"/>
<circle cx="374.06" cy="272.32" r="2.15" fill="#5aa5ea"/>
<circle cx="388.19" cy="267.36" r="2.15" fill="#5aa5ea"/>
<path d="M305.13,368.03V373.98M303.23,368.03h3.80M303.23,373.98h3.80" stroke="#1414f0" stroke-width="1.1" fill="none"/>
<path d="M318.77,301.33V311.74M316.87,301.33h3.80M316.87,311.74h3.80" stroke="#1414f0" stroke-width="1.1" fill="none"/>
<circle cx="262.98" cy="378.94" r="2.15" fill="#1414f0"/>
<circle cx="276.86" cy="380.18" r="2.15" fill="#1414f0"/>
<circle cx="290.99" cy="375.96" r="2.15" fill="#1414f0"/>
<circle cx="305.13" cy="371.00" r="2.15" fill="#1414f0"/>
<circle cx="318.77" cy="306.53" r="2.15" fill="#1414f0"/>
<circle cx="332.40" cy="261.90" r="2.15" fill="#1414f0"/>
<circle cx="346.29" cy="262.89" r="2.15" fill="#1414f0"/>
<circle cx="360.42" cy="260.91" r="2.15" fill="#1414f0"/>
<circle cx="374.06" cy="264.38" r="2.15" fill="#1414f0"/>
<circle cx="388.19" cy="260.91" r="2.15" fill="#1414f0"/>
<path d="M313.31,356.62V364.06M311.41,356.62h3.80M311.41,364.06h3.80" stroke="#0b0b7a" stroke-width="1.1" fill="none"/>
<path d="M326.95,270.58V278.02M325.05,270.58h3.80M325.05,278.02h3.80" stroke="#0b0b7a" stroke-width="1.1" fill="none"/>
<circle cx="271.90" cy="377.70" r="2.15" fill="#0b0b7a"/>
<circle cx="286.04" cy="380.18" r="2.15" fill="#0b0b7a"/>
<circle cx="299.67" cy="375.22" r="2.15" fill="#0b0b7a"/>
<circle cx="313.31" cy="360.34" r="2.15" fill="#0b0b7a"/>
<circle cx="326.95" cy="274.30" r="2.15" fill="#0b0b7a"/>
<circle cx="341.33" cy="262.40" r="2.15" fill="#0b0b7a"/>
<circle cx="355.46" cy="262.89" r="2.15" fill="#0b0b7a"/>
<circle cx="369.10" cy="261.90" r="2.15" fill="#0b0b7a"/>
<circle cx="383.23" cy="261.90" r="2.15" fill="#0b0b7a"/>
<circle cx="396.87" cy="261.16" r="2.15" fill="#0b0b7a"/>
<text x="422.00" y="222.30" font-size="10.2" text-anchor="start" font-weight="bold" fill="#000">e</text>
<text x="541.00" y="230.30" font-size="8.7" text-anchor="middle" font-weight="normal" fill="#111" stroke="#111" stroke-width="0.18">Live virus CPE assay with</text>
<text x="541.00" y="240.40" font-size="8.7" text-anchor="middle" font-weight="normal" fill="#111" stroke="#111" stroke-width="0.18">Omicron BA.2 variant</text>
<text x="430.60" y="321.30" font-size="8.6" text-anchor="middle" font-weight="normal" fill="#111" transform="rotate(-90 430.60 321.30)" stroke="#111" stroke-width="0.18">% inhibition in live virus</text>
<text x="441.10" y="321.30" font-size="8.6" text-anchor="middle" font-weight="normal" fill="#111" transform="rotate(-90 441.10 321.30)" stroke="#111" stroke-width="0.18">SARS-CoV-2 CPE assay</text>
<line x1="470.5" y1="250.2" x2="470.5" y2="392.5" stroke="#8a8a8a" stroke-width="1"/>
<line x1="470.5" y1="392.0" x2="612.3" y2="392.0" stroke="#8a8a8a" stroke-width="1"/>
<line x1="467.0" y1="380.10" x2="470.5" y2="380.10" stroke="#8a8a8a" stroke-width="1"/>
<text x="463.20" y="383.00" font-size="8.6" text-anchor="end" font-weight="normal" fill="#111" stroke="#111" stroke-width="0.18">0</text>
<line x1="467.0" y1="356.58" x2="470.5" y2="356.58" stroke="#8a8a8a" stroke-width="1"/>
<text x="463.20" y="359.48" font-size="8.6" text-anchor="end" font-weight="normal" fill="#111" stroke="#111" stroke-width="0.18">20</text>
<line x1="467.0" y1="333.06" x2="470.5" y2="333.06" stroke="#8a8a8a" stroke-width="1"/>
<text x="463.20" y="335.96" font-size="8.6" text-anchor="end" font-weight="normal" fill="#111" stroke="#111" stroke-width="0.18">40</text>
<line x1="467.0" y1="309.54" x2="470.5" y2="309.54" stroke="#8a8a8a" stroke-width="1"/>
<text x="463.20" y="312.44" font-size="8.6" text-anchor="end" font-weight="normal" fill="#111" stroke="#111" stroke-width="0.18">60</text>
<line x1="467.0" y1="286.02" x2="470.5" y2="286.02" stroke="#8a8a8a" stroke-width="1"/>
<text x="463.20" y="288.92" font-size="8.6" text-anchor="end" font-weight="normal" fill="#111" stroke="#111" stroke-width="0.18">80</text>
<line x1="467.0" y1="262.50" x2="470.5" y2="262.50" stroke="#8a8a8a" stroke-width="1"/>
<text x="463.20" y="265.40" font-size="8.6" text-anchor="end" font-weight="normal" fill="#111" stroke="#111" stroke-width="0.18">100</text>
<line x1="485.00" y1="392.0" x2="485.00" y2="395.0" stroke="#8a8a8a" stroke-width="1"/>
<text x="485.40" y="407.50" font-size="8.6" text-anchor="middle" font-weight="normal" fill="#111" stroke="#111" stroke-width="0.18">10<tspan dy="-4.4" font-size="5.9">−9</tspan></text>
<line x1="513.20" y1="392.0" x2="513.20" y2="395.0" stroke="#8a8a8a" stroke-width="1"/>
<text x="513.60" y="407.50" font-size="8.6" text-anchor="middle" font-weight="normal" fill="#111" stroke="#111" stroke-width="0.18">10<tspan dy="-4.4" font-size="5.9">−8</tspan></text>
<line x1="541.40" y1="392.0" x2="541.40" y2="395.0" stroke="#8a8a8a" stroke-width="1"/>
<text x="541.80" y="407.50" font-size="8.6" text-anchor="middle" font-weight="normal" fill="#111" stroke="#111" stroke-width="0.18">10<tspan dy="-4.4" font-size="5.9">−7</tspan></text>
<line x1="569.60" y1="392.0" x2="569.60" y2="395.0" stroke="#8a8a8a" stroke-width="1"/>
<text x="570.00" y="407.50" font-size="8.6" text-anchor="middle" font-weight="normal" fill="#111" stroke="#111" stroke-width="0.18">10<tspan dy="-4.4" font-size="5.9">−6</tspan></text>
<line x1="597.80" y1="392.0" x2="597.80" y2="395.0" stroke="#8a8a8a" stroke-width="1"/>
<text x="598.20" y="407.50" font-size="8.6" text-anchor="middle" font-weight="normal" fill="#111" stroke="#111" stroke-width="0.18">10<tspan dy="-4.4" font-size="5.9">−5</tspan></text>
<text x="536.00" y="423.00" font-size="8.7" text-anchor="middle" font-weight="normal" fill="#111" stroke="#111" stroke-width="0.18">mAb concentration (g ml<tspan dy="-3.4" font-size="5.6">−1</tspan><tspan dy="3.4">)</tspan></text>
<polyline points="472.3,380.1 473.0,380.1 473.7,380.1 474.4,380.1 475.1,380.1 475.8,380.1 476.5,380.1 477.2,380.1 477.9,380.1 478.6,380.1 479.3,380.1 480.0,380.1 480.7,380.1 481.4,380.1 482.1,380.1 482.8,380.1 483.5,380.1 484.3,380.1 485.0,380.1 485.7,380.1 486.4,380.1 487.1,380.1 487.8,380.1 488.5,380.1 489.2,380.1 489.9,380.1 490.6,380.1 491.3,380.1 492.0,380.1 492.7,380.1 493.4,380.1 494.1,380.1 494.8,380.1 495.5,380.0 496.2,380.0 496.9,380.0 497.6,380.0 498.3,380.0 499.0,380.0 499.7,380.0 500.4,380.0 501.1,380.0 501.8,380.0 502.5,380.0 503.2,380.0 503.9,380.0 504.6,380.0 505.3,380.0 506.0,380.0 506.7,380.0 507.4,379.9 508.1,379.9 508.8,379.9 509.5,379.9 510.2,379.9 510.9,379.9 511.6,379.9 512.4,379.9 513.1,379.9 513.8,379.8 514.5,379.8 515.2,379.8 515.9,379.8 516.6,379.8 517.3,379.7 518.0,379.7 518.7,379.7 519.4,379.7 520.1,379.6 520.8,379.6 521.5,379.6 522.2,379.5 522.9,379.5 523.6,379.5 524.3,379.4 525.0,379.4 525.7,379.3 526.4,379.3 527.1,379.2 527.8,379.2 528.5,379.1 529.2,379.1 529.9,379.0 530.6,378.9 531.3,378.9 532.0,378.8 532.7,378.7 533.4,378.6 534.1,378.5 534.8,378.4 535.5,378.3 536.2,378.2 536.9,378.1 537.6,378.0 538.3,377.8 539.0,377.7 539.7,377.5 540.5,377.4 541.2,377.2 541.9,377.0 542.6,376.8 543.3,376.6 544.0,376.4 544.7,376.2 545.4,375.9 546.1,375.7 546.8,375.4 547.5,375.1 548.2,374.8 548.9,374.5 549.6,374.2 550.3,373.8 551.0,373.4 551.7,373.0 552.4,372.6 553.1,372.1 553.8,371.7 554.5,371.2 555.2,370.7 555.9,370.1 556.6,369.5 557.3,368.9 558.0,368.3 558.7,367.6 559.4,366.9 560.1,366.1 560.8,365.4 561.5,364.5 562.2,363.7 562.9,362.8 563.6,361.9 564.3,360.9 565.0,359.9 565.7,358.8 566.4,357.7 567.1,356.6 567.8,355.4 568.6,354.1 569.3,352.9 570.0,351.5 570.7,350.2 571.4,348.8 572.1,347.3 572.8,345.9 573.5,344.3 574.2,342.8 574.9,341.2 575.6,339.5 576.3,337.9 577.0,336.2 577.7,334.5 578.4,332.7 579.1,331.0 579.8,329.2 580.5,327.4 581.2,325.6 581.9,323.8 582.6,322.0 583.3,320.1 584.0,318.3 584.7,316.5 585.4,314.7 586.1,312.9 586.8,311.1 587.5,309.4 588.2,307.6 588.9,305.9 589.6,304.2 590.3,302.6 591.0,301.0" fill="none" stroke="#1f8a22" stroke-width="1.5" stroke-dasharray="3.2,2" stroke-linejoin="round"/>
<polyline points="472.3,380.1 473.0,380.1 473.7,380.1 474.4,380.1 475.1,380.1 475.8,380.1 476.5,380.1 477.2,380.1 477.9,380.1 478.6,380.1 479.3,380.1 480.0,380.1 480.7,380.1 481.4,380.1 482.1,380.1 482.8,380.1 483.5,380.1 484.3,380.1 485.0,380.1 485.7,380.1 486.4,380.1 487.1,380.1 487.8,380.1 488.5,380.1 489.2,380.1 489.9,380.1 490.6,380.1 491.3,380.1 492.0,380.1 492.7,380.1 493.4,380.1 494.1,380.0 494.8,380.0 495.5,380.0 496.2,380.0 496.9,380.0 497.6,380.0 498.3,380.0 499.0,380.0 499.7,380.0 500.4,380.0 501.1,380.0 501.8,380.0 502.5,380.0 503.2,380.0 503.9,380.0 504.6,380.0 505.3,380.0 506.0,380.0 506.7,379.9 507.4,379.9 508.1,379.9 508.8,379.9 509.5,379.9 510.2,379.9 510.9,379.9 511.6,379.9 512.4,379.8 513.1,379.8 513.8,379.8 514.5,379.8 515.2,379.8 515.9,379.7 516.6,379.7 517.3,379.7 518.0,379.7 518.7,379.6 519.4,379.6 520.1,379.6 520.8,379.5 521.5,379.5 522.2,379.5 522.9,379.4 523.6,379.4 524.3,379.3 525.0,379.3 525.7,379.2 526.4,379.2 527.1,379.1 527.8,379.1 528.5,379.0 529.2,378.9 529.9,378.8 530.6,378.8 531.3,378.7 532.0,378.6 532.7,378.5 533.4,378.4 534.1,378.3 534.8,378.2 535.5,378.0 536.2,377.9 536.9,377.8 537.6,377.6 538.3,377.4 539.0,377.3 539.7,377.1 540.5,376.9 541.2,376.7 541.9,376.5 542.6,376.3 543.3,376.0 544.0,375.8 544.7,375.5 545.4,375.2 546.1,374.9 546.8,374.6 547.5,374.2 548.2,373.9 548.9,373.5 549.6,373.1 550.3,372.7 551.0,372.2 551.7,371.7 552.4,371.2 553.1,370.7 553.8,370.2 554.5,369.6 555.2,368.9 555.9,368.3 556.6,367.6 557.3,366.9 558.0,366.1 558.7,365.3 559.4,364.5 560.1,363.6 560.8,362.7 561.5,361.7 562.2,360.7 562.9,359.7 563.6,358.6 564.3,357.5 565.0,356.3 565.7,355.1 566.4,353.8 567.1,352.5 567.8,351.2 568.6,349.8 569.3,348.3 570.0,346.8 570.7,345.3 571.4,343.7 572.1,342.1 572.8,340.5 573.5,338.8 574.2,337.1 574.9,335.4 575.6,333.6 576.3,331.8 577.0,330.0 577.7,328.2 578.4,326.4 579.1,324.5 579.8,322.7 580.5,320.8 581.2,319.0 581.9,317.1 582.6,315.3 583.3,313.5 584.0,311.6 584.7,309.8 585.4,308.1 586.1,306.3 586.8,304.6 587.5,302.9 588.2,301.3 588.9,299.6 589.6,298.1 590.3,296.5 591.0,295.0" fill="none" stroke="#c000c0" stroke-width="1.5" stroke-dasharray="3.2,2" stroke-linejoin="round"/>
<polyline points="472.3,380.1 473.0,380.1 473.7,380.1 474.4,380.1 475.1,380.1 475.8,380.1 476.5,380.1 477.2,380.1 477.9,380.1 478.6,380.1 479.3,380.1 480.0,380.1 480.7,380.1 481.4,380.1 482.1,380.1 482.8,380.1 483.5,380.1 484.2,380.1 484.9,380.1 485.6,380.1 486.3,380.1 487.1,380.1 487.8,380.1 488.5,380.1 489.2,380.1 489.9,380.1 490.6,380.1 491.3,380.1 492.0,380.1 492.7,380.1 493.4,380.1 494.1,380.1 494.8,380.1 495.5,380.1 496.2,380.1 496.9,380.1 497.6,380.1 498.3,380.1 499.0,380.1 499.7,380.1 500.4,380.1 501.1,380.1 501.8,380.1 502.5,380.1 503.2,380.1 503.9,380.1 504.6,380.1 505.3,380.1 506.0,380.1 506.7,380.1 507.4,380.1 508.1,380.1 508.8,380.1 509.5,380.1 510.2,380.1 510.9,380.1 511.6,380.1 512.3,380.1 513.0,380.1 513.7,380.1 514.4,380.1 515.1,380.1 515.8,380.1 516.5,380.1 517.2,380.1 517.9,380.1 518.6,380.1 519.3,380.1 520.0,380.1 520.7,380.1 521.4,380.1 522.1,380.1 522.8,380.1 523.6,380.1 524.3,380.1 525.0,380.1 525.7,380.1 526.4,380.1 527.1,380.1 527.8,380.1 528.5,380.1 529.2,380.1 529.9,380.1 530.6,380.0 531.3,380.0 532.0,380.0 532.7,380.0 533.4,380.0 534.1,380.0 534.8,380.0 535.5,380.0 536.2,379.9 536.9,379.9 537.6,379.9 538.3,379.9 539.0,379.8 539.7,379.8 540.4,379.7 541.1,379.7 541.8,379.6 542.5,379.5 543.2,379.4 543.9,379.3 544.6,379.2 545.3,379.1 546.0,378.9 546.7,378.7 547.4,378.5 548.1,378.3 548.8,378.0 549.5,377.7 550.2,377.3 550.9,376.9 551.6,376.4 552.3,375.9 553.0,375.3 553.7,374.6 554.4,373.8 555.1,372.8 555.8,371.8 556.5,370.6 557.2,369.3 557.9,367.8 558.6,366.1 559.3,364.3 560.1,362.2 560.8,359.9 561.5,357.4 562.2,354.7 562.9,351.7 563.6,348.5 564.3,345.1 565.0,341.5 565.7,337.7 566.4,333.7 567.1,329.6 567.8,325.5 568.5,321.3 569.2,317.1 569.9,312.9 570.6,308.8 571.3,304.9 572.0,301.1 572.7,297.5 573.4,294.0 574.1,290.8 574.8,287.9 575.5,285.1 576.2,282.6 576.9,280.4 577.6,278.3 578.3,276.4 579.0,274.8 579.7,273.3 580.4,272.0 581.1,270.8 581.8,269.7 582.5,268.8 583.2,268.0 583.9,267.3 584.6,266.7 585.3,266.2 586.0,265.7 586.7,265.3 587.4,264.9 588.1,264.6 588.8,264.3 589.5,264.1 590.2,263.9 590.9,263.7 591.6,263.5 592.3,263.4 593.0,263.3 593.7,263.2 594.4,263.1 595.1,263.0 595.9,262.9 596.6,262.9 597.3,262.8 598.0,262.8 598.7,262.7 599.4,262.7 600.1,262.7 600.8,262.7 601.5,262.6" fill="none" stroke="#f5a050" stroke-width="1.5" stroke-linejoin="round"/>
<polyline points="472.3,380.1 473.0,380.1 473.7,380.1 474.4,380.1 475.1,380.1 475.8,380.1 476.5,380.1 477.2,380.1 477.9,380.1 478.6,380.1 479.3,380.1 480.0,380.1 480.7,380.1 481.4,380.1 482.1,380.1 482.8,380.1 483.5,380.1 484.2,380.1 484.9,380.1 485.6,380.1 486.3,380.1 487.1,380.1 487.8,380.1 488.5,380.1 489.2,380.1 489.9,380.1 490.6,380.1 491.3,380.1 492.0,380.0 492.7,380.0 493.4,380.0 494.1,380.0 494.8,380.0 495.5,380.0 496.2,380.0 496.9,380.0 497.6,380.0 498.3,380.0 499.0,380.0 499.7,380.0 500.4,379.9 501.1,379.9 501.8,379.9 502.5,379.9 503.2,379.9 503.9,379.9 504.6,379.8 505.3,379.8 506.0,379.8 506.7,379.8 507.4,379.7 508.1,379.7 508.8,379.6 509.5,379.6 510.2,379.6 510.9,379.5 511.6,379.4 512.3,379.4 513.0,379.3 513.7,379.2 514.4,379.2 515.1,379.1 515.8,379.0 516.5,378.9 517.2,378.7 517.9,378.6 518.6,378.5 519.3,378.3 520.0,378.1 520.7,378.0 521.4,377.8 522.1,377.5 522.8,377.3 523.6,377.0 524.3,376.8 525.0,376.4 525.7,376.1 526.4,375.7 527.1,375.3 527.8,374.9 528.5,374.4 529.2,373.9 529.9,373.3 530.6,372.7 531.3,372.1 532.0,371.3 532.7,370.6 533.4,369.7 534.1,368.8 534.8,367.9 535.5,366.8 536.2,365.7 536.9,364.5 537.6,363.2 538.3,361.9 539.0,360.4 539.7,358.9 540.4,357.2 541.1,355.5 541.8,353.6 542.5,351.7 543.2,349.7 543.9,347.6 544.6,345.4 545.3,343.1 546.0,340.7 546.7,338.3 547.4,335.8 548.1,333.2 548.8,330.6 549.5,328.0 550.2,325.3 550.9,322.6 551.6,319.9 552.3,317.2 553.0,314.6 553.7,311.9 554.4,309.3 555.1,306.8 555.8,304.2 556.5,301.8 557.2,299.5 557.9,297.2 558.6,295.0 559.3,292.9 560.1,290.8 560.8,288.9 561.5,287.1 562.2,285.3 562.9,283.7 563.6,282.2 564.3,280.7 565.0,279.3 565.7,278.1 566.4,276.9 567.1,275.7 567.8,274.7 568.5,273.7 569.2,272.8 569.9,272.0 570.6,271.2 571.3,270.5 572.0,269.9 572.7,269.3 573.4,268.7 574.1,268.2 574.8,267.7 575.5,267.3 576.2,266.9 576.9,266.5 577.6,266.2 578.3,265.8 579.0,265.6 579.7,265.3 580.4,265.1 581.1,264.8 581.8,264.6 582.5,264.5 583.2,264.3 583.9,264.1 584.6,264.0 585.3,263.9 586.0,263.7 586.7,263.6 587.4,263.5 588.1,263.4 588.8,263.4 589.5,263.3 590.2,263.2 590.9,263.2 591.6,263.1 592.3,263.0 593.0,263.0 593.7,263.0 594.4,262.9 595.1,262.9 595.9,262.8 596.6,262.8 597.3,262.8 598.0,262.8 598.7,262.7 599.4,262.7 600.1,262.7 600.8,262.7 601.5,262.7" fill="none" stroke="#5aa5ea" stroke-width="1.5" stroke-dasharray="3.2,2" stroke-linejoin="round"/>
<polyline points="472.3,379.9 473.0,379.9 473.7,379.8 474.4,379.8 475.1,379.8 475.8,379.8 476.5,379.7 477.2,379.7 477.9,379.7 478.6,379.6 479.3,379.6 480.0,379.5 480.7,379.5 481.4,379.4 482.1,379.3 482.8,379.3 483.5,379.2 484.2,379.1 484.9,379.0 485.6,379.0 486.3,378.8 487.1,378.7 487.8,378.6 488.5,378.5 489.2,378.3 489.9,378.2 490.6,378.0 491.3,377.8 492.0,377.6 492.7,377.4 493.4,377.2 494.1,376.9 494.8,376.7 495.5,376.4 496.2,376.0 496.9,375.7 497.6,375.3 498.3,374.9 499.0,374.4 499.7,374.0 500.4,373.4 501.1,372.9 501.8,372.3 502.5,371.6 503.2,370.9 503.9,370.2 504.6,369.4 505.3,368.5 506.0,367.6 506.7,366.6 507.4,365.5 508.1,364.4 508.8,363.1 509.5,361.9 510.2,360.5 510.9,359.0 511.6,357.5 512.3,355.9 513.0,354.2 513.7,352.4 514.4,350.6 515.1,348.6 515.8,346.6 516.5,344.5 517.2,342.4 517.9,340.1 518.6,337.8 519.3,335.5 520.0,333.1 520.7,330.6 521.4,328.1 522.1,325.6 522.8,323.1 523.6,320.6 524.3,318.1 525.0,315.5 525.7,313.1 526.4,310.6 527.1,308.2 527.8,305.8 528.5,303.5 529.2,301.2 529.9,299.0 530.6,296.9 531.3,294.8 532.0,292.8 532.7,291.0 533.4,289.1 534.1,287.4 534.8,285.8 535.5,284.2 536.2,282.7 536.9,281.3 537.6,280.0 538.3,278.8 539.0,277.6 539.7,276.5 540.4,275.5 541.1,274.5 541.8,273.6 542.5,272.8 543.2,272.0 543.9,271.3 544.6,270.6 545.3,270.0 546.0,269.4 546.7,268.9 547.4,268.4 548.1,267.9 548.8,267.5 549.5,267.1 550.2,266.7 550.9,266.4 551.6,266.1 552.3,265.8 553.0,265.5 553.7,265.3 554.4,265.1 555.1,264.8 555.8,264.7 556.5,264.5 557.2,264.3 557.9,264.2 558.6,264.0 559.3,263.9 560.1,263.8 560.8,263.7 561.5,263.6 562.2,263.5 562.9,263.4 563.6,263.3 564.3,263.3 565.0,263.2 565.7,263.2 566.4,263.1 567.1,263.1 567.8,263.0 568.5,263.0 569.2,262.9 569.9,262.9 570.6,262.9 571.3,262.8 572.0,262.8 572.7,262.8 573.4,262.8 574.1,262.7 574.8,262.7 575.5,262.7 576.2,262.7 576.9,262.7 577.6,262.7 578.3,262.6 579.0,262.6 579.7,262.6 580.4,262.6 581.1,262.6 581.8,262.6 582.5,262.6 583.2,262.6 583.9,262.6 584.6,262.6 585.3,262.6 586.0,262.6 586.7,262.6 587.4,262.5 588.1,262.5 588.8,262.5 589.5,262.5 590.2,262.5 590.9,262.5 591.6,262.5 592.3,262.5 593.0,262.5 593.7,262.5 594.4,262.5 595.1,262.5 595.9,262.5 596.6,262.5 597.3,262.5 598.0,262.5 598.7,262.5 599.4,262.5 600.1,262.5 600.8,262.5 601.5,262.5" fill="none" stroke="#9a0e0e" stroke-width="1.5" stroke-linejoin="round"/>
<polyline points="472.3,380.0 473.0,379.9 473.7,379.9 474.4,379.9 475.1,379.9 475.8,379.8 476.5,379.8 477.2,379.8 477.9,379.7 478.6,379.7 479.3,379.6 480.0,379.5 480.7,379.5 481.4,379.4 482.1,379.3 482.8,379.2 483.5,379.1 484.2,379.0 484.9,378.8 485.6,378.7 486.3,378.5 487.1,378.3 487.8,378.0 488.5,377.8 489.2,377.5 489.9,377.2 490.6,376.8 491.3,376.4 492.0,375.9 492.7,375.4 493.4,374.8 494.1,374.2 494.8,373.5 495.5,372.7 496.2,371.8 496.9,370.8 497.6,369.8 498.3,368.6 499.0,367.3 499.7,365.8 500.4,364.2 501.1,362.5 501.8,360.6 502.5,358.6 503.2,356.4 503.9,354.0 504.6,351.5 505.3,348.8 506.0,346.0 506.7,343.0 507.4,339.9 508.1,336.7 508.8,333.3 509.5,329.9 510.2,326.4 510.9,322.9 511.6,319.3 512.3,315.8 513.0,312.3 513.7,308.9 514.4,305.6 515.1,302.3 515.8,299.2 516.5,296.3 517.2,293.4 517.9,290.8 518.6,288.3 519.3,285.9 520.0,283.8 520.7,281.7 521.4,279.9 522.1,278.2 522.8,276.6 523.6,275.2 524.3,273.9 525.0,272.7 525.7,271.6 526.4,270.7 527.1,269.8 527.8,269.0 528.5,268.3 529.2,267.7 529.9,267.1 530.6,266.6 531.3,266.2 532.0,265.8 532.7,265.4 533.4,265.1 534.1,264.8 534.8,264.5 535.5,264.3 536.2,264.1 536.9,263.9 537.6,263.8 538.3,263.6 539.0,263.5 539.7,263.4 540.4,263.3 541.1,263.2 541.8,263.1 542.5,263.0 543.2,263.0 543.9,262.9 544.6,262.9 545.3,262.8 546.0,262.8 546.7,262.8 547.4,262.7 548.1,262.7 548.8,262.7 549.5,262.7 550.2,262.6 550.9,262.6 551.6,262.6 552.3,262.6 553.0,262.6 553.7,262.6 554.4,262.6 555.1,262.6 555.8,262.6 556.5,262.5 557.2,262.5 557.9,262.5 558.6,262.5 559.3,262.5 560.1,262.5 560.8,262.5 561.5,262.5 562.2,262.5 562.9,262.5 563.6,262.5 564.3,262.5 565.0,262.5 565.7,262.5 566.4,262.5 567.1,262.5 567.8,262.5 568.5,262.5 569.2,262.5 569.9,262.5 570.6,262.5 571.3,262.5 572.0,262.5 572.7,262.5 573.4,262.5 574.1,262.5 574.8,262.5 575.5,262.5 576.2,262.5 576.9,262.5 577.6,262.5 578.3,262.5 579.0,262.5 579.7,262.5 580.4,262.5 581.1,262.5 581.8,262.5 582.5,262.5 583.2,262.5 583.9,262.5 584.6,262.5 585.3,262.5 586.0,262.5 586.7,262.5 587.4,262.5 588.1,262.5 588.8,262.5 589.5,262.5 590.2,262.5 590.9,262.5 591.6,262.5 592.3,262.5 593.0,262.5 593.7,262.5 594.4,262.5 595.1,262.5 595.9,262.5 596.6,262.5 597.3,262.5 598.0,262.5 598.7,262.5 599.4,262.5 600.1,262.5 600.8,262.5 601.5,262.5" fill="none" stroke="#1414f0" stroke-width="1.5" stroke-dasharray="3.2,2" stroke-linejoin="round"/>
<polyline points="472.3,380.0 473.0,379.9 473.7,379.9 474.4,379.9 475.1,379.9 475.8,379.9 476.5,379.8 477.2,379.8 477.9,379.8 478.6,379.7 479.3,379.7 480.0,379.7 480.7,379.6 481.4,379.6 482.1,379.5 482.8,379.4 483.5,379.4 484.2,379.3 484.9,379.2 485.6,379.1 486.3,379.0 487.1,378.9 487.8,378.8 488.5,378.6 489.2,378.5 489.9,378.3 490.6,378.1 491.3,377.9 492.0,377.7 492.7,377.5 493.4,377.2 494.1,376.9 494.8,376.6 495.5,376.2 496.2,375.8 496.9,375.4 497.6,374.9 498.3,374.4 499.0,373.8 499.7,373.2 500.4,372.5 501.1,371.8 501.8,371.0 502.5,370.1 503.2,369.1 503.9,368.1 504.6,367.0 505.3,365.8 506.0,364.5 506.7,363.0 507.4,361.5 508.1,359.9 508.8,358.2 509.5,356.3 510.2,354.4 510.9,352.3 511.6,350.1 512.3,347.8 513.0,345.4 513.7,342.9 514.4,340.3 515.1,337.6 515.8,334.9 516.5,332.1 517.2,329.2 517.9,326.3 518.6,323.3 519.3,320.4 520.0,317.4 520.7,314.5 521.4,311.6 522.1,308.8 522.8,306.0 523.6,303.3 524.3,300.7 525.0,298.1 525.7,295.7 526.4,293.3 527.1,291.1 527.8,289.0 528.5,287.0 529.2,285.1 529.9,283.3 530.6,281.7 531.3,280.1 532.0,278.7 532.7,277.3 533.4,276.1 534.1,274.9 534.8,273.8 535.5,272.9 536.2,271.9 536.9,271.1 537.6,270.3 538.3,269.6 539.0,269.0 539.7,268.4 540.4,267.9 541.1,267.4 541.8,266.9 542.5,266.5 543.2,266.1 543.9,265.8 544.6,265.5 545.3,265.2 546.0,265.0 546.7,264.7 547.4,264.5 548.1,264.3 548.8,264.2 549.5,264.0 550.2,263.9 550.9,263.7 551.6,263.6 552.3,263.5 553.0,263.4 553.7,263.3 554.4,263.3 555.1,263.2 555.8,263.1 556.5,263.1 557.2,263.0 557.9,263.0 558.6,262.9 559.3,262.9 560.1,262.8 560.8,262.8 561.5,262.8 562.2,262.8 562.9,262.7 563.6,262.7 564.3,262.7 565.0,262.7 565.7,262.7 566.4,262.6 567.1,262.6 567.8,262.6 568.5,262.6 569.2,262.6 569.9,262.6 570.6,262.6 571.3,262.6 572.0,262.6 572.7,262.6 573.4,262.6 574.1,262.5 574.8,262.5 575.5,262.5 576.2,262.5 576.9,262.5 577.6,262.5 578.3,262.5 579.0,262.5 579.7,262.5 580.4,262.5 581.1,262.5 581.8,262.5 582.5,262.5 583.2,262.5 583.9,262.5 584.6,262.5 585.3,262.5 586.0,262.5 586.7,262.5 587.4,262.5 588.1,262.5 588.8,262.5 589.5,262.5 590.2,262.5 590.9,262.5 591.6,262.5 592.3,262.5 593.0,262.5 593.7,262.5 594.4,262.5 595.1,262.5 595.9,262.5 596.6,262.5 597.3,262.5 598.0,262.5 598.7,262.5 599.4,262.5 600.1,262.5 600.8,262.5 601.5,262.5" fill="none" stroke="#0b0b7a" stroke-width="1.5" stroke-linejoin="round"/>
<path d="M470.48,366.54V373.98M468.58,366.54h3.80M468.58,373.98h3.80" stroke="#1f8a22" stroke-width="1.1" fill="none"/>
<path d="M511.39,368.52V374.47M509.49,368.52h3.80M509.49,374.47h3.80" stroke="#1f8a22" stroke-width="1.1" fill="none"/>
<path d="M538.67,366.54V388.85M536.77,366.54h3.80M536.77,388.85h3.80" stroke="#1f8a22" stroke-width="1.1" fill="none"/>
<path d="M551.81,371.00V376.95M549.91,371.00h3.80M549.91,376.95h3.80" stroke="#1f8a22" stroke-width="1.1" fill="none"/>
<path d="M565.20,353.52V364.68M563.30,353.52h3.80M563.30,364.68h3.80" stroke="#1f8a22" stroke-width="1.1" fill="none"/>
<path d="M578.34,331.95V350.55M576.44,331.95h3.80M576.44,350.55h3.80" stroke="#1f8a22" stroke-width="1.1" fill="none"/>
<path d="M591.23,297.11V304.55M589.33,297.11h3.80M589.33,304.55h3.80" stroke="#1f8a22" stroke-width="1.1" fill="none"/>
<path d="M470.48,367.61L473.13,370.26L470.48,372.91L467.83,370.26Z" fill="#1f8a22"/>
<path d="M484.12,373.81L486.77,376.46L484.12,379.11L481.47,376.46Z" fill="#1f8a22"/>
<path d="M497.75,374.30L500.40,376.95L497.75,379.60L495.10,376.95Z" fill="#1f8a22"/>
<path d="M511.39,368.85L514.04,371.50L511.39,374.15L508.74,371.50Z" fill="#1f8a22"/>
<path d="M525.03,377.53L527.68,380.18L525.03,382.83L522.38,380.18Z" fill="#1f8a22"/>
<path d="M538.67,375.05L541.32,377.70L538.67,380.35L536.02,377.70Z" fill="#1f8a22"/>
<path d="M551.81,371.33L554.46,373.98L551.81,376.63L549.16,373.98Z" fill="#1f8a22"/>
<path d="M565.20,356.45L567.85,359.10L565.20,361.75L562.55,359.10Z" fill="#1f8a22"/>
<path d="M578.34,338.60L580.99,341.25L578.34,343.90L575.69,341.25Z" fill="#1f8a22"/>
<path d="M591.23,298.18L593.88,300.83L591.23,303.48L588.58,300.83Z" fill="#1f8a22"/>
<path d="M484.12,380.92V386.87M482.22,380.92h3.80M482.22,386.87h3.80" stroke="#c000c0" stroke-width="1.1" fill="none"/>
<path d="M538.67,372.99V378.94M536.77,372.99h3.80M536.77,378.94h3.80" stroke="#c000c0" stroke-width="1.1" fill="none"/>
<path d="M551.81,359.10V365.05M549.91,359.10h3.80M549.91,365.05h3.80" stroke="#c000c0" stroke-width="1.1" fill="none"/>
<path d="M565.20,351.66V359.10M563.30,351.66h3.80M563.30,359.10h3.80" stroke="#c000c0" stroke-width="1.1" fill="none"/>
<path d="M578.34,314.47V344.22M576.44,314.47h3.80M576.44,344.22h3.80" stroke="#c000c0" stroke-width="1.1" fill="none"/>
<path d="M470.48,373.91L473.03,378.50L467.93,378.50Z" fill="#c000c0"/>
<path d="M484.12,381.35L486.67,385.94L481.57,385.94Z" fill="#c000c0"/>
<path d="M497.75,372.67L500.30,377.26L495.20,377.26Z" fill="#c000c0"/>
<path d="M511.39,375.15L513.94,379.74L508.84,379.74Z" fill="#c000c0"/>
<path d="M525.03,375.15L527.58,379.74L522.48,379.74Z" fill="#c000c0"/>
<path d="M538.67,373.41L541.22,378.00L536.12,378.00Z" fill="#c000c0"/>
<path d="M551.81,359.53L554.36,364.12L549.26,364.12Z" fill="#c000c0"/>
<path d="M565.20,352.83L567.75,357.42L562.65,357.42Z" fill="#c000c0"/>
<path d="M578.34,326.80L580.89,331.39L575.79,331.39Z" fill="#c000c0"/>
<path d="M591.23,283.40L593.78,287.99L588.68,287.99Z" fill="#c000c0"/>
<path d="M478.66,379.68V385.63M476.76,379.68h3.80M476.76,385.63h3.80" stroke="#f5a050" stroke-width="1.1" fill="none"/>
<path d="M492.30,377.94V383.90M490.40,377.94h3.80M490.40,383.90h3.80" stroke="#f5a050" stroke-width="1.1" fill="none"/>
<path d="M519.57,375.71V383.15M517.67,375.71h3.80M517.67,383.15h3.80" stroke="#f5a050" stroke-width="1.1" fill="none"/>
<path d="M532.96,378.19V387.12M531.06,378.19h3.80M531.06,387.12h3.80" stroke="#f5a050" stroke-width="1.1" fill="none"/>
<path d="M546.60,372.24V378.19M544.70,372.24h3.80M544.70,378.19h3.80" stroke="#f5a050" stroke-width="1.1" fill="none"/>
<path d="M560.24,353.64V359.60M558.34,353.64h3.80M558.34,359.60h3.80" stroke="#f5a050" stroke-width="1.1" fill="none"/>
<path d="M574.12,299.09V306.53M572.22,299.09h3.80M572.22,306.53h3.80" stroke="#f5a050" stroke-width="1.1" fill="none"/>
<path d="M587.02,265.62V273.06M585.12,265.62h3.80M585.12,273.06h3.80" stroke="#f5a050" stroke-width="1.1" fill="none"/>
<path d="M600.66,255.70V261.65M598.76,255.70h3.80M598.76,261.65h3.80" stroke="#f5a050" stroke-width="1.1" fill="none"/>
<circle cx="478.66" cy="382.66" r="2.15" fill="#f5a050"/>
<circle cx="492.30" cy="380.92" r="2.15" fill="#f5a050"/>
<circle cx="505.94" cy="382.66" r="2.15" fill="#f5a050"/>
<circle cx="519.57" cy="379.43" r="2.15" fill="#f5a050"/>
<circle cx="532.96" cy="382.66" r="2.15" fill="#f5a050"/>
<circle cx="546.60" cy="375.22" r="2.15" fill="#f5a050"/>
<circle cx="560.24" cy="356.62" r="2.15" fill="#f5a050"/>
<circle cx="574.12" cy="302.81" r="2.15" fill="#f5a050"/>
<circle cx="587.02" cy="269.34" r="2.15" fill="#f5a050"/>
<circle cx="600.66" cy="258.68" r="2.15" fill="#f5a050"/>
<path d="M538.17,356.12V363.56M536.27,356.12h3.80M536.27,363.56h3.80" stroke="#5aa5ea" stroke-width="1.1" fill="none"/>
<path d="M551.81,315.83V326.99M549.91,315.83h3.80M549.91,326.99h3.80" stroke="#5aa5ea" stroke-width="1.1" fill="none"/>
<path d="M565.20,273.56V282.48M563.30,273.56h3.80M563.30,282.48h3.80" stroke="#5aa5ea" stroke-width="1.1" fill="none"/>
<path d="M578.34,263.14V269.09M576.44,263.14h3.80M576.44,269.09h3.80" stroke="#5aa5ea" stroke-width="1.1" fill="none"/>
<circle cx="470.48" cy="380.18" r="2.15" fill="#5aa5ea"/>
<circle cx="484.12" cy="380.18" r="2.15" fill="#5aa5ea"/>
<circle cx="497.75" cy="382.66" r="2.15" fill="#5aa5ea"/>
<circle cx="511.39" cy="377.70" r="2.15" fill="#5aa5ea"/>
<circle cx="524.53" cy="372.74" r="2.15" fill="#5aa5ea"/>
<circle cx="538.17" cy="359.84" r="2.15" fill="#5aa5ea"/>
<circle cx="551.81" cy="321.41" r="2.15" fill="#5aa5ea"/>
<circle cx="565.20" cy="278.02" r="2.15" fill="#5aa5ea"/>
<circle cx="578.34" cy="266.12" r="2.15" fill="#5aa5ea"/>
<circle cx="591.98" cy="266.12" r="2.15" fill="#5aa5ea"/>
<path d="M505.94,366.04V371.99M504.04,366.04h3.80M504.04,371.99h3.80" stroke="#9a0e0e" stroke-width="1.1" fill="none"/>
<path d="M519.57,328.60V337.53M517.67,328.60h3.80M517.67,337.53h3.80" stroke="#9a0e0e" stroke-width="1.1" fill="none"/>
<path d="M532.96,295.25V306.41M531.06,295.25h3.80M531.06,306.41h3.80" stroke="#9a0e0e" stroke-width="1.1" fill="none"/>
<path d="M546.60,253.72V276.04M544.70,253.72h3.80M544.70,276.04h3.80" stroke="#9a0e0e" stroke-width="1.1" fill="none"/>
<path d="M560.24,253.10V264.26M558.34,253.10h3.80M558.34,264.26h3.80" stroke="#9a0e0e" stroke-width="1.1" fill="none"/>
<path d="M573.38,257.56V276.16M571.48,257.56h3.80M571.48,276.16h3.80" stroke="#9a0e0e" stroke-width="1.1" fill="none"/>
<path d="M587.02,258.93V264.88M585.12,258.93h3.80M585.12,264.88h3.80" stroke="#9a0e0e" stroke-width="1.1" fill="none"/>
<path d="M600.66,256.20V263.64M598.76,256.20h3.80M598.76,263.64h3.80" stroke="#9a0e0e" stroke-width="1.1" fill="none"/>
<rect x="476.66" y="373.96" width="4.00" height="4.00" fill="#9a0e0e"/>
<rect x="490.30" y="381.90" width="4.00" height="4.00" fill="#9a0e0e"/>
<rect x="503.94" y="367.02" width="4.00" height="4.00" fill="#9a0e0e"/>
<rect x="517.57" y="331.06" width="4.00" height="4.00" fill="#9a0e0e"/>
<rect x="530.96" y="298.83" width="4.00" height="4.00" fill="#9a0e0e"/>
<rect x="544.60" y="262.88" width="4.00" height="4.00" fill="#9a0e0e"/>
<rect x="558.24" y="256.68" width="4.00" height="4.00" fill="#9a0e0e"/>
<rect x="571.38" y="264.86" width="4.00" height="4.00" fill="#9a0e0e"/>
<rect x="585.02" y="259.90" width="4.00" height="4.00" fill="#9a0e0e"/>
<rect x="598.66" y="257.92" width="4.00" height="4.00" fill="#9a0e0e"/>
<path d="M497.75,363.07V369.02M495.85,363.07h3.80M495.85,369.02h3.80" stroke="#1414f0" stroke-width="1.1" fill="none"/>
<path d="M511.39,314.59V333.19M509.49,314.59h3.80M509.49,333.19h3.80" stroke="#1414f0" stroke-width="1.1" fill="none"/>
<path d="M524.53,264.88V273.80M522.63,264.88h3.80M522.63,273.80h3.80" stroke="#1414f0" stroke-width="1.1" fill="none"/>
<circle cx="470.48" cy="378.94" r="2.15" fill="#1414f0"/>
<circle cx="484.12" cy="377.20" r="2.15" fill="#1414f0"/>
<circle cx="497.75" cy="366.04" r="2.15" fill="#1414f0"/>
<circle cx="511.39" cy="323.89" r="2.15" fill="#1414f0"/>
<circle cx="524.53" cy="269.34" r="2.15" fill="#1414f0"/>
<circle cx="538.67" cy="266.86" r="2.15" fill="#1414f0"/>
<circle cx="551.81" cy="261.90" r="2.15" fill="#1414f0"/>
<circle cx="565.20" cy="261.90" r="2.15" fill="#1414f0"/>
<circle cx="578.34" cy="261.90" r="2.15" fill="#1414f0"/>
<circle cx="591.98" cy="266.12" r="2.15" fill="#1414f0"/>
<path d="M505.94,360.34V367.78M504.04,360.34h3.80M504.04,367.78h3.80" stroke="#0b0b7a" stroke-width="1.1" fill="none"/>
<path d="M519.57,310.87V329.47M517.67,310.87h3.80M517.67,329.47h3.80" stroke="#0b0b7a" stroke-width="1.1" fill="none"/>
<path d="M573.38,257.44V263.39M571.48,257.44h3.80M571.48,263.39h3.80" stroke="#0b0b7a" stroke-width="1.1" fill="none"/>
<path d="M600.66,255.95V264.88M598.76,255.95h3.80M598.76,264.88h3.80" stroke="#0b0b7a" stroke-width="1.1" fill="none"/>
<circle cx="478.66" cy="374.72" r="2.15" fill="#0b0b7a"/>
<circle cx="492.30" cy="375.22" r="2.15" fill="#0b0b7a"/>
<circle cx="505.94" cy="364.06" r="2.15" fill="#0b0b7a"/>
<circle cx="519.57" cy="320.17" r="2.15" fill="#0b0b7a"/>
<circle cx="533.21" cy="264.38" r="2.15" fill="#0b0b7a"/>
<circle cx="546.60" cy="264.88" r="2.15" fill="#0b0b7a"/>
<circle cx="560.24" cy="262.89" r="2.15" fill="#0b0b7a"/>
<circle cx="573.38" cy="260.41" r="2.15" fill="#0b0b7a"/>
<circle cx="587.02" cy="261.90" r="2.15" fill="#0b0b7a"/>
<circle cx="600.66" cy="260.41" r="2.15" fill="#0b0b7a"/>
<line x1="616.90" y1="270.30" x2="624.90" y2="270.30" stroke="#1414f0" stroke-width="1.3"/>
<circle cx="620.90" cy="270.30" r="1.90" fill="#1414f0"/>
<text x="629.50" y="273.40" font-size="8.7" text-anchor="start" font-weight="normal" fill="#111" stroke="#111" stroke-width="0.18">P2G3</text>
<line x1="616.90" y1="283.30" x2="624.90" y2="283.30" stroke="#5aa5ea" stroke-width="1.3"/>
<circle cx="620.90" cy="283.30" r="1.90" fill="#5aa5ea"/>
<text x="629.50" y="286.40" font-size="8.7" text-anchor="start" font-weight="normal" fill="#111" stroke="#111" stroke-width="0.18">P5C3</text>
<line x1="616.90" y1="296.40" x2="624.90" y2="296.40" stroke="#0b0b7a" stroke-width="1.3"/>
<circle cx="620.90" cy="296.40" r="1.90" fill="#0b0b7a"/>
<text x="629.50" y="299.50" font-size="8.7" text-anchor="start" font-weight="normal" fill="#111" stroke="#111" stroke-width="0.18">P5C3 + P2G3</text>
<line x1="616.90" y1="309.60" x2="624.90" y2="309.60" stroke="#9a0e0e" stroke-width="1.3"/>
<rect x="619.00" y="307.70" width="3.80" height="3.80" fill="#9a0e0e"/>
<text x="629.50" y="312.70" font-size="8.7" text-anchor="start" font-weight="normal" fill="#111" stroke="#111" stroke-width="0.18">AZD mix</text>
<line x1="616.90" y1="322.90" x2="624.90" y2="322.90" stroke="#f5a050" stroke-width="1.3"/>
<circle cx="620.90" cy="322.90" r="1.90" fill="#f5a050"/>
<text x="629.50" y="326.00" font-size="8.7" text-anchor="start" font-weight="normal" fill="#111" stroke="#111" stroke-width="0.18">REGN mix</text>
<line x1="616.90" y1="336.00" x2="624.90" y2="336.00" stroke="#1f8a22" stroke-width="1.3"/>
<path d="M620.90,333.60L623.30,336.00L620.90,338.40L618.50,336.00Z" fill="#1f8a22"/>
<text x="629.50" y="339.10" font-size="8.7" text-anchor="start" font-weight="normal" fill="#111" stroke="#111" stroke-width="0.18">ADG-2</text>
<line x1="616.90" y1="349.30" x2="624.90" y2="349.30" stroke="#c000c0" stroke-width="1.3"/>
<path d="M620.90,347.00L623.20,351.14L618.60,351.14Z" fill="#c000c0"/>
<text x="629.50" y="352.40" font-size="8.7" text-anchor="start" font-weight="normal" fill="#111" stroke="#111" stroke-width="0.18">Sotrovimab</text>
<line x1="617.6" y1="364.80" x2="635.2" y2="364.80" stroke="#000" stroke-width="1.4" stroke-dasharray="4.1,2.4"/>
<line x1="617.6" y1="377.10" x2="635.2" y2="377.10" stroke="#000" stroke-width="1.4"/>
<text x="640.00" y="367.90" font-size="8.7" text-anchor="start" font-weight="normal" fill="#111" stroke="#111" stroke-width="0.18">Single mAb</text>
<text x="640.00" y="380.20" font-size="8.7" text-anchor="start" font-weight="normal" fill="#111" stroke="#111" stroke-width="0.18">mAb mix</text>
<text x="142.20" y="446.30" font-size="10.2" text-anchor="start" font-weight="bold" fill="#000">f</text>
<rect x="222.40" y="495.50" width="37.40" height="15.56" fill="#00b050"/>
<rect x="259.80" y="495.50" width="37.60" height="15.56" fill="#00b050"/>
<rect x="297.40" y="495.50" width="37.50" height="15.56" fill="#ffff99"/>
<rect x="334.90" y="495.50" width="37.30" height="15.56" fill="#f79646"/>
<rect x="372.20" y="495.50" width="37.30" height="15.56" fill="#ffff99"/>
<rect x="409.50" y="495.50" width="37.20" height="15.56" fill="#ffff99"/>
<rect x="222.40" y="511.06" width="37.40" height="15.56" fill="#00b050"/>
<rect x="259.80" y="511.06" width="37.60" height="15.56" fill="#00b050"/>
<rect x="297.40" y="511.06" width="37.50" height="15.56" fill="#00b050"/>
<rect x="334.90" y="511.06" width="37.30" height="15.56" fill="#92d050"/>
<rect x="372.20" y="511.06" width="37.30" height="15.56" fill="#00b050"/>
<rect x="409.50" y="511.06" width="37.20" height="15.56" fill="#00b050"/>
<rect x="222.40" y="526.62" width="37.40" height="15.56" fill="#00b050"/>
<rect x="259.80" y="526.62" width="37.60" height="15.56" fill="#00b050"/>
<rect x="297.40" y="526.62" width="37.50" height="15.56" fill="#00b050"/>
<rect x="334.90" y="526.62" width="37.30" height="15.56" fill="#92d050"/>
<rect x="372.20" y="526.62" width="37.30" height="15.56" fill="#00b050"/>
<rect x="409.50" y="526.62" width="37.20" height="15.56" fill="#92d050"/>
<rect x="222.40" y="542.18" width="37.40" height="15.56" fill="#00b050"/>
<rect x="259.80" y="542.18" width="37.60" height="15.56" fill="#92d050"/>
<rect x="297.40" y="542.18" width="37.50" height="15.56" fill="#f79646"/>
<rect x="334.90" y="542.18" width="37.30" height="15.56" fill="#f79646"/>
<rect x="372.20" y="542.18" width="37.30" height="15.56" fill="#00b050"/>
<rect x="409.50" y="542.18" width="37.20" height="15.56" fill="#d5e8ac"/>
<rect x="222.40" y="557.74" width="37.40" height="15.56" fill="#00b050"/>
<rect x="259.80" y="557.74" width="37.60" height="15.56" fill="#00b050"/>
<rect x="297.40" y="557.74" width="37.50" height="15.56" fill="#c00000"/>
<rect x="334.90" y="557.74" width="37.30" height="15.56" fill="#c00000"/>
<rect x="372.20" y="557.74" width="37.30" height="15.56" fill="#f79646"/>
<rect x="409.50" y="557.74" width="37.20" height="15.56" fill="#c00000"/>
<rect x="222.40" y="573.30" width="37.40" height="15.56" fill="#00b050"/>
<rect x="259.80" y="573.30" width="37.60" height="15.56" fill="#92d050"/>
<rect x="297.40" y="573.30" width="37.50" height="15.56" fill="#c00000"/>
<rect x="334.90" y="573.30" width="37.30" height="15.56" fill="#c00000"/>
<rect x="372.20" y="573.30" width="37.30" height="15.56" fill="#c00000"/>
<rect x="409.50" y="573.30" width="37.20" height="15.56" fill="#c00000"/>
<rect x="222.40" y="588.86" width="37.40" height="15.56" fill="#d5e8ac"/>
<rect x="259.80" y="588.86" width="37.60" height="15.56" fill="#ffff99"/>
<rect x="297.40" y="588.86" width="37.50" height="15.56" fill="#f79646"/>
<rect x="334.90" y="588.86" width="37.30" height="15.56" fill="#c00000"/>
<rect x="372.20" y="588.86" width="37.30" height="15.56" fill="#c00000"/>
<rect x="409.50" y="588.86" width="37.20" height="15.56" fill="#c00000"/>
<line x1="145.4" y1="495.50" x2="446.7" y2="495.50" stroke="#3c3c3c" stroke-width="0.9"/>
<line x1="145.4" y1="511.06" x2="446.7" y2="511.06" stroke="#3c3c3c" stroke-width="0.9"/>
<line x1="145.4" y1="526.62" x2="446.7" y2="526.62" stroke="#3c3c3c" stroke-width="0.9"/>
<line x1="145.4" y1="542.18" x2="446.7" y2="542.18" stroke="#3c3c3c" stroke-width="0.9"/>
<line x1="145.4" y1="557.74" x2="446.7" y2="557.74" stroke="#3c3c3c" stroke-width="0.9"/>
<line x1="145.4" y1="573.30" x2="446.7" y2="573.30" stroke="#3c3c3c" stroke-width="0.9"/>
<line x1="145.4" y1="588.86" x2="446.7" y2="588.86" stroke="#3c3c3c" stroke-width="0.9"/>
<line x1="145.4" y1="604.42" x2="446.7" y2="604.42" stroke="#3c3c3c" stroke-width="0.9"/>
<line x1="145.4" y1="495.50" x2="145.4" y2="604.42" stroke="#3c3c3c" stroke-width="0.9"/>
<line x1="222.4" y1="495.50" x2="222.4" y2="604.42" stroke="#3c3c3c" stroke-width="0.9"/>
<line x1="259.8" y1="495.50" x2="259.8" y2="604.42" stroke="#3c3c3c" stroke-width="0.9"/>
<line x1="297.4" y1="495.50" x2="297.4" y2="604.42" stroke="#3c3c3c" stroke-width="0.9"/>
<line x1="334.9" y1="495.50" x2="334.9" y2="604.42" stroke="#3c3c3c" stroke-width="0.9"/>
<line x1="372.2" y1="495.50" x2="372.2" y2="604.42" stroke="#3c3c3c" stroke-width="0.9"/>
<line x1="409.5" y1="495.50" x2="409.5" y2="604.42" stroke="#3c3c3c" stroke-width="0.9"/>
<line x1="446.7" y1="495.50" x2="446.7" y2="604.42" stroke="#3c3c3c" stroke-width="0.9"/>
<line x1="222.4" y1="450.4" x2="446.7" y2="450.4" stroke="#3c3c3c" stroke-width="0.9"/>
<line x1="222.4" y1="450.4" x2="222.4" y2="495.50" stroke="#3c3c3c" stroke-width="0.9"/>
<line x1="297.4" y1="450.4" x2="297.4" y2="495.50" stroke="#3c3c3c" stroke-width="0.9"/>
<line x1="372.2" y1="450.4" x2="372.2" y2="495.50" stroke="#3c3c3c" stroke-width="0.9"/>
<line x1="446.7" y1="450.4" x2="446.7" y2="495.50" stroke="#3c3c3c" stroke-width="0.9"/>
<line x1="222.4" y1="477.3" x2="446.7" y2="477.3" stroke="#9a9a9a" stroke-width="0.9"/>
<line x1="259.8" y1="477.3" x2="259.8" y2="495.50" stroke="#c4c4c4" stroke-width="0.9"/>
<line x1="334.9" y1="477.3" x2="334.9" y2="495.50" stroke="#c4c4c4" stroke-width="0.9"/>
<line x1="409.5" y1="477.3" x2="409.5" y2="495.50" stroke="#c4c4c4" stroke-width="0.9"/>
<text x="259.90" y="461.00" font-size="8.1" text-anchor="middle" font-weight="normal" fill="#111" stroke="#111" stroke-width="0.18">Delta virus</text>
<text x="259.90" y="471.60" font-size="8.1" text-anchor="middle" font-weight="normal" fill="#111" stroke="#111" stroke-width="0.18">CPE assay</text>
<text x="334.80" y="461.00" font-size="8.1" text-anchor="middle" font-weight="normal" fill="#111" stroke="#111" stroke-width="0.18">Omicron BA.1</text>
<text x="334.80" y="471.60" font-size="8.1" text-anchor="middle" font-weight="normal" fill="#111" stroke="#111" stroke-width="0.18">virus CPE assay</text>
<text x="409.45" y="461.00" font-size="8.1" text-anchor="middle" font-weight="normal" fill="#111" stroke="#111" stroke-width="0.18">Omicron BA.2</text>
<text x="409.45" y="471.60" font-size="8.1" text-anchor="middle" font-weight="normal" fill="#111" stroke="#111" stroke-width="0.18">virus CPE assay</text>
<text x="241.10" y="489.60" font-size="8.1" text-anchor="middle" font-weight="normal" fill="#111" stroke="#111" stroke-width="0.18">IC<tspan dy="2" font-size="5.4">50</tspan></text>
<text x="278.60" y="489.60" font-size="8.1" text-anchor="middle" font-weight="normal" fill="#111" stroke="#111" stroke-width="0.18">IC<tspan dy="2" font-size="5.4">80</tspan></text>
<text x="316.15" y="489.60" font-size="8.1" text-anchor="middle" font-weight="normal" fill="#111" stroke="#111" stroke-width="0.18">IC<tspan dy="2" font-size="5.4">50</tspan></text>
<text x="353.55" y="489.60" font-size="8.1" text-anchor="middle" font-weight="normal" fill="#111" stroke="#111" stroke-width="0.18">IC<tspan dy="2" font-size="5.4">80</tspan></text>
<text x="390.85" y="489.60" font-size="8.1" text-anchor="middle" font-weight="normal" fill="#111" stroke="#111" stroke-width="0.18">IC<tspan dy="2" font-size="5.4">50</tspan></text>
<text x="428.10" y="489.60" font-size="8.1" text-anchor="middle" font-weight="normal" fill="#111" stroke="#111" stroke-width="0.18">IC<tspan dy="2" font-size="5.4">80</tspan></text>
<text x="183.90" y="483.10" font-size="8.1" text-anchor="middle" font-weight="normal" fill="#111" stroke="#111" stroke-width="0.18">Individual and</text>
<text x="183.90" y="493.50" font-size="8.1" text-anchor="middle" font-weight="normal" fill="#111" stroke="#111" stroke-width="0.18">combination mAbs</text>
<text x="183.90" y="507.00" font-size="8.1" text-anchor="middle" font-weight="normal" fill="#111" stroke="#111" stroke-width="0.18">P5C3</text>
<text x="241.10" y="507.00" font-size="8.1" text-anchor="middle" font-weight="normal" fill="#111" stroke="#111" stroke-width="0.18">0.006</text>
<text x="278.60" y="507.00" font-size="8.1" text-anchor="middle" font-weight="normal" fill="#111" stroke="#111" stroke-width="0.18">0.013</text>
<text x="316.15" y="507.00" font-size="8.1" text-anchor="middle" font-weight="normal" fill="#111" stroke="#111" stroke-width="0.18">0.351</text>
<text x="353.55" y="507.00" font-size="8.1" text-anchor="middle" font-weight="normal" fill="#111" stroke="#111" stroke-width="0.18">0.995</text>
<text x="390.85" y="507.00" font-size="8.1" text-anchor="middle" font-weight="normal" fill="#111" stroke="#111" stroke-width="0.18">0.158</text>
<text x="428.10" y="507.00" font-size="8.1" text-anchor="middle" font-weight="normal" fill="#111" stroke="#111" stroke-width="0.18">0.367</text>
<text x="183.90" y="522.56" font-size="8.1" text-anchor="middle" font-weight="normal" fill="#111" stroke="#111" stroke-width="0.18">P2G3</text>
<text x="241.10" y="522.56" font-size="8.1" text-anchor="middle" font-weight="normal" fill="#111" stroke="#111" stroke-width="0.18">0.011</text>
<text x="278.60" y="522.56" font-size="8.1" text-anchor="middle" font-weight="normal" fill="#111" stroke="#111" stroke-width="0.18">0.024</text>
<text x="316.15" y="522.56" font-size="8.1" text-anchor="middle" font-weight="normal" fill="#111" stroke="#111" stroke-width="0.18">0.021</text>
<text x="353.55" y="522.56" font-size="8.1" text-anchor="middle" font-weight="normal" fill="#111" stroke="#111" stroke-width="0.18">0.035</text>
<text x="390.85" y="522.56" font-size="8.1" text-anchor="middle" font-weight="normal" fill="#111" stroke="#111" stroke-width="0.18">0.008</text>
<text x="428.10" y="522.56" font-size="8.1" text-anchor="middle" font-weight="normal" fill="#111" stroke="#111" stroke-width="0.18">0.014</text>
<text x="183.90" y="538.12" font-size="8.1" text-anchor="middle" font-weight="normal" fill="#111" stroke="#111" stroke-width="0.18">P2G3 + P5C3</text>
<text x="241.10" y="538.12" font-size="8.1" text-anchor="middle" font-weight="normal" fill="#111" stroke="#111" stroke-width="0.18">0.006</text>
<text x="278.60" y="538.12" font-size="8.1" text-anchor="middle" font-weight="normal" fill="#111" stroke="#111" stroke-width="0.18">0.012</text>
<text x="316.15" y="538.12" font-size="8.1" text-anchor="middle" font-weight="normal" fill="#111" stroke="#111" stroke-width="0.18">0.025</text>
<text x="353.55" y="538.12" font-size="8.1" text-anchor="middle" font-weight="normal" fill="#111" stroke="#111" stroke-width="0.18">0.039</text>
<text x="390.85" y="538.12" font-size="8.1" text-anchor="middle" font-weight="normal" fill="#111" stroke="#111" stroke-width="0.18">0.013</text>
<text x="428.10" y="538.12" font-size="8.1" text-anchor="middle" font-weight="normal" fill="#111" stroke="#111" stroke-width="0.18">0.027</text>
<text x="183.90" y="553.68" font-size="8.1" text-anchor="middle" font-weight="normal" fill="#111" stroke="#111" stroke-width="0.18">AZD cocktail</text>
<text x="241.10" y="553.68" font-size="8.1" text-anchor="middle" font-weight="normal" fill="#111" stroke="#111" stroke-width="0.18">0.017</text>
<text x="278.60" y="553.68" font-size="8.1" text-anchor="middle" font-weight="normal" fill="#111" stroke="#111" stroke-width="0.18">0.031</text>
<text x="316.15" y="553.68" font-size="8.1" text-anchor="middle" font-weight="normal" fill="#111" stroke="#111" stroke-width="0.18">0.435</text>
<text x="353.55" y="553.68" font-size="8.1" text-anchor="middle" font-weight="normal" fill="#111" stroke="#111" stroke-width="0.18">0.820</text>
<text x="390.85" y="553.68" font-size="8.1" text-anchor="middle" font-weight="normal" fill="#111" stroke="#111" stroke-width="0.18">0.025</text>
<text x="428.10" y="553.68" font-size="8.1" text-anchor="middle" font-weight="normal" fill="#111" stroke="#111" stroke-width="0.18">0.069</text>
<text x="183.90" y="569.24" font-size="8.1" text-anchor="middle" font-weight="normal" fill="#111" stroke="#111" stroke-width="0.18">REGN cocktail</text>
<text x="241.10" y="569.24" font-size="8.1" text-anchor="middle" font-weight="normal" fill="#111" stroke="#111" stroke-width="0.18">0.008</text>
<text x="278.60" y="569.24" font-size="8.1" text-anchor="middle" font-weight="normal" fill="#111" stroke="#111" stroke-width="0.18">0.015</text>
<text x="316.15" y="569.24" font-size="8.1" text-anchor="middle" font-weight="normal" fill="#fff" stroke="#fff" stroke-width="0.18">&gt;20</text>
<text x="353.55" y="569.24" font-size="8.1" text-anchor="middle" font-weight="normal" fill="#fff" stroke="#fff" stroke-width="0.18">&gt;20</text>
<text x="390.85" y="569.24" font-size="8.1" text-anchor="middle" font-weight="normal" fill="#111" stroke="#111" stroke-width="0.18">0.980</text>
<text x="428.10" y="569.24" font-size="8.1" text-anchor="middle" font-weight="normal" fill="#fff" stroke="#fff" stroke-width="0.18">2.0</text>
<text x="183.90" y="584.80" font-size="8.1" text-anchor="middle" font-weight="normal" fill="#111" stroke="#111" stroke-width="0.18">ADG-2</text>
<text x="241.10" y="584.80" font-size="8.1" text-anchor="middle" font-weight="normal" fill="#111" stroke="#111" stroke-width="0.18">0.021</text>
<text x="278.60" y="584.80" font-size="8.1" text-anchor="middle" font-weight="normal" fill="#111" stroke="#111" stroke-width="0.18">0.049</text>
<text x="316.15" y="584.80" font-size="8.1" text-anchor="middle" font-weight="normal" fill="#fff" stroke="#fff" stroke-width="0.18">1.4</text>
<text x="353.55" y="584.80" font-size="8.1" text-anchor="middle" font-weight="normal" fill="#fff" stroke="#fff" stroke-width="0.18">3.1</text>
<text x="390.85" y="584.80" font-size="8.1" text-anchor="middle" font-weight="normal" fill="#fff" stroke="#fff" stroke-width="0.18">3.5</text>
<text x="428.10" y="584.80" font-size="8.1" text-anchor="middle" font-weight="normal" fill="#fff" stroke="#fff" stroke-width="0.18">12.7</text>
<text x="183.90" y="600.36" font-size="8.1" text-anchor="middle" font-weight="normal" fill="#111" stroke="#111" stroke-width="0.18">Sotrovimab</text>
<text x="241.10" y="600.36" font-size="8.1" text-anchor="middle" font-weight="normal" fill="#111" stroke="#111" stroke-width="0.18">0.147</text>
<text x="278.60" y="600.36" font-size="8.1" text-anchor="middle" font-weight="normal" fill="#111" stroke="#111" stroke-width="0.18">0.308</text>
<text x="316.15" y="600.36" font-size="8.1" text-anchor="middle" font-weight="normal" fill="#111" stroke="#111" stroke-width="0.18">0.99</text>
<text x="353.55" y="600.36" font-size="8.1" text-anchor="middle" font-weight="normal" fill="#fff" stroke="#fff" stroke-width="0.18">2.1</text>
<text x="390.85" y="600.36" font-size="8.1" text-anchor="middle" font-weight="normal" fill="#fff" stroke="#fff" stroke-width="0.18">2.2</text>
<text x="428.10" y="600.36" font-size="8.1" text-anchor="middle" font-weight="normal" fill="#fff" stroke="#fff" stroke-width="0.18">8.5</text>
<rect x="459.1" y="491.5" width="77.80" height="14.70" fill="#808080"/>
<rect x="459.1" y="506.2" width="77.80" height="10.70" fill="#00b050"/>
<rect x="459.1" y="516.9" width="77.80" height="10.70" fill="#92d050"/>
<rect x="459.1" y="527.6" width="77.80" height="10.70" fill="#d5e8ac"/>
<rect x="459.1" y="538.3" width="77.80" height="10.70" fill="#ffff99"/>
<rect x="459.1" y="549.0" width="77.80" height="10.50" fill="#f79646"/>
<rect x="459.1" y="559.5" width="77.80" height="10.60" fill="#c00000"/>
<line x1="459.1" y1="491.5" x2="536.9" y2="491.5" stroke="#505050" stroke-width="0.8"/>
<line x1="459.1" y1="506.2" x2="536.9" y2="506.2" stroke="#505050" stroke-width="0.8"/>
<line x1="459.1" y1="516.9" x2="536.9" y2="516.9" stroke="#505050" stroke-width="0.8"/>
<line x1="459.1" y1="527.6" x2="536.9" y2="527.6" stroke="#505050" stroke-width="0.8"/>
<line x1="459.1" y1="538.3" x2="536.9" y2="538.3" stroke="#505050" stroke-width="0.8"/>
<line x1="459.1" y1="549.0" x2="536.9" y2="549.0" stroke="#505050" stroke-width="0.8"/>
<line x1="459.1" y1="559.5" x2="536.9" y2="559.5" stroke="#505050" stroke-width="0.8"/>
<line x1="459.1" y1="570.1" x2="536.9" y2="570.1" stroke="#505050" stroke-width="0.8"/>
<rect x="459.1" y="491.5" width="77.80" height="78.60" fill="none" stroke="#505050" stroke-width="0.8"/>
<text x="498.00" y="501.60" font-size="8.0" text-anchor="middle" font-weight="normal" fill="#e6e6e6" stroke="#e6e6e6" stroke-width="0.18">IC<tspan dy="2" font-size="5">50</tspan><tspan dy="-2"> or IC</tspan><tspan dy="2" font-size="5">80</tspan><tspan dy="-2"> (μg ml</tspan><tspan dy="-3" font-size="5">−1</tspan><tspan dy="3">)</tspan></text>
<text x="498.00" y="514.45" font-size="8.2" text-anchor="middle" font-weight="normal" fill="#111" stroke="#111" stroke-width="0.18">&lt;0.025</text>
<text x="498.00" y="525.15" font-size="8.2" text-anchor="middle" font-weight="normal" fill="#111" stroke="#111" stroke-width="0.18">0.025 to 0.050</text>
<text x="498.00" y="535.85" font-size="8.2" text-anchor="middle" font-weight="normal" fill="#111" stroke="#111" stroke-width="0.18">0.050 to 0.150</text>
<text x="498.00" y="546.55" font-size="8.2" text-anchor="middle" font-weight="normal" fill="#111" stroke="#111" stroke-width="0.18">0.150 to 0.400</text>
<text x="498.00" y="557.15" font-size="8.2" text-anchor="middle" font-weight="normal" fill="#111" stroke="#111" stroke-width="0.18">0.400 to 1.0</text>
<text x="498.00" y="567.70" font-size="8.2" text-anchor="middle" font-weight="normal" fill="#fff" stroke="#fff" stroke-width="0.18">&gt;1.0</text>
</svg>
</body></html>
